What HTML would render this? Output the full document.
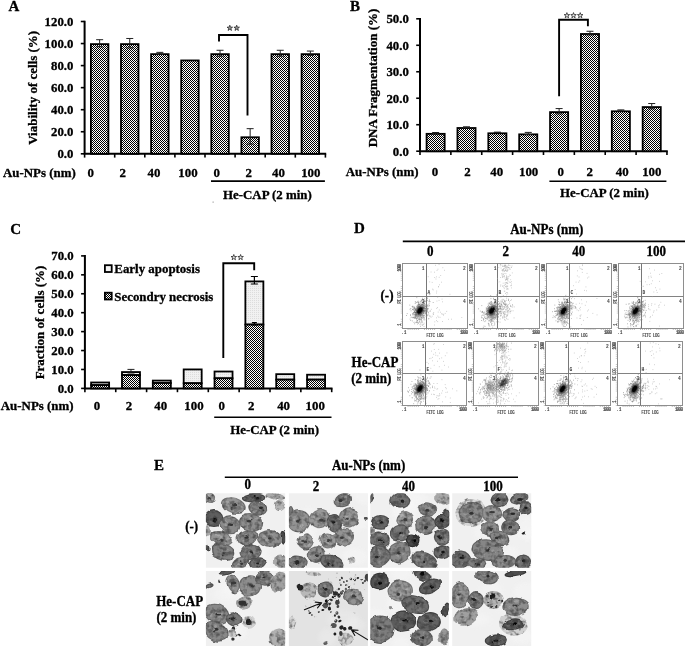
<!DOCTYPE html>
<html><head><meta charset="utf-8"><title>Figure</title>
<style>html,body{margin:0;padding:0;background:#fff}svg{display:block;opacity:.999}</style></head>
<body>
<svg width="685" height="646" viewBox="0 0 685 646" font-family="Liberation Serif, serif" font-weight="bold" fill="#000">
<defs>
<pattern id="chk" width="2" height="2" patternUnits="userSpaceOnUse"><rect width="2" height="2" fill="#fff"/><rect x="0" y="0" width="1" height="1" fill="#000"/><rect x="1" y="1" width="1" height="1" fill="#000"/></pattern>
<pattern id="lt" width="2" height="2" patternUnits="userSpaceOnUse"><rect width="2" height="2" fill="#f1f1f1"/><rect x="0" y="0" width="1" height="1" fill="#dcdcdc"/></pattern>
<filter id="b1" x="-20%" y="-20%" width="140%" height="140%"><feGaussianBlur stdDeviation="0.9"/></filter>
<filter id="b3" x="-50%" y="-50%" width="200%" height="200%"><feGaussianBlur stdDeviation="2"/></filter>
<filter id="cellf" x="-5%" y="-5%" width="110%" height="110%" color-interpolation-filters="sRGB"><feTurbulence type="fractalNoise" baseFrequency="0.09" numOctaves="2" seed="8" result="w"/><feDisplacementMap in="SourceGraphic" in2="w" scale="4.5" xChannelSelector="R" yChannelSelector="G" result="dp"/><feGaussianBlur in="dp" stdDeviation="0.6" result="bl"/><feTurbulence type="fractalNoise" baseFrequency="0.24" numOctaves="2" seed="3" result="n"/><feColorMatrix in="n" type="matrix" values="0 0 0 0 0  0 0 0 0 0  0 0 0 0 0  1.9 0 0 0 -0.85" result="na"/><feComposite in="na" in2="bl" operator="in" result="nm"/><feFlood flood-color="#3a3a3a" result="fl"/><feComposite in="fl" in2="nm" operator="in" result="dk"/><feMerge><feMergeNode in="bl"/><feMergeNode in="dk"/></feMerge></filter>
<filter id="debf" x="-5%" y="-5%" width="110%" height="110%"><feTurbulence type="fractalNoise" baseFrequency="0.25" numOctaves="2" seed="5" result="w"/><feDisplacementMap in="SourceGraphic" in2="w" scale="2.2" xChannelSelector="R" yChannelSelector="G" result="dp"/><feGaussianBlur in="dp" stdDeviation="0.45"/></filter>
<filter id="b2" x="-20%" y="-20%" width="140%" height="140%"><feGaussianBlur stdDeviation="0.5"/></filter>
</defs>
<rect width="685" height="646" fill="#fff"/>
<text x="8.5" y="11" font-size="15" text-anchor="start" stroke="#000" stroke-width="0.3" >A</text>
<path d="M84.6 20.7V153.8H326.2" fill="none" stroke="#000" stroke-width="2"/>
<path d="M80.8 153.80H84.6" stroke="#000" stroke-width="1.6"/>
<text transform="translate(73.39999999999999 158.1) scale(1 1.04)" font-size="12.8" text-anchor="end" stroke="#000" stroke-width="0.3" >0.0</text>
<path d="M80.8 131.75H84.6" stroke="#000" stroke-width="1.6"/>
<text transform="translate(73.39999999999999 136.05) scale(1 1.04)" font-size="12.8" text-anchor="end" stroke="#000" stroke-width="0.3" >20.0</text>
<path d="M80.8 109.70H84.6" stroke="#000" stroke-width="1.6"/>
<text transform="translate(73.39999999999999 114.0) scale(1 1.04)" font-size="12.8" text-anchor="end" stroke="#000" stroke-width="0.3" >40.0</text>
<path d="M80.8 87.65H84.6" stroke="#000" stroke-width="1.6"/>
<text transform="translate(73.39999999999999 91.95) scale(1 1.04)" font-size="12.8" text-anchor="end" stroke="#000" stroke-width="0.3" >60.0</text>
<path d="M80.8 65.60H84.6" stroke="#000" stroke-width="1.6"/>
<text transform="translate(73.39999999999999 69.9) scale(1 1.04)" font-size="12.8" text-anchor="end" stroke="#000" stroke-width="0.3" >80.0</text>
<path d="M80.8 43.55H84.6" stroke="#000" stroke-width="1.6"/>
<text transform="translate(73.39999999999999 47.85) scale(1 1.04)" font-size="12.8" text-anchor="end" stroke="#000" stroke-width="0.3" >100.0</text>
<path d="M80.8 21.50H84.6" stroke="#000" stroke-width="1.6"/>
<text transform="translate(73.39999999999999 25.8) scale(1 1.04)" font-size="12.8" text-anchor="end" stroke="#000" stroke-width="0.3" >120.0</text>
<path d="M84.60 153.8V157.60000000000002" stroke="#000" stroke-width="1.6"/>
<path d="M114.70 153.8V157.60000000000002" stroke="#000" stroke-width="1.6"/>
<path d="M144.80 153.8V157.60000000000002" stroke="#000" stroke-width="1.6"/>
<path d="M174.90 153.8V157.60000000000002" stroke="#000" stroke-width="1.6"/>
<path d="M205.00 153.8V157.60000000000002" stroke="#000" stroke-width="1.6"/>
<path d="M235.10 153.8V157.60000000000002" stroke="#000" stroke-width="1.6"/>
<path d="M265.20 153.8V157.60000000000002" stroke="#000" stroke-width="1.6"/>
<path d="M295.30 153.8V157.60000000000002" stroke="#000" stroke-width="1.6"/>
<path d="M325.40 153.8V157.60000000000002" stroke="#000" stroke-width="1.6"/>
<rect x="90.90" y="44.12" width="17.50" height="109.68" fill="url(#chk)" stroke="#000" stroke-width="1.8"/>
<path d="M99.65 39.69V46.75M96.15 39.69h7M96.15 46.75h7" stroke="#222" stroke-width="1.0" fill="none"/>
<rect x="121.00" y="44.12" width="17.50" height="109.68" fill="url(#chk)" stroke="#000" stroke-width="1.8"/>
<path d="M129.75 38.48V47.96M126.25 38.48h7M126.25 47.96h7" stroke="#222" stroke-width="1.0" fill="none"/>
<rect x="151.10" y="54.15" width="17.50" height="99.65" fill="url(#chk)" stroke="#000" stroke-width="1.8"/>
<path d="M159.85 52.37V54.13M156.35 52.37h7M156.35 54.13h7" stroke="#222" stroke-width="1.0" fill="none"/>
<rect x="181.20" y="60.44" width="17.50" height="93.36" fill="url(#chk)" stroke="#000" stroke-width="1.8"/>
<rect x="211.30" y="54.15" width="17.50" height="99.65" fill="url(#chk)" stroke="#000" stroke-width="1.8"/>
<path d="M220.05 50.28V56.23M216.55 50.28h7M216.55 56.23h7" stroke="#222" stroke-width="1.0" fill="none"/>
<rect x="241.40" y="137.28" width="17.50" height="16.52" fill="url(#chk)" stroke="#000" stroke-width="1.8"/>
<path d="M250.15 128.66V144.10M246.65 128.66h7M246.65 144.10h7" stroke="#222" stroke-width="1.0" fill="none"/>
<rect x="271.50" y="54.15" width="17.50" height="99.65" fill="url(#chk)" stroke="#000" stroke-width="1.8"/>
<path d="M280.25 50.28V56.23M276.75 50.28h7M276.75 56.23h7" stroke="#222" stroke-width="1.0" fill="none"/>
<rect x="301.60" y="54.15" width="17.50" height="99.65" fill="url(#chk)" stroke="#000" stroke-width="1.8"/>
<path d="M310.35 51.05V55.46M306.85 51.05h7M306.85 55.46h7" stroke="#222" stroke-width="1.0" fill="none"/>
<text transform="translate(37.4,87.8) rotate(-90)" font-size="13" text-anchor="middle" stroke="#000" stroke-width="0.3">Viability of cells (%)</text>
<text transform="translate(3 176.8) scale(1 1.04)" font-size="12.9" text-anchor="start" stroke="#000" stroke-width="0.3" >Au-NPs (nm)</text>
<text transform="translate(90.7 176.8) scale(1 1.04)" font-size="12.9" text-anchor="middle" stroke="#000" stroke-width="0.3" >0</text>
<text transform="translate(122.7 176.8) scale(1 1.04)" font-size="12.9" text-anchor="middle" stroke="#000" stroke-width="0.3" >2</text>
<text transform="translate(154 176.8) scale(1 1.04)" font-size="12.9" text-anchor="middle" stroke="#000" stroke-width="0.3" >40</text>
<text transform="translate(188 176.8) scale(1 1.04)" font-size="12.9" text-anchor="middle" stroke="#000" stroke-width="0.3" >100</text>
<text transform="translate(216.6 176.8) scale(1 1.04)" font-size="12.9" text-anchor="middle" stroke="#000" stroke-width="0.3" >0</text>
<text transform="translate(248.6 176.8) scale(1 1.04)" font-size="12.9" text-anchor="middle" stroke="#000" stroke-width="0.3" >2</text>
<text transform="translate(278.5 176.8) scale(1 1.04)" font-size="12.9" text-anchor="middle" stroke="#000" stroke-width="0.3" >40</text>
<text transform="translate(310.8 176.8) scale(1 1.04)" font-size="12.9" text-anchor="middle" stroke="#000" stroke-width="0.3" >100</text>
<path d="M211 181.1H324.9" stroke="#000" stroke-width="1.6"/>
<text transform="translate(267.4 198.7) scale(1 1.04)" font-size="12.9" text-anchor="middle" stroke="#000" stroke-width="0.3" >He-CAP (2 min)</text>
<rect x="212.6" y="201.6" width="1" height="1" fill="#777"/>
<path d="M219 41.6V35H247.5V115.6" fill="none" stroke="#000" stroke-width="1.9"/>
<polygon points="229.80,25.20 230.48,27.17 232.56,27.20 230.89,28.46 231.50,30.45 229.80,29.25 228.10,30.45 228.71,28.46 227.04,27.20 229.12,27.17" fill="#999" stroke="#222" stroke-width="0.75" stroke-linejoin="miter"/>
<polygon points="236.70,25.20 237.38,27.17 239.46,27.20 237.79,28.46 238.40,30.45 236.70,29.25 235.00,30.45 235.61,28.46 233.94,27.20 236.02,27.17" fill="#999" stroke="#222" stroke-width="0.75" stroke-linejoin="miter"/>
<text x="350" y="10.8" font-size="15" text-anchor="start" stroke="#000" stroke-width="0.3" >B</text>
<path d="M420.0 18.0V151.2H667.76" fill="none" stroke="#000" stroke-width="2"/>
<path d="M416.2 151.20H420.0" stroke="#000" stroke-width="1.6"/>
<text transform="translate(408.8 155.5) scale(1 1.04)" font-size="12.8" text-anchor="end" stroke="#000" stroke-width="0.3" >0.0</text>
<path d="M416.2 124.72H420.0" stroke="#000" stroke-width="1.6"/>
<text transform="translate(408.8 129.02) scale(1 1.04)" font-size="12.8" text-anchor="end" stroke="#000" stroke-width="0.3" >10.0</text>
<path d="M416.2 98.24H420.0" stroke="#000" stroke-width="1.6"/>
<text transform="translate(408.8 102.54) scale(1 1.04)" font-size="12.8" text-anchor="end" stroke="#000" stroke-width="0.3" >20.0</text>
<path d="M416.2 71.76H420.0" stroke="#000" stroke-width="1.6"/>
<text transform="translate(408.8 76.06) scale(1 1.04)" font-size="12.8" text-anchor="end" stroke="#000" stroke-width="0.3" >30.0</text>
<path d="M416.2 45.28H420.0" stroke="#000" stroke-width="1.6"/>
<text transform="translate(408.8 49.58) scale(1 1.04)" font-size="12.8" text-anchor="end" stroke="#000" stroke-width="0.3" >40.0</text>
<path d="M416.2 18.80H420.0" stroke="#000" stroke-width="1.6"/>
<text transform="translate(408.8 23.1) scale(1 1.04)" font-size="12.8" text-anchor="end" stroke="#000" stroke-width="0.3" >50.0</text>
<path d="M420.00 151.2V155.0" stroke="#000" stroke-width="1.6"/>
<path d="M450.87 151.2V155.0" stroke="#000" stroke-width="1.6"/>
<path d="M481.74 151.2V155.0" stroke="#000" stroke-width="1.6"/>
<path d="M512.61 151.2V155.0" stroke="#000" stroke-width="1.6"/>
<path d="M543.48 151.2V155.0" stroke="#000" stroke-width="1.6"/>
<path d="M574.35 151.2V155.0" stroke="#000" stroke-width="1.6"/>
<path d="M605.22 151.2V155.0" stroke="#000" stroke-width="1.6"/>
<path d="M636.09 151.2V155.0" stroke="#000" stroke-width="1.6"/>
<path d="M666.96 151.2V155.0" stroke="#000" stroke-width="1.6"/>
<rect x="426.58" y="133.83" width="18.10" height="17.37" fill="url(#chk)" stroke="#000" stroke-width="1.8"/>
<path d="M435.63 132.53V133.33M432.13 132.53h7M432.13 133.33h7" stroke="#222" stroke-width="1.0" fill="none"/>
<rect x="457.45" y="128.00" width="18.10" height="23.20" fill="url(#chk)" stroke="#000" stroke-width="1.8"/>
<path d="M466.50 126.84V127.37M463.00 126.84h7M463.00 127.37h7" stroke="#222" stroke-width="1.0" fill="none"/>
<rect x="488.32" y="133.30" width="18.10" height="17.90" fill="url(#chk)" stroke="#000" stroke-width="1.8"/>
<path d="M497.38 132.13V132.66M493.88 132.13h7M493.88 132.66h7" stroke="#222" stroke-width="1.0" fill="none"/>
<rect x="519.19" y="134.36" width="18.10" height="16.84" fill="url(#chk)" stroke="#000" stroke-width="1.8"/>
<path d="M528.25 132.40V134.52M524.75 132.40h7M524.75 134.52h7" stroke="#222" stroke-width="1.0" fill="none"/>
<rect x="550.06" y="112.12" width="18.10" height="39.08" fill="url(#chk)" stroke="#000" stroke-width="1.8"/>
<path d="M559.12 108.57V113.86M555.62 108.57h7M555.62 113.86h7" stroke="#222" stroke-width="1.0" fill="none"/>
<rect x="580.93" y="34.00" width="18.10" height="117.20" fill="url(#chk)" stroke="#000" stroke-width="1.8"/>
<path d="M589.99 31.25V34.95M586.49 31.25h7M586.49 34.95h7" stroke="#222" stroke-width="1.0" fill="none"/>
<rect x="611.80" y="111.32" width="18.10" height="39.88" fill="url(#chk)" stroke="#000" stroke-width="1.8"/>
<path d="M620.86 109.89V110.95M617.36 109.89h7M617.36 110.95h7" stroke="#222" stroke-width="1.0" fill="none"/>
<rect x="642.67" y="107.08" width="18.10" height="44.12" fill="url(#chk)" stroke="#000" stroke-width="1.8"/>
<path d="M651.73 103.54V108.83M648.23 103.54h7M648.23 108.83h7" stroke="#222" stroke-width="1.0" fill="none"/>
<text transform="translate(376.7,78) rotate(-90)" font-size="13" text-anchor="middle" stroke="#000" stroke-width="0.3">DNA Fragmentation (%)</text>
<text transform="translate(345.8 175.8) scale(1 1.04)" font-size="12.9" text-anchor="start" stroke="#000" stroke-width="0.3" >Au-NPs (nm)</text>
<text transform="translate(435 175.8) scale(1 1.04)" font-size="12.9" text-anchor="middle" stroke="#000" stroke-width="0.3" >0</text>
<text transform="translate(467.4 175.8) scale(1 1.04)" font-size="12.9" text-anchor="middle" stroke="#000" stroke-width="0.3" >2</text>
<text transform="translate(496.8 175.8) scale(1 1.04)" font-size="12.9" text-anchor="middle" stroke="#000" stroke-width="0.3" >40</text>
<text transform="translate(528.6 175.8) scale(1 1.04)" font-size="12.9" text-anchor="middle" stroke="#000" stroke-width="0.3" >100</text>
<text transform="translate(560.6 175.8) scale(1 1.04)" font-size="12.9" text-anchor="middle" stroke="#000" stroke-width="0.3" >0</text>
<text transform="translate(589.8 175.8) scale(1 1.04)" font-size="12.9" text-anchor="middle" stroke="#000" stroke-width="0.3" >2</text>
<text transform="translate(622.2 175.8) scale(1 1.04)" font-size="12.9" text-anchor="middle" stroke="#000" stroke-width="0.3" >40</text>
<text transform="translate(651.8 175.8) scale(1 1.04)" font-size="12.9" text-anchor="middle" stroke="#000" stroke-width="0.3" >100</text>
<path d="M549.4 181.3H666.4" stroke="#000" stroke-width="1.6"/>
<text transform="translate(604.5 197.2) scale(1 1.04)" font-size="12.9" text-anchor="middle" stroke="#000" stroke-width="0.3" >He-CAP (2 min)</text>
<path d="M559.1 96.2V19.8H587.9V26.2" fill="none" stroke="#000" stroke-width="1.9"/>
<polygon points="566.90,12.60 567.58,14.57 569.66,14.60 567.99,15.86 568.60,17.85 566.90,16.65 565.20,17.85 565.81,15.86 564.14,14.60 566.22,14.57" fill="#e8e8e8" stroke="#222" stroke-width="0.75" stroke-linejoin="miter"/>
<polygon points="573.50,12.60 574.18,14.57 576.26,14.60 574.59,15.86 575.20,17.85 573.50,16.65 571.80,17.85 572.41,15.86 570.74,14.60 572.82,14.57" fill="#e8e8e8" stroke="#222" stroke-width="0.75" stroke-linejoin="miter"/>
<polygon points="580.20,12.60 580.88,14.57 582.96,14.60 581.29,15.86 581.90,17.85 580.20,16.65 578.50,17.85 579.11,15.86 577.44,14.60 579.52,14.57" fill="#e8e8e8" stroke="#222" stroke-width="0.75" stroke-linejoin="miter"/>
<text x="10.3" y="233.8" font-size="15" text-anchor="start" stroke="#000" stroke-width="0.3" >C</text>
<path d="M84.9 255.1V388.4H332.50000000000006" fill="none" stroke="#000" stroke-width="2"/>
<path d="M81.10000000000001 388.40H84.9" stroke="#000" stroke-width="1.6"/>
<text transform="translate(73.7 392.7) scale(1 1.04)" font-size="12.8" text-anchor="end" stroke="#000" stroke-width="0.3" >0.0</text>
<path d="M81.10000000000001 369.47H84.9" stroke="#000" stroke-width="1.6"/>
<text transform="translate(73.7 373.77) scale(1 1.04)" font-size="12.8" text-anchor="end" stroke="#000" stroke-width="0.3" >10.0</text>
<path d="M81.10000000000001 350.54H84.9" stroke="#000" stroke-width="1.6"/>
<text transform="translate(73.7 354.84) scale(1 1.04)" font-size="12.8" text-anchor="end" stroke="#000" stroke-width="0.3" >20.0</text>
<path d="M81.10000000000001 331.61H84.9" stroke="#000" stroke-width="1.6"/>
<text transform="translate(73.7 335.91) scale(1 1.04)" font-size="12.8" text-anchor="end" stroke="#000" stroke-width="0.3" >30.0</text>
<path d="M81.10000000000001 312.69H84.9" stroke="#000" stroke-width="1.6"/>
<text transform="translate(73.7 316.99) scale(1 1.04)" font-size="12.8" text-anchor="end" stroke="#000" stroke-width="0.3" >40.0</text>
<path d="M81.10000000000001 293.76H84.9" stroke="#000" stroke-width="1.6"/>
<text transform="translate(73.7 298.06) scale(1 1.04)" font-size="12.8" text-anchor="end" stroke="#000" stroke-width="0.3" >50.0</text>
<path d="M81.10000000000001 274.83H84.9" stroke="#000" stroke-width="1.6"/>
<text transform="translate(73.7 279.13) scale(1 1.04)" font-size="12.8" text-anchor="end" stroke="#000" stroke-width="0.3" >60.0</text>
<path d="M81.10000000000001 255.90H84.9" stroke="#000" stroke-width="1.6"/>
<text transform="translate(73.7 260.2) scale(1 1.04)" font-size="12.8" text-anchor="end" stroke="#000" stroke-width="0.3" >70.0</text>
<path d="M84.90 388.4V392.2" stroke="#000" stroke-width="1.6"/>
<path d="M115.75 388.4V392.2" stroke="#000" stroke-width="1.6"/>
<path d="M146.60 388.4V392.2" stroke="#000" stroke-width="1.6"/>
<path d="M177.45 388.4V392.2" stroke="#000" stroke-width="1.6"/>
<path d="M208.30 388.4V392.2" stroke="#000" stroke-width="1.6"/>
<path d="M239.15 388.4V392.2" stroke="#000" stroke-width="1.6"/>
<path d="M270.00 388.4V392.2" stroke="#000" stroke-width="1.6"/>
<path d="M300.85 388.4V392.2" stroke="#000" stroke-width="1.6"/>
<path d="M331.70 388.4V392.2" stroke="#000" stroke-width="1.6"/>
<rect x="91.12" y="382.49" width="18.00" height="2.65" fill="url(#lt)" stroke="#000" stroke-width="1.8"/>
<rect x="91.12" y="385.14" width="18.00" height="3.26" fill="url(#chk)" stroke="#000" stroke-width="1.8"/>
<rect x="121.98" y="372.07" width="18.00" height="3.03" fill="url(#lt)" stroke="#000" stroke-width="1.8"/>
<rect x="121.98" y="375.10" width="18.00" height="13.30" fill="url(#chk)" stroke="#000" stroke-width="1.8"/>
<rect x="152.83" y="380.59" width="18.00" height="2.46" fill="url(#lt)" stroke="#000" stroke-width="1.8"/>
<rect x="152.83" y="383.05" width="18.00" height="5.35" fill="url(#chk)" stroke="#000" stroke-width="1.8"/>
<rect x="183.68" y="369.42" width="18.00" height="13.82" fill="url(#lt)" stroke="#000" stroke-width="1.8"/>
<rect x="183.68" y="383.24" width="18.00" height="5.16" fill="url(#chk)" stroke="#000" stroke-width="1.8"/>
<rect x="214.53" y="371.51" width="18.00" height="6.81" fill="url(#lt)" stroke="#000" stroke-width="1.8"/>
<rect x="214.53" y="378.32" width="18.00" height="10.08" fill="url(#chk)" stroke="#000" stroke-width="1.8"/>
<rect x="245.38" y="281.41" width="18.00" height="43.16" fill="url(#lt)" stroke="#000" stroke-width="1.8"/>
<rect x="245.38" y="324.56" width="18.00" height="63.84" fill="url(#chk)" stroke="#000" stroke-width="1.8"/>
<rect x="276.23" y="374.16" width="18.00" height="5.49" fill="url(#lt)" stroke="#000" stroke-width="1.8"/>
<rect x="276.23" y="379.65" width="18.00" height="8.75" fill="url(#chk)" stroke="#000" stroke-width="1.8"/>
<rect x="307.07" y="374.72" width="18.00" height="4.92" fill="url(#lt)" stroke="#000" stroke-width="1.8"/>
<rect x="307.07" y="379.65" width="18.00" height="8.75" fill="url(#chk)" stroke="#000" stroke-width="1.8"/>
<path d="M130.98 369.40V373.00M127.48 369.40h7M127.48 373.00h7" stroke="#222" stroke-width="1.0" fill="none"/>
<path d="M254.38 276.50V284.00M250.88 276.50h7M250.88 284.00h7" stroke="#000" stroke-width="1.2" fill="none"/>
<path d="M254.38 322.60V324.80M251.88 322.60h5M251.88 324.80h5" stroke="#000" stroke-width="1.2" fill="none"/>
<text transform="translate(44.3,322.5) rotate(-90)" font-size="13" text-anchor="middle" stroke="#000" stroke-width="0.3">Fraction of cells (%)</text>
<text transform="translate(0.8 410.2) scale(1 1.04)" font-size="12.9" text-anchor="start" stroke="#000" stroke-width="0.3" >Au-NPs (nm)</text>
<text transform="translate(97 410.2) scale(1 1.04)" font-size="12.9" text-anchor="middle" stroke="#000" stroke-width="0.3" >0</text>
<text transform="translate(129 410.2) scale(1 1.04)" font-size="12.9" text-anchor="middle" stroke="#000" stroke-width="0.3" >2</text>
<text transform="translate(160.8 410.2) scale(1 1.04)" font-size="12.9" text-anchor="middle" stroke="#000" stroke-width="0.3" >40</text>
<text transform="translate(194 410.2) scale(1 1.04)" font-size="12.9" text-anchor="middle" stroke="#000" stroke-width="0.3" >100</text>
<text transform="translate(221.7 410.2) scale(1 1.04)" font-size="12.9" text-anchor="middle" stroke="#000" stroke-width="0.3" >0</text>
<text transform="translate(251.1 410.2) scale(1 1.04)" font-size="12.9" text-anchor="middle" stroke="#000" stroke-width="0.3" >2</text>
<text transform="translate(283.6 410.2) scale(1 1.04)" font-size="12.9" text-anchor="middle" stroke="#000" stroke-width="0.3" >40</text>
<text transform="translate(315.2 410.2) scale(1 1.04)" font-size="12.9" text-anchor="middle" stroke="#000" stroke-width="0.3" >100</text>
<path d="M214.2 417.3H331.5" stroke="#000" stroke-width="1.6"/>
<text transform="translate(274.6 434.4) scale(1 1.04)" font-size="12.9" text-anchor="middle" stroke="#000" stroke-width="0.3" >He-CAP (2 min)</text>
<path d="M223.3 358V263.3H254.2V270.3" fill="none" stroke="#000" stroke-width="1.9"/>
<polygon points="233.80,254.50 234.48,256.47 236.56,256.50 234.89,257.76 235.50,259.75 233.80,258.55 232.10,259.75 232.71,257.76 231.04,256.50 233.12,256.47" fill="#e8e8e8" stroke="#222" stroke-width="0.75" stroke-linejoin="miter"/>
<polygon points="240.60,254.50 241.28,256.47 243.36,256.50 241.69,257.76 242.30,259.75 240.60,258.55 238.90,259.75 239.51,257.76 237.84,256.50 239.92,256.47" fill="#e8e8e8" stroke="#222" stroke-width="0.75" stroke-linejoin="miter"/>
<rect x="104.9" y="265.2" width="6.8" height="6.8" fill="#f4f4f4" stroke="#000" stroke-width="1.8"/>
<text transform="translate(114.3 273) scale(1 1.04)" font-size="12.9" text-anchor="start" stroke="#000" stroke-width="0.3" >Early apoptosis</text>
<rect x="104.9" y="292.7" width="6.8" height="6.8" fill="url(#chk)" stroke="#000" stroke-width="1.8"/>
<text transform="translate(114.3 300.6) scale(1 1.04)" font-size="12.9" text-anchor="start" stroke="#000" stroke-width="0.3" >Secondry necrosis</text>
<text transform="translate(354 233) scale(1 1.04)" font-size="15" text-anchor="start" stroke="#000" stroke-width="0.3" >D</text>
<text transform="translate(546.8 234.3) scale(1 1.04)" font-size="13" text-anchor="middle" stroke="#000" stroke-width="0.3" >Au-NPs (nm)</text>
<path d="M402.8 241.4H685" stroke="#000" stroke-width="1.6"/>
<text transform="translate(430.3 255.9) scale(1 1.04)" font-size="13" text-anchor="middle" stroke="#000" stroke-width="0.3" >0</text>
<text transform="translate(505.8 255.9) scale(1 1.04)" font-size="13" text-anchor="middle" stroke="#000" stroke-width="0.3" >2</text>
<text transform="translate(578.8 255.9) scale(1 1.04)" font-size="13" text-anchor="middle" stroke="#000" stroke-width="0.3" >40</text>
<text transform="translate(656.2 255.9) scale(1 1.04)" font-size="13" text-anchor="middle" stroke="#000" stroke-width="0.3" >100</text>
<text transform="translate(387 300.2) scale(1 1.04)" font-size="13" text-anchor="middle" stroke="#000" stroke-width="0.3" >(-)</text>
<text transform="translate(375 366.6) scale(1 1.04)" font-size="13" text-anchor="middle" stroke="#000" stroke-width="0.3" >He-CAP</text>
<text transform="translate(371.2 382.6) scale(1 1.04)" font-size="13" text-anchor="middle" stroke="#000" stroke-width="0.3" >(2 min)</text>
<g>
<rect x="402.5" y="263.5" width="65.0" height="65.0" fill="#fff" stroke="#8e8e8e" stroke-width="1"/>
<path d="M402.5 296.5H467.5" stroke="#828282" stroke-width="1"/>
<path d="M426.5 263.5V328.5" stroke="#787878" stroke-width="1.0"/>
<ellipse cx="419.9" cy="311.0" rx="5.4" ry="3.6" transform="rotate(-62 419.9 310.5)" fill="#777" opacity="0.55" filter="url(#b3)"/>
<path d="M417.5 317.1h.7M421.2 304.7h.7M415.7 316.7h.7M424.9 310.4h.7M412.1 313.7h.7M423.5 308.1h.7M427.6 305.2h.7M418.7 310.4h.7M426.6 297.7h.7M413.9 311.9h.7M420.7 310.3h.7M418.7 312.0h.7M422.9 310.6h.7M423.8 305.7h.7M416.9 320.4h.7M415.1 316.9h.7M415.5 317.5h.7M418.3 314.6h.7M429.5 294.7h.7M418.1 303.8h.7M421.2 313.2h.7M420.8 311.7h.7M417.0 308.0h.7M419.0 306.2h.7M423.8 300.6h.7M421.9 307.2h.7M420.8 304.8h.7M422.5 305.5h.7M425.7 305.8h.7M417.8 308.3h.7M423.7 307.8h.7M423.6 301.9h.7M423.2 308.9h.7M421.4 309.6h.7M418.5 308.4h.7M415.6 314.5h.7M426.5 310.7h.7M426.2 308.0h.7M424.5 308.2h.7M422.9 311.2h.7M424.1 301.4h.7M424.2 317.7h.7M423.8 311.3h.7M418.8 304.1h.7M432.8 302.5h.7M422.9 311.2h.7M417.4 308.1h.7M420.8 311.8h.7M425.5 306.6h.7M424.4 312.9h.7M420.2 315.7h.7M422.3 304.6h.7M411.7 317.2h.7M422.3 310.4h.7M421.3 301.1h.7M422.0 311.8h.7M411.8 306.5h.7M429.7 311.3h.7M419.9 303.9h.7M419.4 312.9h.7M429.3 299.9h.7M425.3 313.1h.7M425.7 314.6h.7M416.3 312.8h.7M426.6 309.9h.7M422.8 308.0h.7M412.2 317.7h.7M416.4 312.3h.7M420.6 307.0h.7M422.5 306.9h.7M419.3 312.3h.7M423.9 310.2h.7M417.7 312.3h.7M421.0 320.2h.7M423.6 303.2h.7M414.5 310.3h.7M421.1 310.1h.7M427.2 300.6h.7M409.7 309.3h.7M424.7 304.2h.7M415.7 318.5h.7M426.3 325.1h.7M425.1 306.3h.7M412.5 307.0h.7M414.5 308.0h.7M414.8 303.4h.7M421.1 317.3h.7M421.0 300.3h.7M418.2 319.6h.7M419.3 304.5h.7M415.6 312.4h.7M414.2 314.8h.7M425.8 305.9h.7M425.7 300.6h.7M416.3 309.2h.7M415.3 308.4h.7M416.9 320.3h.7M426.9 305.3h.7M424.7 304.7h.7M418.0 314.1h.7M415.2 310.0h.7M410.1 315.6h.7M420.4 310.8h.7M423.1 315.6h.7M422.3 310.8h.7M420.9 303.1h.7M416.5 321.4h.7M422.1 316.4h.7M424.1 310.9h.7M415.5 302.7h.7M419.9 305.7h.7M416.3 313.2h.7M425.0 308.6h.7M417.6 302.4h.7M410.5 308.5h.7M421.5 312.2h.7M418.4 314.6h.7M423.8 311.4h.7M414.8 312.7h.7M423.3 317.7h.7M422.7 305.1h.7M420.9 309.7h.7M419.8 309.1h.7M414.9 309.6h.7M423.3 316.9h.7M421.7 308.1h.7M419.5 311.6h.7M418.9 307.5h.7M421.3 310.1h.7M415.1 312.5h.7M413.5 313.1h.7M414.9 301.5h.7M417.1 310.5h.7M418.4 313.6h.7M423.5 305.3h.7M417.5 309.9h.7M422.5 312.9h.7M415.0 310.1h.7M412.6 314.3h.7M419.3 319.3h.7M420.2 308.3h.7M422.1 302.2h.7M424.7 308.5h.7M410.3 314.7h.7M420.1 316.7h.7M419.8 301.9h.7M421.8 304.7h.7M417.0 311.3h.7M413.1 308.4h.7M412.9 312.8h.7M428.1 312.4h.7M426.9 296.8h.7M413.5 317.9h.7M423.5 319.0h.7M419.2 306.3h.7M424.4 307.1h.7M413.4 317.1h.7M419.3 311.7h.7M419.2 309.2h.7M418.6 308.4h.7M422.1 317.8h.7M422.4 309.7h.7M414.6 317.7h.7M418.2 304.0h.7M421.9 304.5h.7M420.7 308.3h.7M424.4 311.9h.7M423.7 315.6h.7M414.6 312.3h.7M418.6 305.0h.7M421.7 314.1h.7M417.8 301.2h.7M427.5 311.9h.7M422.7 304.3h.7M417.2 312.8h.7M415.6 315.4h.7M418.9 311.1h.7M422.7 304.4h.7M419.0 319.5h.7M415.3 314.7h.7M418.4 310.4h.7M416.1 314.8h.7M424.4 298.9h.7M423.1 313.4h.7M424.6 308.5h.7M416.1 302.4h.7M417.7 314.9h.7M425.6 310.7h.7M420.5 307.8h.7M419.3 309.9h.7M422.8 310.7h.7M416.3 310.5h.7M420.9 316.8h.7M426.9 306.4h.7M425.1 308.1h.7M422.0 311.8h.7M416.1 315.1h.7M420.1 315.4h.7M417.8 313.0h.7M425.5 311.3h.7M414.5 312.4h.7M418.8 304.4h.7M419.4 307.2h.7M413.7 307.3h.7M420.4 306.1h.7M423.9 319.0h.7M433.3 314.2h.7M420.0 307.9h.7M425.4 313.2h.7M421.3 311.5h.7M418.5 306.2h.7M418.7 308.9h.7M419.0 318.2h.7M422.1 307.5h.7M410.7 310.8h.7M421.0 308.0h.7M414.7 318.4h.7M415.3 317.7h.7M421.5 310.5h.7M421.1 309.8h.7M415.3 315.1h.7M417.6 312.5h.7M422.7 310.5h.7M416.5 297.6h.7M420.5 308.2h.7M429.7 301.6h.7M416.3 319.2h.7M421.6 315.0h.7M416.4 315.3h.7M419.2 310.9h.7M412.2 309.6h.7M424.5 310.3h.7M416.4 308.8h.7M422.3 310.7h.7M419.3 311.3h.7M420.5 301.6h.7M412.1 309.3h.7M415.4 312.3h.7M414.8 313.7h.7M424.6 301.6h.7M426.6 315.5h.7M414.1 307.3h.7M418.1 306.7h.7M420.7 300.2h.7M413.0 310.0h.7M416.9 308.0h.7M418.5 310.1h.7M421.1 315.3h.7M422.9 306.2h.7M413.8 312.6h.7M428.4 314.0h.7M416.0 311.1h.7M414.3 311.6h.7M416.4 314.7h.7M424.2 303.7h.7M413.2 309.7h.7M420.4 309.4h.7M412.8 314.1h.7M423.0 312.7h.7M422.4 307.9h.7M420.0 312.7h.7M426.9 314.9h.7M415.4 315.1h.7M422.8 303.9h.7M424.0 303.6h.7M419.1 309.1h.7M412.7 315.1h.7M428.6 301.3h.7M424.8 309.5h.7M424.9 309.9h.7M418.4 311.3h.7M421.7 305.1h.7M415.2 316.4h.7M420.3 314.3h.7M414.3 311.8h.7M423.9 315.2h.7M420.3 311.1h.7M420.9 311.1h.7M427.2 308.9h.7M419.4 321.1h.7M418.9 309.9h.7M426.5 298.8h.7M428.8 303.2h.7M418.4 316.4h.7M421.7 306.7h.7M411.9 320.9h.7M415.8 309.2h.7M424.5 301.3h.7M417.8 311.8h.7M415.1 312.7h.7M421.2 310.7h.7M418.1 312.7h.7M417.5 318.2h.7M418.4 314.5h.7M415.5 313.8h.7M416.6 307.0h.7M427.1 298.7h.7M417.3 309.4h.7M429.1 305.7h.7M416.4 306.3h.7M420.4 314.1h.7M414.6 310.5h.7M413.9 314.6h.7M417.9 309.1h.7M429.0 316.0h.7M421.8 300.0h.7M421.2 309.0h.7M422.9 313.3h.7M417.9 311.4h.7M418.5 312.1h.7M426.2 306.0h.7M414.5 316.0h.7M420.2 315.9h.7M423.4 311.2h.7M413.6 307.0h.7M422.0 308.8h.7M417.2 305.5h.7M417.9 308.7h.7M419.0 314.5h.7M418.1 307.0h.7M406.8 313.6h.7M421.8 315.5h.7M412.5 306.2h.7M418.7 315.4h.7M428.6 304.9h.7M421.6 309.2h.7M415.3 314.6h.7M416.4 310.5h.7M418.8 309.4h.7M425.5 311.8h.7M423.4 307.8h.7M414.3 308.6h.7M421.3 312.1h.7M420.9 317.8h.7M420.1 312.8h.7M414.9 309.5h.7M422.3 298.3h.7M420.8 305.0h.7M418.1 307.6h.7M421.6 314.3h.7M422.9 299.6h.7M423.0 312.4h.7M420.3 314.9h.7M419.5 315.4h.7M425.1 310.9h.7M417.1 306.4h.7M418.3 305.1h.7M427.0 310.0h.7M419.9 306.6h.7M424.0 305.2h.7M415.1 315.7h.7M423.1 303.1h.7M419.2 309.2h.7M413.3 317.5h.7M421.6 309.2h.7M412.5 307.0h.7M425.8 306.1h.7M427.1 308.3h.7M416.6 311.4h.7M426.2 312.4h.7M414.2 318.0h.7M419.6 315.0h.7M423.3 302.9h.7M416.4 316.5h.7M414.1 308.7h.7M420.8 305.2h.7M417.7 304.6h.7M418.5 302.4h.7M417.2 301.9h.7M422.8 303.2h.7M414.5 317.4h.7M417.7 306.9h.7M419.3 313.4h.7M409.5 305.1h.7M420.0 313.4h.7M424.0 311.1h.7M426.1 318.9h.7M423.3 307.3h.7M426.2 307.3h.7M418.2 308.8h.7M424.3 306.5h.7M410.7 317.3h.7M421.6 308.5h.7M422.8 310.5h.7M425.4 313.0h.7M416.9 312.5h.7M423.3 310.5h.7M427.0 309.8h.7M422.2 315.1h.7M417.9 306.2h.7M426.2 315.4h.7M420.7 305.8h.7M410.4 320.4h.7M418.1 314.0h.7M429.2 301.0h.7M417.8 307.1h.7M415.7 315.7h.7M428.2 318.8h.7M416.7 311.2h.7M423.5 305.3h.7M420.4 319.0h.7M414.7 309.3h.7M422.4 310.0h.7M421.1 313.5h.7M419.5 304.8h.7M406.1 315.5h.7M423.5 313.6h.7M427.4 308.5h.7M425.5 301.7h.7M418.1 302.4h.7M423.2 308.0h.7M418.2 310.1h.7M417.0 316.1h.7M422.5 303.7h.7M419.3 306.6h.7M417.4 307.3h.7M420.3 308.3h.7M418.9 307.8h.7M415.3 315.4h.7M428.1 308.8h.7M421.5 313.7h.7M423.4 307.7h.7M416.3 318.5h.7M420.8 317.5h.7M424.2 308.0h.7M414.4 323.8h.7M417.9 304.6h.7M423.0 306.0h.7M417.1 309.9h.7M415.5 314.5h.7" stroke="#777" stroke-width=".7" fill="none" opacity="1"/>
<path d="M428.7 318.6h.7M420.0 313.9h.7M417.5 314.5h.7M416.7 322.3h.7M418.6 322.3h.7M415.9 322.6h.7M419.3 321.2h.7M419.1 312.6h.7M423.0 315.1h.7M419.0 312.6h.7M420.0 315.4h.7M420.2 319.4h.7M417.3 309.7h.7M420.7 322.5h.7M421.5 311.2h.7M421.2 319.6h.7M420.3 319.9h.7M418.4 318.7h.7M422.2 314.7h.7M415.1 316.9h.7M420.0 307.4h.7M417.4 320.7h.7M418.9 318.0h.7M415.6 322.5h.7M424.7 316.4h.7M417.2 311.1h.7M422.1 318.1h.7M417.0 324.2h.7M421.7 320.8h.7M414.1 316.9h.7M421.3 310.8h.7M422.2 325.4h.7M422.5 313.5h.7M417.3 322.7h.7M422.4 324.3h.7M423.0 317.0h.7M418.2 307.3h.7M418.0 314.9h.7M421.3 319.6h.7M415.3 313.6h.7M417.2 322.2h.7M423.7 326.5h.7M415.7 315.6h.7M417.2 315.9h.7M427.3 308.3h.7M421.1 310.7h.7M423.4 324.6h.7M419.6 324.7h.7M420.3 314.4h.7M418.3 316.9h.7M421.3 318.2h.7M426.5 316.4h.7M418.0 313.5h.7M417.1 309.6h.7M416.4 322.5h.7M419.6 316.6h.7M420.5 323.4h.7M421.2 321.8h.7M417.7 316.1h.7M417.1 317.0h.7M416.9 315.5h.7M418.9 316.3h.7M418.6 314.8h.7M423.3 315.6h.7M416.4 318.6h.7M416.1 311.6h.7M419.7 308.3h.7M409.7 319.1h.7M422.5 308.3h.7M416.7 320.7h.7M413.4 312.7h.7M415.8 316.4h.7M413.5 322.4h.7M419.0 319.2h.7M418.4 305.8h.7M418.9 310.1h.7M419.4 312.8h.7M418.4 316.3h.7M421.7 321.7h.7M416.4 317.4h.7M423.8 320.2h.7M417.2 316.8h.7M418.4 322.7h.7M419.5 319.6h.7M426.0 309.9h.7M416.4 308.0h.7M414.6 322.2h.7M420.3 326.5h.7M413.5 312.7h.7M423.7 323.2h.7M422.1 322.3h.7M419.5 317.4h.7M419.5 322.1h.7M418.9 319.3h.7M423.8 311.3h.7M417.1 320.6h.7M418.6 316.6h.7M425.7 319.8h.7M418.1 323.5h.7M427.0 311.4h.7M417.4 318.1h.7M421.0 315.3h.7M420.9 313.1h.7M417.6 318.1h.7M426.6 305.1h.7M420.7 324.9h.7M420.8 318.3h.7M419.0 312.8h.7M424.3 311.0h.7M419.0 314.6h.7" stroke="#999" stroke-width=".7" fill="none" opacity="1"/>
<ellipse cx="419.9" cy="310.5" rx="4.4" ry="2.7" transform="rotate(-58 419.9 310.5)" fill="#000" filter="url(#b1)"/>
<ellipse cx="419.9" cy="310.5" rx="3.3" ry="1.9" transform="rotate(-58 419.9 310.5)" fill="#000" opacity="0.9"/>
<path d="M435.6 279.0h.7M438.2 286.8h.7M436.7 270.4h.7M439.0 284.8h.7M432.4 289.1h.7M442.5 267.7h.7M438.1 286.7h.7M444.1 270.3h.7M436.3 293.0h.7M449.6 294.3h.7M431.8 282.4h.7M436.0 276.9h.7M434.2 272.2h.7M437.4 297.3h.7M441.0 282.2h.7M437.6 269.2h.7M436.4 291.1h.7M441.7 299.1h.7M438.8 277.3h.7M429.4 281.9h.7M428.9 294.3h.7M434.4 277.5h.7M430.7 272.0h.7M432.8 289.9h.7M438.7 264.5h.7M427.8 276.7h.7M435.1 265.3h.7M440.4 275.5h.7" stroke="#a8a8a8" stroke-width=".7" fill="none" opacity="1"/>
<path d="M436.4 308.4h.7M430.9 309.3h.7M422.7 316.9h.7M438.7 300.4h.7M436.3 320.6h.7M437.4 321.6h.7M433.4 312.5h.7M425.1 306.2h.7M420.9 306.2h.7M437.5 316.1h.7M444.8 313.4h.7M427.6 315.5h.7M434.3 325.0h.7M451.2 319.2h.7M426.4 308.8h.7M437.0 307.5h.7M439.7 317.3h.7M442.2 314.1h.7M428.4 306.6h.7M434.5 321.8h.7M448.1 319.3h.7M438.4 317.2h.7M442.1 321.5h.7M442.3 301.8h.7M443.1 315.2h.7M431.8 316.2h.7M437.8 312.1h.7M422.0 313.3h.7M440.0 312.2h.7M422.8 315.7h.7M441.3 313.8h.7M438.9 310.0h.7M430.2 316.2h.7M432.7 313.8h.7M461.5 317.5h.7M436.6 301.1h.7M436.3 317.8h.7M429.9 310.8h.7M417.5 316.4h.7M430.7 317.3h.7M446.4 311.4h.7M443.4 314.3h.7" stroke="#a8a8a8" stroke-width=".7" fill="none" opacity="1"/>
<path d="M407.6 329.4h0.9M409.6 329.4h0.9M411.7 329.4h0.9M413.8 329.4h0.9M415.8 329.4h0.9M417.9 329.4h0.9M424.0 329.4h0.9M426.1 329.4h0.9M428.1 329.4h0.9M430.1 329.4h0.9M432.2 329.4h0.9M434.2 329.4h0.9M440.4 329.4h0.9M442.4 329.4h0.9M444.5 329.4h0.9M446.6 329.4h0.9M448.6 329.4h0.9M450.6 329.4h0.9M456.8 329.4h0.9M458.9 329.4h0.9M460.9 329.4h0.9M462.9 329.4h0.9M465.0 329.4h0.9" stroke="#999" stroke-width="0.8"/>
<path d="M401.3 269.6v0.9M401.3 271.6v0.9M401.3 273.7v0.9M401.3 275.8v0.9M401.3 277.8v0.9M401.3 279.9v0.9M401.3 286.0v0.9M401.3 288.1v0.9M401.3 290.1v0.9M401.3 292.1v0.9M401.3 294.2v0.9M401.3 296.2v0.9M401.3 302.4v0.9M401.3 304.4v0.9M401.3 306.5v0.9M401.3 308.6v0.9M401.3 310.6v0.9M401.3 312.6v0.9M401.3 318.8v0.9M401.3 320.9v0.9M401.3 322.9v0.9M401.3 324.9v0.9M401.3 327.0v0.9" stroke="#aaa" stroke-width="0.8"/>
<g font-family="Liberation Mono, monospace" font-weight="bold" fill="#3c3c3c" font-size="4.6">
<text x="423.1" y="269.8" text-anchor="middle">1</text>
<text x="464.5" y="269.8" text-anchor="middle">2</text>
<text x="423.1" y="302.8" text-anchor="middle">3</text>
<text x="464.5" y="302.8" text-anchor="middle">4</text>
<text x="428.9" y="294.3" text-anchor="middle">A</text>
<text x="403.7" y="333.7" text-anchor="middle">.1</text>
<text x="463.9" y="333.7" text-anchor="middle" textLength="8.5">1000</text>
<text x="434.9" y="337.0" text-anchor="middle" fill="#555" textLength="17.5">FITC LOG</text>
<text transform="translate(401.3,267.7) rotate(-90)" text-anchor="middle" textLength="8">1000</text>
<text transform="translate(401.3,297.5) rotate(-90)" text-anchor="middle" fill="#555" textLength="12.5">PI LOG</text>
<text transform="translate(401.3,324.5) rotate(-90)" text-anchor="middle">1</text>
</g>
</g>
<g>
<rect x="474.5" y="263.5" width="65.0" height="65.0" fill="#fff" stroke="#8e8e8e" stroke-width="1"/>
<path d="M474.5 296.5H539.5" stroke="#828282" stroke-width="1"/>
<path d="M497.5 263.5V328.5" stroke="#787878" stroke-width="1.0"/>
<ellipse cx="491.9" cy="311.0" rx="5.4" ry="3.6" transform="rotate(-62 491.9 310.5)" fill="#777" opacity="0.55" filter="url(#b3)"/>
<path d="M490.4 310.9h.7M493.5 317.1h.7M491.3 304.3h.7M492.0 305.0h.7M491.3 320.1h.7M491.9 319.0h.7M495.4 311.4h.7M497.1 310.4h.7M494.8 310.0h.7M496.2 311.5h.7M494.0 314.4h.7M496.2 303.2h.7M491.6 307.4h.7M491.9 312.4h.7M488.0 310.3h.7M492.4 311.0h.7M495.1 310.4h.7M491.2 321.8h.7M488.9 309.8h.7M492.2 313.2h.7M493.3 305.6h.7M487.2 306.5h.7M492.0 309.5h.7M493.5 314.3h.7M500.5 304.1h.7M494.5 317.3h.7M490.8 312.0h.7M491.6 314.2h.7M494.0 308.2h.7M490.8 311.2h.7M493.8 314.4h.7M489.9 312.7h.7M488.9 310.0h.7M486.5 308.6h.7M494.9 309.7h.7M496.0 315.0h.7M491.3 315.5h.7M491.6 307.2h.7M494.0 313.4h.7M493.0 310.8h.7M496.7 304.3h.7M484.6 316.9h.7M494.0 306.3h.7M482.4 311.6h.7M497.7 312.0h.7M481.2 312.1h.7M491.6 307.1h.7M490.0 311.2h.7M490.6 315.6h.7M495.8 306.9h.7M493.6 315.2h.7M493.4 312.2h.7M491.2 316.2h.7M498.2 309.6h.7M493.4 311.3h.7M493.0 315.0h.7M497.6 309.0h.7M486.9 309.9h.7M491.0 310.4h.7M491.6 315.2h.7M496.0 306.8h.7M496.4 306.1h.7M487.2 313.9h.7M493.1 313.5h.7M495.0 306.4h.7M492.3 304.1h.7M496.3 314.0h.7M496.5 310.5h.7M481.1 316.0h.7M492.6 316.6h.7M494.7 301.6h.7M485.8 313.1h.7M491.1 315.8h.7M497.0 315.7h.7M491.9 305.8h.7M492.1 309.1h.7M497.1 308.6h.7M493.7 313.9h.7M493.3 307.7h.7M494.8 310.6h.7M488.8 310.6h.7M495.6 304.6h.7M491.6 314.2h.7M487.8 317.5h.7M486.6 316.0h.7M484.4 317.4h.7M494.0 306.0h.7M493.9 319.6h.7M494.8 316.4h.7M485.8 310.0h.7M495.9 301.0h.7M497.9 309.3h.7M488.3 316.8h.7M492.2 314.4h.7M487.9 308.0h.7M494.5 311.7h.7M492.9 313.0h.7M490.2 312.9h.7M493.4 309.1h.7M498.6 306.4h.7M496.7 308.0h.7M488.7 307.5h.7M500.5 309.0h.7M491.8 308.9h.7M495.6 313.0h.7M489.7 307.2h.7M489.0 309.8h.7M488.5 309.7h.7M494.1 317.5h.7M489.9 302.4h.7M487.7 314.2h.7M486.5 309.6h.7M489.4 303.2h.7M496.2 308.6h.7M488.8 310.9h.7M492.6 310.5h.7M481.9 317.8h.7M493.1 307.8h.7M487.6 310.5h.7M487.5 312.2h.7M496.1 295.0h.7M497.9 304.3h.7M493.2 309.9h.7M495.9 315.4h.7M493.3 308.1h.7M492.2 311.4h.7M487.6 315.2h.7M492.1 314.6h.7M487.8 304.0h.7M494.4 313.5h.7M484.5 314.2h.7M494.4 305.6h.7M486.8 310.2h.7M490.7 308.6h.7M493.9 310.3h.7M493.0 306.6h.7M490.5 313.0h.7M492.2 311.3h.7M489.7 312.5h.7M488.4 312.0h.7M496.0 312.0h.7M492.2 314.1h.7M493.3 309.1h.7M492.2 306.2h.7M494.5 308.4h.7M482.9 327.4h.7M499.9 311.5h.7M489.2 315.6h.7M489.9 306.9h.7M496.9 305.8h.7M485.9 311.8h.7M498.2 317.1h.7M490.4 295.6h.7M488.8 320.3h.7M489.6 309.7h.7M494.0 307.9h.7M493.6 309.7h.7M492.9 318.1h.7M494.2 314.9h.7M494.1 307.3h.7M492.2 309.7h.7M485.6 318.4h.7M488.1 305.3h.7M491.0 319.6h.7M489.4 303.7h.7M493.1 308.2h.7M493.8 305.3h.7M488.9 310.0h.7M492.1 309.4h.7M488.9 312.8h.7M491.7 315.2h.7M484.0 312.2h.7M492.6 317.1h.7M492.5 314.1h.7M492.5 306.0h.7M495.7 308.0h.7M489.6 309.3h.7M487.7 308.2h.7M489.3 310.6h.7M494.3 309.1h.7M492.8 315.2h.7M495.6 305.0h.7M491.4 314.9h.7M482.9 320.7h.7M500.0 311.7h.7M494.6 317.0h.7M504.7 303.3h.7M488.5 323.7h.7M495.7 311.6h.7M489.5 310.1h.7M496.0 314.5h.7M493.5 306.0h.7M495.8 310.4h.7M493.5 307.7h.7M487.6 312.1h.7M488.9 311.4h.7M482.8 315.1h.7M490.9 304.1h.7M487.9 316.6h.7M500.2 306.2h.7M487.4 310.4h.7M487.4 311.2h.7M491.8 314.0h.7M486.3 313.9h.7M491.1 311.7h.7M487.1 312.5h.7M486.2 314.3h.7M492.7 307.5h.7M484.7 326.4h.7M488.9 309.1h.7M481.5 305.6h.7M490.8 320.6h.7M505.2 304.8h.7M489.9 314.0h.7M490.3 304.3h.7M494.7 300.8h.7M489.3 306.5h.7M492.9 308.7h.7M491.4 303.1h.7M497.7 314.2h.7M489.5 316.9h.7M491.6 307.4h.7M495.7 314.6h.7M497.1 306.2h.7M489.1 306.9h.7M497.9 313.7h.7M490.7 302.8h.7M483.6 319.0h.7M490.6 308.6h.7M492.1 312.6h.7M495.2 306.7h.7M491.0 301.7h.7M494.7 309.1h.7M491.5 320.1h.7M482.5 315.2h.7M504.0 300.4h.7M497.4 311.4h.7M491.7 302.8h.7M497.9 311.0h.7M491.7 311.4h.7M492.9 314.2h.7M488.4 311.9h.7M485.3 314.5h.7M494.1 310.4h.7M487.4 310.2h.7M494.1 309.6h.7M494.1 303.4h.7M492.3 313.5h.7M496.3 303.1h.7M488.6 309.0h.7M493.8 314.2h.7M498.1 308.7h.7M489.7 320.0h.7M491.1 316.1h.7M484.5 321.6h.7M493.4 317.3h.7M496.5 312.6h.7M497.0 316.6h.7M496.7 316.5h.7M487.3 310.8h.7M493.3 305.4h.7M487.4 308.0h.7M491.2 312.4h.7M491.1 314.7h.7M487.9 323.3h.7M495.5 315.4h.7M488.7 310.8h.7M491.5 313.2h.7M492.2 306.7h.7M490.9 315.2h.7M488.7 303.0h.7M486.6 314.2h.7M501.0 304.8h.7M495.9 307.7h.7M492.2 318.2h.7M488.0 311.0h.7M493.0 298.3h.7M496.7 304.3h.7M489.7 315.3h.7M490.0 314.9h.7M486.1 311.2h.7M498.3 296.7h.7M494.7 305.6h.7M489.8 304.7h.7M478.1 308.8h.7M496.4 306.6h.7M491.1 317.9h.7M503.2 313.6h.7M495.6 311.2h.7M496.3 309.1h.7M490.5 309.8h.7M498.1 309.6h.7M484.7 313.8h.7M497.7 314.4h.7M485.8 308.0h.7M496.8 308.1h.7M498.4 301.5h.7M495.5 299.5h.7M495.1 306.4h.7M487.4 315.7h.7M499.6 306.4h.7M494.4 314.6h.7M497.6 308.0h.7M493.8 309.7h.7M489.2 314.3h.7M489.9 308.4h.7M491.6 312.2h.7M496.0 311.6h.7M487.5 314.6h.7M491.5 308.4h.7M491.4 307.9h.7M494.7 304.4h.7M491.0 317.5h.7M490.6 298.6h.7M491.8 311.2h.7M499.9 308.6h.7M486.4 308.1h.7M497.2 309.3h.7M493.6 308.4h.7M497.4 319.4h.7M483.4 313.2h.7M495.8 306.4h.7M495.1 308.0h.7M501.6 305.3h.7M493.6 315.2h.7M482.8 312.7h.7M494.2 303.8h.7M485.4 320.8h.7M491.6 314.7h.7M489.3 309.2h.7M492.3 315.5h.7M489.6 315.2h.7M490.4 316.1h.7M499.1 303.1h.7M496.8 306.0h.7M488.1 314.5h.7M493.6 311.0h.7M492.1 314.6h.7M490.0 314.1h.7M488.2 308.2h.7M495.1 305.8h.7M492.2 309.9h.7M481.1 317.7h.7M492.5 316.8h.7M492.2 314.5h.7M486.1 313.7h.7M494.0 314.9h.7M486.4 318.1h.7M493.6 308.8h.7M494.4 312.1h.7M489.5 307.1h.7M491.3 305.9h.7M495.6 315.1h.7M504.0 301.7h.7M490.7 306.9h.7M495.1 317.5h.7M488.4 306.1h.7M498.5 304.1h.7M497.2 305.0h.7M483.1 319.3h.7M491.0 310.8h.7M494.3 301.9h.7M491.5 310.8h.7M488.3 308.8h.7M479.9 311.1h.7M492.3 308.5h.7M489.1 307.4h.7M488.8 308.5h.7M490.0 316.0h.7M495.7 308.6h.7M490.6 309.9h.7M500.2 306.3h.7M486.5 311.3h.7M494.1 309.4h.7M496.6 319.5h.7M483.0 318.8h.7M495.9 311.3h.7M485.0 318.5h.7M500.8 306.5h.7M491.3 311.8h.7M490.6 315.5h.7M482.2 311.4h.7M487.6 317.9h.7M491.6 319.1h.7M499.0 306.4h.7M497.6 309.7h.7M495.5 311.0h.7M495.9 309.8h.7M486.8 314.0h.7M491.6 316.9h.7M490.9 306.5h.7M487.1 314.0h.7M494.2 306.1h.7M489.0 310.2h.7M496.8 314.3h.7M488.7 313.1h.7M499.4 303.8h.7M492.1 318.1h.7M490.0 317.7h.7M481.2 320.5h.7M492.7 304.9h.7M489.9 314.1h.7M490.4 309.5h.7M495.8 317.4h.7M497.5 304.0h.7M486.8 314.9h.7M492.7 312.9h.7M495.0 301.8h.7M491.0 308.9h.7M490.1 308.4h.7M496.8 311.0h.7M489.7 311.7h.7M488.0 307.3h.7M493.0 299.1h.7M488.0 310.4h.7M494.8 302.3h.7M496.6 316.7h.7M489.1 309.5h.7M492.6 310.9h.7M489.1 313.7h.7M493.7 313.0h.7M496.9 308.5h.7M494.2 312.7h.7M495.1 313.8h.7M491.8 307.7h.7M490.7 301.5h.7M486.5 313.5h.7M487.6 308.6h.7M482.2 312.4h.7M489.8 308.4h.7" stroke="#777" stroke-width=".7" fill="none" opacity="1"/>
<path d="M498.0 321.8h.7M488.0 324.9h.7M491.7 323.5h.7M488.1 324.0h.7M494.7 315.2h.7M488.9 315.4h.7M496.9 325.8h.7M490.8 315.7h.7M492.5 316.0h.7M490.0 316.4h.7M494.0 317.2h.7M492.1 316.1h.7M490.8 315.7h.7M495.2 318.8h.7M495.9 316.6h.7M494.6 309.9h.7M490.2 317.2h.7M489.5 316.9h.7M488.6 316.6h.7M489.4 317.5h.7M490.5 312.0h.7M490.2 317.7h.7M487.6 318.1h.7M495.2 316.3h.7M493.1 321.0h.7M489.0 324.9h.7M499.0 311.9h.7M497.9 313.6h.7M495.8 307.5h.7M494.9 318.3h.7M487.6 313.0h.7M488.3 312.6h.7M492.6 316.5h.7M483.9 315.8h.7M492.8 318.0h.7M496.5 307.4h.7M492.2 317.7h.7M493.6 310.1h.7M487.5 316.6h.7M491.7 307.5h.7M492.5 317.5h.7M493.6 303.1h.7M492.9 312.6h.7M490.0 321.9h.7M496.5 318.4h.7M491.1 324.8h.7M488.7 316.7h.7M489.9 312.1h.7M492.2 320.3h.7M491.3 323.8h.7M492.0 312.7h.7M491.7 325.5h.7M491.2 324.2h.7M492.3 321.2h.7M490.5 322.2h.7M490.7 309.4h.7M492.3 310.9h.7M495.9 321.9h.7M491.5 321.4h.7M483.6 326.0h.7M489.5 321.2h.7M499.2 308.6h.7M490.2 319.4h.7M492.7 308.2h.7M488.6 325.8h.7M489.6 320.6h.7M487.3 312.5h.7M485.9 319.0h.7M494.9 318.1h.7M490.6 318.9h.7M492.8 315.9h.7M498.1 314.4h.7M494.4 324.3h.7M493.2 316.3h.7M494.4 323.7h.7M495.0 311.5h.7M494.5 315.6h.7M490.3 319.5h.7M493.1 319.0h.7M490.9 318.9h.7M490.7 320.8h.7M494.0 322.2h.7M487.6 315.7h.7M491.7 310.8h.7M492.6 316.8h.7M491.6 319.7h.7M489.5 326.2h.7M494.6 314.5h.7M492.8 321.7h.7M489.1 315.6h.7M493.5 303.3h.7M487.5 319.4h.7M493.3 312.4h.7M492.1 317.3h.7M491.6 312.0h.7M493.1 318.6h.7M493.7 325.5h.7M491.5 318.6h.7M492.4 327.2h.7M487.0 317.5h.7M489.5 318.3h.7M493.9 317.9h.7M493.7 318.6h.7M489.3 313.9h.7M487.3 318.8h.7M490.2 322.2h.7M494.3 312.7h.7M488.2 320.9h.7M488.8 318.7h.7M493.3 315.4h.7" stroke="#999" stroke-width=".7" fill="none" opacity="1"/>
<ellipse cx="491.9" cy="310.5" rx="4.4" ry="2.7" transform="rotate(-58 491.9 310.5)" fill="#000" filter="url(#b1)"/>
<ellipse cx="491.9" cy="310.5" rx="3.3" ry="1.9" transform="rotate(-58 491.9 310.5)" fill="#000" opacity="0.9"/>
<path d="M512.1 304.5h.7M506.3 306.4h.7M492.4 307.7h.7M503.9 311.6h.7M504.0 304.7h.7M502.4 307.0h.7M507.7 307.1h.7M509.8 313.0h.7M501.4 314.0h.7M495.0 308.7h.7M500.4 308.0h.7M509.4 308.6h.7M503.8 315.2h.7M501.3 304.2h.7M508.7 311.8h.7M498.5 309.4h.7M507.8 307.7h.7M502.8 309.3h.7M505.4 304.9h.7M508.1 300.3h.7M504.2 319.7h.7M500.1 308.4h.7M495.0 304.2h.7M499.7 308.9h.7M502.5 318.2h.7M500.7 308.4h.7M505.5 311.9h.7M508.3 300.4h.7M513.8 306.9h.7M501.5 300.0h.7M502.7 299.3h.7M505.3 305.4h.7M505.9 304.4h.7M504.9 320.2h.7M509.5 309.4h.7M500.4 316.2h.7M497.4 301.2h.7M510.0 305.4h.7M510.2 311.5h.7M513.7 317.9h.7M507.0 305.3h.7M507.0 315.9h.7M505.1 293.4h.7M502.9 306.6h.7M504.3 306.7h.7M509.3 301.9h.7M506.4 298.2h.7M495.4 303.3h.7M501.4 303.9h.7M501.6 311.7h.7M507.0 308.9h.7M505.4 304.9h.7M500.4 301.1h.7M502.8 302.6h.7M503.1 312.3h.7M506.8 315.4h.7M500.6 297.1h.7M499.8 318.9h.7M507.5 306.2h.7M510.1 306.4h.7M511.5 306.4h.7M502.8 312.1h.7M499.7 307.7h.7M512.7 310.8h.7M499.9 307.2h.7M504.4 304.6h.7M506.2 315.0h.7M504.7 313.1h.7M505.7 309.2h.7M501.3 313.5h.7M510.2 306.2h.7M500.8 311.2h.7M504.9 314.4h.7M506.6 307.8h.7M498.7 311.7h.7M504.9 301.9h.7M498.2 299.0h.7M507.1 306.2h.7M490.5 303.9h.7M501.8 307.9h.7M504.6 306.7h.7M507.6 313.8h.7M503.6 316.7h.7M504.0 304.0h.7M505.1 301.0h.7M503.2 303.0h.7M502.7 309.5h.7M494.2 310.5h.7M505.6 307.4h.7M507.5 310.3h.7M503.0 303.3h.7M507.6 312.4h.7M498.3 304.7h.7M499.5 312.8h.7M502.1 302.0h.7M510.8 310.9h.7M505.5 309.8h.7M503.7 308.7h.7M508.3 310.8h.7M502.6 309.0h.7M512.4 305.6h.7M498.9 309.1h.7M499.7 322.2h.7M507.1 311.5h.7M506.0 318.7h.7M500.2 308.2h.7M497.4 314.9h.7M504.2 317.7h.7M503.3 303.0h.7M501.5 312.7h.7M501.0 309.8h.7M501.4 304.7h.7M502.1 316.9h.7M499.9 310.1h.7M507.9 304.6h.7M498.1 316.3h.7M511.8 307.2h.7M499.4 313.0h.7M504.3 304.1h.7M502.8 296.0h.7M501.0 302.1h.7M498.9 311.5h.7M505.6 317.3h.7M493.1 305.0h.7M500.9 315.4h.7M508.8 309.1h.7M504.8 304.5h.7M502.3 306.1h.7M493.8 318.4h.7M507.6 319.3h.7M509.7 311.0h.7M508.0 299.6h.7M500.1 312.9h.7M502.8 299.9h.7M504.4 301.7h.7M504.4 316.6h.7M499.6 306.1h.7M506.8 308.3h.7M505.2 304.0h.7M503.0 295.9h.7M503.7 315.2h.7M499.7 307.4h.7M507.4 314.8h.7M509.4 303.7h.7M502.6 317.6h.7M502.4 309.9h.7M500.8 304.9h.7M491.8 305.5h.7M495.1 303.1h.7M500.2 315.5h.7M507.7 310.5h.7M502.2 301.1h.7M506.4 304.0h.7M503.9 313.3h.7M503.6 308.2h.7M500.2 313.9h.7M506.7 312.1h.7M511.3 299.8h.7M504.5 311.8h.7M505.8 310.0h.7M506.4 300.3h.7M504.1 314.5h.7M504.2 307.3h.7M508.0 299.1h.7M506.1 316.4h.7M503.3 304.0h.7M506.6 306.0h.7M500.9 309.2h.7M497.3 311.9h.7M499.3 305.5h.7" stroke="#9a9a9a" stroke-width=".7" fill="none" opacity="1"/>
<path d="M507.8 276.9h.7M506.3 292.6h.7M510.3 300.5h.7M503.6 287.5h.7M500.1 286.1h.7M509.6 269.1h.7M506.9 286.6h.7M504.9 270.1h.7M505.9 287.9h.7M506.2 294.9h.7M510.2 282.4h.7M511.2 285.6h.7M501.4 273.6h.7M506.3 279.4h.7M499.9 302.9h.7M500.3 264.6h.7M506.9 279.5h.7M510.4 279.7h.7M506.6 285.4h.7M503.9 288.6h.7M504.5 291.2h.7M503.6 285.7h.7M505.5 286.6h.7M505.5 279.5h.7M503.9 291.2h.7M505.3 282.8h.7M507.5 267.3h.7M502.7 276.8h.7M509.6 265.5h.7M502.1 266.3h.7M504.2 265.4h.7M502.8 283.2h.7M501.9 277.2h.7M501.6 275.0h.7M505.6 279.8h.7M505.2 280.2h.7M505.0 284.5h.7M505.4 265.4h.7M502.3 285.9h.7M510.8 267.1h.7M507.7 281.2h.7M509.4 275.0h.7M502.8 276.6h.7M508.0 267.4h.7M506.8 277.2h.7M506.0 277.4h.7M507.4 286.3h.7M504.5 273.4h.7M498.5 267.5h.7M500.5 284.9h.7M502.0 269.6h.7M507.2 288.4h.7M509.4 267.8h.7M506.2 289.2h.7M502.7 274.8h.7M501.5 270.2h.7M507.7 278.4h.7M504.3 271.1h.7M510.4 285.7h.7M501.5 301.4h.7M504.1 275.7h.7M503.9 271.0h.7M505.6 273.7h.7M511.1 281.7h.7M506.9 283.2h.7M507.4 278.7h.7M497.6 282.1h.7M504.4 285.2h.7M506.5 271.3h.7M502.6 266.1h.7M506.4 276.2h.7M502.6 273.3h.7M506.6 270.0h.7M505.1 270.6h.7M497.1 278.4h.7M505.7 286.4h.7M509.7 269.3h.7M507.4 280.3h.7M505.7 286.6h.7M510.2 275.4h.7M503.3 269.7h.7M504.7 264.9h.7M509.0 282.1h.7M502.6 286.5h.7M506.2 278.3h.7M508.6 276.4h.7M504.6 283.0h.7M507.1 289.2h.7M500.0 277.5h.7M503.3 274.3h.7M507.4 293.9h.7M511.1 287.9h.7M507.5 279.0h.7M499.5 281.8h.7M501.6 265.1h.7M511.2 284.0h.7M506.6 282.7h.7M506.2 278.1h.7M507.7 270.0h.7M506.3 279.3h.7M508.0 265.2h.7M506.3 276.0h.7M507.5 283.4h.7M506.1 282.5h.7M506.9 292.5h.7M506.5 283.3h.7M502.5 275.1h.7M507.9 289.0h.7M502.3 277.0h.7M504.6 278.0h.7" stroke="#aaa" stroke-width=".7" fill="none" opacity="1"/>
<path d="M504.0 266.2h.7M505.3 267.9h.7M508.5 264.9h.7M502.6 269.8h.7M507.0 266.9h.7M502.0 270.6h.7M502.2 270.9h.7M506.2 267.0h.7M505.0 269.9h.7M506.7 270.3h.7M511.9 272.9h.7M502.9 270.6h.7M511.7 265.9h.7M499.9 264.6h.7M511.2 267.5h.7M507.4 269.9h.7M504.0 266.9h.7M505.7 266.4h.7M503.8 265.7h.7M503.7 271.2h.7M506.7 270.5h.7M505.3 270.4h.7M504.8 265.7h.7M506.7 265.9h.7M502.9 266.5h.7M505.6 267.5h.7M508.2 267.5h.7M504.0 276.6h.7M504.8 266.7h.7M505.0 265.4h.7M500.7 268.1h.7M503.2 268.8h.7M503.4 269.1h.7M504.8 265.9h.7M506.7 271.5h.7M505.9 268.2h.7M503.9 268.5h.7M506.8 268.0h.7M508.7 268.2h.7M499.9 265.8h.7" stroke="#aaa" stroke-width=".7" fill="none" opacity="1"/>
<path d="M479.6 329.4h0.9M481.6 329.4h0.9M483.7 329.4h0.9M485.8 329.4h0.9M487.8 329.4h0.9M489.9 329.4h0.9M496.0 329.4h0.9M498.1 329.4h0.9M500.1 329.4h0.9M502.1 329.4h0.9M504.2 329.4h0.9M506.2 329.4h0.9M512.4 329.4h0.9M514.5 329.4h0.9M516.5 329.4h0.9M518.5 329.4h0.9M520.6 329.4h0.9M522.6 329.4h0.9M528.8 329.4h0.9M530.9 329.4h0.9M532.9 329.4h0.9M535.0 329.4h0.9M537.0 329.4h0.9" stroke="#999" stroke-width="0.8"/>
<path d="M473.3 269.6v0.9M473.3 271.6v0.9M473.3 273.7v0.9M473.3 275.8v0.9M473.3 277.8v0.9M473.3 279.9v0.9M473.3 286.0v0.9M473.3 288.1v0.9M473.3 290.1v0.9M473.3 292.1v0.9M473.3 294.2v0.9M473.3 296.2v0.9M473.3 302.4v0.9M473.3 304.4v0.9M473.3 306.5v0.9M473.3 308.6v0.9M473.3 310.6v0.9M473.3 312.6v0.9M473.3 318.8v0.9M473.3 320.9v0.9M473.3 322.9v0.9M473.3 324.9v0.9M473.3 327.0v0.9" stroke="#aaa" stroke-width="0.8"/>
<g font-family="Liberation Mono, monospace" font-weight="bold" fill="#3c3c3c" font-size="4.6">
<text x="495.1" y="269.8" text-anchor="middle">1</text>
<text x="536.5" y="269.8" text-anchor="middle">2</text>
<text x="495.1" y="302.8" text-anchor="middle">3</text>
<text x="536.5" y="302.8" text-anchor="middle">4</text>
<text x="499.9" y="294.3" text-anchor="middle">B</text>
<text x="475.7" y="333.7" text-anchor="middle">.1</text>
<text x="535.9" y="333.7" text-anchor="middle" textLength="8.5">1000</text>
<text x="506.9" y="337.0" text-anchor="middle" fill="#555" textLength="17.5">FITC LOG</text>
<text transform="translate(473.3,267.7) rotate(-90)" text-anchor="middle" textLength="8">1000</text>
<text transform="translate(473.3,297.5) rotate(-90)" text-anchor="middle" fill="#555" textLength="12.5">PI LOG</text>
<text transform="translate(473.3,324.5) rotate(-90)" text-anchor="middle">1</text>
</g>
</g>
<g>
<rect x="546.5" y="263.5" width="65.0" height="65.0" fill="#fff" stroke="#8e8e8e" stroke-width="1"/>
<path d="M546.5 296.5H611.5" stroke="#828282" stroke-width="1"/>
<path d="M569.5 263.5V328.5" stroke="#787878" stroke-width="1.0"/>
<ellipse cx="563.5" cy="311.4" rx="5.4" ry="3.6" transform="rotate(-62 563.5 310.9)" fill="#777" opacity="0.55" filter="url(#b3)"/>
<path d="M563.6 313.2h.7M562.5 311.2h.7M564.4 311.2h.7M565.1 310.6h.7M561.6 313.1h.7M555.5 315.7h.7M564.0 313.1h.7M556.6 311.7h.7M563.6 304.7h.7M555.2 317.2h.7M552.1 311.7h.7M567.7 316.2h.7M558.6 312.8h.7M567.1 305.7h.7M567.5 314.2h.7M559.7 316.4h.7M565.6 308.9h.7M556.9 314.6h.7M568.4 302.3h.7M566.1 314.4h.7M557.9 319.3h.7M562.7 322.1h.7M560.9 315.9h.7M561.1 315.6h.7M564.4 309.4h.7M563.3 312.9h.7M561.1 311.1h.7M568.1 309.7h.7M556.2 315.3h.7M562.1 315.2h.7M564.3 320.7h.7M564.1 311.0h.7M563.6 305.3h.7M565.9 310.0h.7M563.9 302.7h.7M569.5 305.5h.7M567.6 311.9h.7M562.1 311.7h.7M564.8 306.2h.7M571.1 308.5h.7M564.7 310.2h.7M558.6 312.1h.7M564.4 302.0h.7M564.7 311.1h.7M558.6 313.8h.7M568.2 318.5h.7M569.1 311.9h.7M572.8 303.3h.7M566.0 303.8h.7M566.1 317.1h.7M564.6 301.9h.7M567.9 306.1h.7M569.0 309.0h.7M567.2 300.6h.7M567.6 313.4h.7M564.5 313.2h.7M557.9 307.8h.7M564.8 315.3h.7M557.0 310.4h.7M562.4 313.4h.7M566.1 309.2h.7M561.8 306.2h.7M559.3 312.2h.7M563.7 313.8h.7M566.8 304.1h.7M570.3 308.1h.7M557.6 314.6h.7M559.6 307.4h.7M563.1 298.2h.7M562.5 318.2h.7M563.7 315.8h.7M564.1 317.6h.7M564.2 315.1h.7M561.8 303.1h.7M555.4 311.5h.7M563.3 317.9h.7M566.3 312.7h.7M571.2 306.2h.7M564.4 306.5h.7M563.5 313.3h.7M569.7 308.9h.7M563.6 308.8h.7M568.8 314.5h.7M570.9 313.5h.7M564.4 316.0h.7M566.8 311.3h.7M562.6 315.1h.7M562.6 310.6h.7M555.6 313.6h.7M564.5 313.5h.7M565.3 310.1h.7M560.3 306.6h.7M567.1 305.9h.7M559.7 313.3h.7M567.3 306.5h.7M565.6 322.9h.7M564.9 321.2h.7M563.0 304.8h.7M571.5 307.4h.7M568.9 307.2h.7M565.4 309.7h.7M563.0 313.9h.7M567.2 304.5h.7M564.6 298.4h.7M559.1 307.7h.7M559.4 319.6h.7M561.0 311.2h.7M559.9 315.3h.7M558.3 318.1h.7M558.2 310.8h.7M559.0 305.1h.7M565.9 309.3h.7M565.7 308.6h.7M565.3 306.5h.7M561.8 316.7h.7M560.3 313.8h.7M561.1 308.4h.7M561.7 303.1h.7M567.3 304.9h.7M572.3 305.0h.7M566.7 308.2h.7M559.7 307.5h.7M559.1 311.5h.7M561.2 313.9h.7M561.9 314.8h.7M561.5 311.1h.7M566.4 309.9h.7M558.8 316.5h.7M572.4 297.0h.7M562.3 306.8h.7M571.6 309.3h.7M565.0 307.8h.7M557.8 306.9h.7M564.5 307.4h.7M566.1 309.7h.7M571.1 314.0h.7M564.4 305.1h.7M567.6 309.2h.7M568.4 313.4h.7M557.1 309.0h.7M561.8 316.6h.7M561.3 315.8h.7M560.5 318.7h.7M560.1 310.2h.7M561.2 312.9h.7M567.2 306.9h.7M563.7 312.1h.7M567.9 307.5h.7M566.6 301.1h.7M566.6 307.2h.7M563.8 315.0h.7M569.3 308.8h.7M562.4 306.8h.7M565.5 310.7h.7M569.1 303.2h.7M569.2 313.2h.7M562.5 309.6h.7M567.1 311.0h.7M558.8 306.7h.7M565.8 314.7h.7M564.3 316.0h.7M561.7 308.4h.7M559.2 302.7h.7M552.6 317.6h.7M564.4 307.7h.7M565.4 307.7h.7M562.5 309.1h.7M565.8 314.6h.7M561.8 304.5h.7M571.9 312.1h.7M563.0 305.3h.7M566.6 307.7h.7M565.9 314.2h.7M565.7 304.0h.7M562.9 309.4h.7M568.9 313.9h.7M564.3 314.0h.7M564.8 309.7h.7M562.4 317.3h.7M562.9 317.4h.7M563.9 311.5h.7M559.7 311.2h.7M560.8 315.6h.7M564.4 311.7h.7M565.4 313.7h.7M564.6 310.4h.7M563.0 311.9h.7M563.4 306.3h.7M561.5 317.2h.7M565.1 308.9h.7M560.3 307.1h.7M560.9 315.3h.7M559.7 308.5h.7M559.1 304.8h.7M564.0 302.9h.7M558.8 311.3h.7M558.8 316.5h.7M557.1 319.0h.7M563.3 309.4h.7M559.1 308.0h.7M554.1 316.8h.7M567.8 306.5h.7M563.9 322.6h.7M569.0 310.0h.7M570.8 308.7h.7M559.0 318.9h.7M567.6 318.3h.7M565.7 307.6h.7M556.3 307.8h.7M561.4 308.7h.7M570.0 305.9h.7M562.2 310.4h.7M565.3 304.6h.7M567.6 306.1h.7M564.1 312.9h.7M563.7 299.5h.7M568.3 308.8h.7M567.6 314.9h.7M567.4 308.8h.7M562.6 316.7h.7M561.5 317.8h.7M567.2 299.0h.7M564.8 301.4h.7M566.2 311.9h.7M560.5 318.2h.7M559.5 313.2h.7M565.9 306.7h.7M565.0 309.0h.7M569.8 312.1h.7M563.2 309.7h.7M566.1 312.1h.7M558.2 304.4h.7M564.9 312.0h.7M569.5 297.4h.7M559.2 309.8h.7M557.9 307.6h.7M561.0 314.6h.7M558.4 317.3h.7M565.7 316.5h.7M575.1 307.5h.7M566.3 311.5h.7M568.6 298.4h.7M565.8 301.0h.7M561.8 302.7h.7M561.9 312.3h.7M556.8 308.1h.7M563.1 309.6h.7M569.9 305.0h.7M557.8 321.2h.7M566.5 305.6h.7M557.3 311.4h.7M559.6 310.7h.7M561.9 311.5h.7M564.3 302.8h.7M561.2 307.1h.7M567.8 311.6h.7M558.2 311.1h.7M563.9 310.7h.7M563.2 314.7h.7M566.1 311.8h.7M562.1 318.8h.7M564.8 303.2h.7M570.3 302.0h.7M556.5 314.8h.7M559.4 313.0h.7M563.9 312.5h.7M562.1 311.1h.7M554.3 311.3h.7M557.7 311.7h.7M558.6 301.8h.7M557.9 299.7h.7M563.1 311.8h.7M557.3 314.1h.7M562.8 304.5h.7M563.5 311.3h.7M561.6 305.2h.7M567.1 304.3h.7M562.1 303.2h.7M566.6 305.5h.7M563.9 305.9h.7M566.3 306.8h.7M566.1 324.8h.7M563.2 314.9h.7M561.7 310.8h.7M565.5 314.4h.7M569.4 308.3h.7M561.5 320.2h.7M566.7 322.6h.7M568.5 311.3h.7M564.1 311.1h.7M568.0 318.2h.7M566.2 314.6h.7M560.8 314.4h.7M562.2 312.4h.7M564.2 314.5h.7M560.5 304.5h.7M558.2 310.3h.7M562.8 303.2h.7M565.6 308.9h.7M557.3 307.2h.7M568.2 302.5h.7M569.1 309.7h.7M557.5 313.6h.7M575.0 306.6h.7M561.0 314.5h.7M566.0 306.0h.7M569.5 305.8h.7M565.6 312.5h.7M566.4 315.6h.7M565.9 316.6h.7M565.5 295.4h.7M564.0 299.8h.7M569.4 314.8h.7M569.1 307.0h.7M565.4 309.4h.7M564.4 308.2h.7M558.9 309.7h.7M568.8 302.5h.7M571.8 303.3h.7M561.5 306.4h.7M563.1 312.1h.7M562.4 310.8h.7M555.6 320.8h.7M561.4 311.0h.7M557.7 309.2h.7M565.9 317.8h.7M559.2 314.2h.7M560.7 314.4h.7M568.6 317.3h.7M565.0 318.5h.7M563.8 313.9h.7M571.2 298.7h.7M554.5 305.1h.7M562.0 312.0h.7M564.9 310.7h.7M557.4 314.1h.7M565.1 306.6h.7M566.0 312.0h.7M564.5 310.6h.7M560.5 315.9h.7M564.4 322.4h.7M566.9 317.8h.7M561.8 312.9h.7M568.3 305.0h.7M563.4 309.4h.7M560.6 310.5h.7M555.7 310.8h.7M560.8 309.9h.7M574.8 308.4h.7M565.6 299.3h.7M562.3 312.2h.7M564.3 321.2h.7M566.9 308.0h.7M571.1 302.5h.7M563.8 312.8h.7M564.0 314.0h.7M561.6 318.0h.7M561.6 311.3h.7M562.3 312.3h.7M560.6 320.3h.7M569.0 315.3h.7M566.8 312.7h.7M563.3 310.6h.7M558.7 315.6h.7M554.3 308.7h.7M560.6 310.7h.7M568.1 311.4h.7M566.8 314.6h.7M570.0 306.4h.7M563.2 312.5h.7M573.7 306.1h.7M561.7 301.8h.7M562.9 325.1h.7M570.3 310.1h.7M564.6 307.4h.7M565.1 308.5h.7M571.0 305.3h.7M558.6 313.7h.7M569.7 307.7h.7M565.8 310.1h.7M557.4 315.0h.7M559.5 304.5h.7M567.2 309.6h.7M568.6 309.3h.7M570.5 302.2h.7M555.9 311.2h.7M557.5 321.7h.7M561.1 303.1h.7M562.1 308.4h.7M563.8 312.4h.7M560.2 308.1h.7M565.7 306.8h.7M560.8 321.2h.7M567.3 302.4h.7M563.6 299.9h.7M567.4 314.6h.7M569.5 305.5h.7M565.7 304.8h.7M569.2 309.2h.7M568.0 307.0h.7M567.8 307.6h.7M560.7 304.7h.7M562.7 305.9h.7M563.0 312.6h.7M560.4 306.9h.7M563.1 313.7h.7M562.8 312.7h.7M565.3 310.1h.7M562.9 313.7h.7M561.5 305.4h.7M563.0 305.0h.7M567.0 310.2h.7M562.0 305.3h.7M557.3 312.7h.7M566.0 308.3h.7M560.9 320.8h.7M565.7 304.0h.7M564.4 311.6h.7M559.5 314.7h.7M564.4 307.4h.7M564.2 311.0h.7M569.8 303.1h.7M563.3 308.2h.7M567.8 305.0h.7M568.0 313.5h.7M564.9 302.4h.7M567.1 314.8h.7M567.5 316.2h.7M569.7 315.4h.7M554.7 311.4h.7" stroke="#777" stroke-width=".7" fill="none" opacity="1"/>
<path d="M561.0 315.8h.7M561.4 314.1h.7M563.6 318.9h.7M561.3 315.3h.7M567.2 323.5h.7M566.2 325.1h.7M562.6 323.1h.7M568.1 313.7h.7M567.3 304.6h.7M557.4 310.1h.7M560.2 312.8h.7M561.7 322.7h.7M561.0 316.1h.7M559.2 309.3h.7M562.6 314.0h.7M565.8 318.8h.7M557.7 322.2h.7M559.5 316.0h.7M560.0 313.6h.7M561.3 311.6h.7M560.9 316.6h.7M565.3 322.0h.7M568.5 309.2h.7M561.9 324.8h.7M559.7 317.2h.7M565.3 326.6h.7M564.9 319.9h.7M562.6 321.5h.7M563.4 320.0h.7M561.2 317.4h.7M560.5 312.1h.7M560.6 313.5h.7M561.1 314.9h.7M558.5 319.8h.7M564.1 326.6h.7M556.0 310.3h.7M560.2 313.3h.7M563.3 313.4h.7M560.8 322.1h.7M562.5 309.2h.7M566.5 317.2h.7M567.2 317.7h.7M562.0 319.5h.7M567.0 318.7h.7M562.2 310.4h.7M563.7 312.1h.7M562.8 310.4h.7M560.5 312.7h.7M561.1 311.8h.7M566.8 322.3h.7M562.1 312.3h.7M566.4 316.7h.7M564.8 323.6h.7M561.9 320.5h.7M564.4 315.7h.7M562.6 314.6h.7M552.9 315.9h.7M568.0 323.7h.7M571.3 318.5h.7M565.7 314.6h.7M560.8 313.3h.7M564.5 322.3h.7M557.4 321.9h.7M565.8 322.4h.7M559.3 319.1h.7M564.1 310.7h.7M561.1 315.4h.7M557.2 314.7h.7M567.2 320.2h.7M560.5 318.3h.7M564.2 321.3h.7M560.1 320.1h.7M561.1 315.3h.7M560.5 313.6h.7M564.5 308.4h.7M560.4 316.5h.7M562.9 326.6h.7M558.8 321.1h.7M560.2 320.0h.7M559.8 314.8h.7M559.3 315.8h.7M567.7 315.1h.7M570.5 326.9h.7M564.0 318.1h.7M564.0 313.9h.7M564.8 318.5h.7M557.2 318.2h.7M564.8 318.3h.7M564.0 318.0h.7M561.6 323.8h.7M567.3 316.3h.7M565.5 312.1h.7M566.8 313.5h.7M563.2 323.2h.7M561.6 318.2h.7M566.1 315.0h.7M564.1 324.0h.7M563.8 313.8h.7M561.9 316.6h.7M563.1 321.4h.7M558.4 317.6h.7M563.7 326.2h.7M558.7 313.2h.7M565.7 317.8h.7M566.3 317.8h.7M561.1 317.7h.7M566.7 321.9h.7M563.6 318.8h.7M566.2 321.4h.7M563.8 322.0h.7" stroke="#999" stroke-width=".7" fill="none" opacity="1"/>
<ellipse cx="563.5" cy="310.9" rx="4.4" ry="2.7" transform="rotate(-58 563.5 310.9)" fill="#000" filter="url(#b1)"/>
<ellipse cx="563.5" cy="310.9" rx="3.3" ry="1.9" transform="rotate(-58 563.5 310.9)" fill="#000" opacity="0.9"/>
<path d="M582.1 265.6h.7M586.0 290.8h.7M588.5 277.0h.7M575.7 282.1h.7M582.3 269.4h.7M581.9 272.4h.7M585.6 286.9h.7M584.1 290.4h.7M579.0 303.3h.7M573.1 285.7h.7M586.7 273.4h.7M582.2 264.8h.7M579.4 280.8h.7M579.8 268.6h.7M576.9 275.9h.7M574.8 289.5h.7M587.2 278.0h.7M578.7 277.0h.7M581.1 269.1h.7M578.4 282.2h.7M577.2 270.8h.7M579.4 266.9h.7" stroke="#a8a8a8" stroke-width=".7" fill="none" opacity="1"/>
<path d="M581.6 303.8h.7M586.9 317.5h.7M579.4 318.4h.7M588.2 309.9h.7M579.2 308.4h.7M576.7 309.9h.7M580.2 316.1h.7M596.7 314.9h.7M587.0 311.0h.7M592.5 313.4h.7M578.2 310.7h.7M579.8 309.9h.7M581.0 324.6h.7M580.1 307.4h.7M565.2 311.8h.7M571.7 307.3h.7M580.7 314.9h.7M583.2 320.4h.7M572.2 308.1h.7M572.7 305.7h.7M574.5 306.8h.7M584.9 305.3h.7M596.6 298.5h.7M586.0 301.9h.7M575.8 304.2h.7M579.6 315.8h.7M576.3 308.0h.7M571.8 306.8h.7M572.9 307.9h.7M580.0 318.4h.7M574.0 298.7h.7M576.6 318.0h.7M571.5 314.9h.7M570.4 303.8h.7M581.1 299.8h.7M576.2 294.0h.7" stroke="#a8a8a8" stroke-width=".7" fill="none" opacity="1"/>
<path d="M551.6 329.4h0.9M553.6 329.4h0.9M555.7 329.4h0.9M557.8 329.4h0.9M559.8 329.4h0.9M561.9 329.4h0.9M568.0 329.4h0.9M570.0 329.4h0.9M572.1 329.4h0.9M574.1 329.4h0.9M576.2 329.4h0.9M578.2 329.4h0.9M584.4 329.4h0.9M586.5 329.4h0.9M588.5 329.4h0.9M590.5 329.4h0.9M592.6 329.4h0.9M594.6 329.4h0.9M600.8 329.4h0.9M602.9 329.4h0.9M604.9 329.4h0.9M607.0 329.4h0.9M609.0 329.4h0.9" stroke="#999" stroke-width="0.8"/>
<path d="M545.3 269.6v0.9M545.3 271.6v0.9M545.3 273.7v0.9M545.3 275.8v0.9M545.3 277.8v0.9M545.3 279.9v0.9M545.3 286.0v0.9M545.3 288.1v0.9M545.3 290.1v0.9M545.3 292.1v0.9M545.3 294.2v0.9M545.3 296.2v0.9M545.3 302.4v0.9M545.3 304.4v0.9M545.3 306.5v0.9M545.3 308.6v0.9M545.3 310.6v0.9M545.3 312.6v0.9M545.3 318.8v0.9M545.3 320.9v0.9M545.3 322.9v0.9M545.3 324.9v0.9M545.3 327.0v0.9" stroke="#aaa" stroke-width="0.8"/>
<g font-family="Liberation Mono, monospace" font-weight="bold" fill="#3c3c3c" font-size="4.6">
<text x="567.1" y="269.8" text-anchor="middle">1</text>
<text x="608.5" y="269.8" text-anchor="middle">2</text>
<text x="567.1" y="302.8" text-anchor="middle">3</text>
<text x="608.5" y="302.8" text-anchor="middle">4</text>
<text x="571.9" y="294.3" text-anchor="middle">C</text>
<text x="547.7" y="333.7" text-anchor="middle">.1</text>
<text x="607.9" y="333.7" text-anchor="middle" textLength="8.5">1000</text>
<text x="578.9" y="337.0" text-anchor="middle" fill="#555" textLength="17.5">FITC LOG</text>
<text transform="translate(545.3,267.7) rotate(-90)" text-anchor="middle" textLength="8">1000</text>
<text transform="translate(545.3,297.5) rotate(-90)" text-anchor="middle" fill="#555" textLength="12.5">PI LOG</text>
<text transform="translate(545.3,324.5) rotate(-90)" text-anchor="middle">1</text>
</g>
</g>
<g>
<rect x="618.5" y="263.5" width="65.0" height="65.0" fill="#fff" stroke="#8e8e8e" stroke-width="1"/>
<path d="M618.5 296.5H683.5" stroke="#828282" stroke-width="1"/>
<path d="M641.5 263.5V328.5" stroke="#787878" stroke-width="1.0"/>
<ellipse cx="635.5" cy="311.4" rx="5.4" ry="3.6" transform="rotate(-62 635.5 310.9)" fill="#777" opacity="0.55" filter="url(#b3)"/>
<path d="M633.5 316.5h.7M631.7 311.9h.7M634.0 306.7h.7M630.8 315.4h.7M635.6 311.6h.7M638.5 314.1h.7M636.5 308.1h.7M637.1 297.4h.7M633.6 308.3h.7M642.4 301.7h.7M638.9 308.0h.7M637.8 303.2h.7M632.6 303.5h.7M640.5 310.6h.7M639.7 308.2h.7M630.2 319.7h.7M639.1 315.5h.7M638.9 309.8h.7M640.7 306.0h.7M628.9 315.7h.7M633.1 323.0h.7M630.7 309.4h.7M635.4 307.9h.7M638.5 314.9h.7M624.8 317.6h.7M634.2 311.0h.7M637.4 305.1h.7M642.1 312.0h.7M626.9 314.5h.7M632.6 313.9h.7M632.9 316.5h.7M636.6 316.8h.7M638.8 310.0h.7M636.5 310.4h.7M629.9 318.0h.7M634.3 321.8h.7M629.1 314.4h.7M640.8 317.4h.7M637.3 319.4h.7M643.7 315.4h.7M632.9 311.0h.7M633.4 310.1h.7M635.4 315.7h.7M636.7 314.8h.7M639.9 310.1h.7M643.1 305.8h.7M636.7 318.0h.7M632.1 324.9h.7M635.4 303.3h.7M633.1 301.5h.7M636.9 305.6h.7M633.9 312.0h.7M635.9 315.0h.7M635.0 311.1h.7M634.3 310.1h.7M634.2 316.8h.7M634.0 304.8h.7M642.0 309.1h.7M640.3 313.1h.7M633.3 323.7h.7M634.1 315.0h.7M640.3 320.0h.7M636.2 314.2h.7M630.1 317.1h.7M636.1 308.8h.7M637.8 317.4h.7M631.1 318.3h.7M633.6 311.1h.7M637.9 308.5h.7M636.8 313.1h.7M636.7 312.4h.7M639.7 305.6h.7M633.7 309.6h.7M642.4 306.4h.7M637.8 309.1h.7M633.2 315.0h.7M632.5 307.3h.7M632.2 315.2h.7M642.0 302.9h.7M635.1 320.1h.7M640.1 308.2h.7M633.4 313.3h.7M645.1 303.1h.7M642.8 286.3h.7M629.4 317.4h.7M630.6 313.9h.7M641.6 310.2h.7M633.0 318.7h.7M638.6 307.5h.7M642.9 307.0h.7M633.4 315.0h.7M632.4 307.4h.7M637.9 314.0h.7M636.6 309.2h.7M644.8 300.3h.7M635.4 304.9h.7M637.5 304.5h.7M633.5 311.0h.7M633.5 318.0h.7M634.4 318.3h.7M637.0 317.2h.7M640.0 311.7h.7M634.0 317.2h.7M638.4 308.1h.7M633.2 310.3h.7M627.6 327.0h.7M628.4 314.8h.7M628.1 304.0h.7M635.3 315.8h.7M634.8 310.4h.7M633.7 314.9h.7M629.2 317.0h.7M634.8 305.4h.7M633.8 310.8h.7M625.6 312.9h.7M630.4 313.5h.7M632.2 315.6h.7M638.3 310.7h.7M632.8 307.0h.7M640.5 305.2h.7M633.5 305.0h.7M645.8 310.4h.7M640.5 310.7h.7M634.3 314.0h.7M637.4 312.5h.7M636.7 310.7h.7M629.0 312.8h.7M643.4 316.0h.7M634.2 316.6h.7M637.3 303.4h.7M631.8 319.3h.7M632.6 309.4h.7M642.1 305.3h.7M631.1 308.3h.7M642.7 307.3h.7M643.0 310.3h.7M629.3 313.8h.7M639.4 307.7h.7M633.8 310.2h.7M639.3 306.6h.7M634.4 304.6h.7M637.0 311.5h.7M633.2 302.8h.7M632.8 310.6h.7M635.0 310.6h.7M639.2 310.5h.7M636.0 309.5h.7M642.5 309.6h.7M633.1 309.0h.7M643.6 304.5h.7M640.6 299.9h.7M633.8 312.4h.7M630.6 308.4h.7M633.2 304.0h.7M627.2 323.8h.7M633.2 316.4h.7M627.8 313.7h.7M625.5 318.0h.7M641.4 316.5h.7M635.4 306.5h.7M640.2 305.1h.7M624.4 316.2h.7M629.2 316.9h.7M633.7 309.5h.7M630.9 311.6h.7M638.5 311.7h.7M636.3 318.4h.7M632.1 314.3h.7M642.3 304.2h.7M629.5 306.9h.7M634.6 309.8h.7M638.4 314.1h.7M639.6 317.1h.7M636.2 311.0h.7M634.9 312.6h.7M640.3 305.0h.7M630.1 314.1h.7M640.7 306.5h.7M632.6 314.7h.7M637.6 311.6h.7M633.0 315.6h.7M629.2 315.5h.7M639.2 314.7h.7M640.6 314.6h.7M640.8 311.7h.7M629.3 308.0h.7M627.7 320.3h.7M640.2 302.2h.7M636.0 314.5h.7M633.2 311.9h.7M637.4 310.8h.7M631.2 312.0h.7M637.5 301.6h.7M632.3 314.8h.7M636.0 312.2h.7M644.3 306.1h.7M635.8 311.3h.7M638.0 306.0h.7M632.5 307.9h.7M636.4 308.8h.7M632.1 318.1h.7M643.1 301.1h.7M637.3 317.2h.7M637.2 309.6h.7M642.9 305.6h.7M639.1 299.4h.7M634.0 312.8h.7M632.3 307.6h.7M631.9 306.7h.7M633.0 313.1h.7M637.3 310.3h.7M634.4 315.2h.7M636.1 309.3h.7M634.0 309.7h.7M645.3 305.1h.7M640.5 312.3h.7M631.3 314.0h.7M636.0 313.3h.7M631.6 310.6h.7M627.6 315.8h.7M639.8 307.4h.7M637.3 321.3h.7M632.6 312.3h.7M635.2 311.8h.7M634.3 312.6h.7M640.7 309.1h.7M633.0 313.8h.7M631.9 313.6h.7M634.2 310.7h.7M634.3 306.2h.7M639.0 310.5h.7M633.5 311.7h.7M636.1 307.3h.7M635.2 312.9h.7M630.4 324.0h.7M638.1 310.9h.7M630.1 316.6h.7M638.6 309.9h.7M632.3 312.8h.7M640.9 304.2h.7M634.8 302.4h.7M635.0 307.8h.7M638.1 315.8h.7M629.4 314.0h.7M632.7 313.7h.7M636.9 311.6h.7M640.7 306.0h.7M644.1 304.7h.7M636.7 308.0h.7M638.6 303.8h.7M638.5 306.3h.7M636.0 314.9h.7M638.5 308.3h.7M639.1 306.0h.7M633.6 314.5h.7M637.9 300.2h.7M630.2 319.5h.7M636.8 318.4h.7M633.0 308.3h.7M632.3 309.3h.7M639.9 310.5h.7M642.4 307.3h.7M639.2 313.3h.7M632.9 306.0h.7M636.7 302.7h.7M628.8 310.6h.7M626.4 310.6h.7M629.2 315.0h.7M630.8 315.7h.7M636.9 306.5h.7M640.3 311.1h.7M638.4 316.7h.7M635.2 311.0h.7M640.9 311.9h.7M634.9 318.4h.7M634.4 313.4h.7M624.5 310.6h.7M641.4 306.9h.7M629.5 314.0h.7M631.8 316.5h.7M641.1 301.0h.7M632.9 320.3h.7M627.8 312.0h.7M636.6 309.1h.7M638.3 311.5h.7M631.7 302.2h.7M639.7 312.4h.7M635.9 303.0h.7M626.6 317.3h.7M636.0 308.7h.7M637.3 306.7h.7M628.2 314.7h.7M637.5 313.7h.7M636.7 301.9h.7M636.6 308.7h.7M628.3 314.0h.7M638.7 302.7h.7M636.7 312.2h.7M638.8 310.6h.7M631.9 313.9h.7M637.4 310.4h.7M627.9 310.9h.7M640.8 308.5h.7M637.9 306.2h.7M628.9 318.6h.7M642.4 302.0h.7M631.0 306.5h.7M636.7 315.9h.7M636.1 309.1h.7M641.5 306.4h.7M636.6 308.0h.7M640.1 311.0h.7M632.4 306.9h.7M634.1 311.2h.7M640.8 311.5h.7M633.9 310.4h.7M639.2 308.4h.7M634.7 315.5h.7M637.2 310.7h.7M624.7 314.1h.7M625.7 314.6h.7M641.6 308.3h.7M636.4 319.9h.7M629.6 314.6h.7M637.7 298.1h.7M640.2 309.2h.7M640.9 307.0h.7M641.2 312.8h.7M635.6 311.5h.7M635.6 308.3h.7M639.0 314.0h.7M642.2 304.5h.7M633.6 310.4h.7M633.2 312.0h.7M633.9 312.8h.7M638.3 314.1h.7M630.0 316.7h.7M636.6 306.2h.7M636.1 313.9h.7M632.2 309.3h.7M638.0 311.4h.7M633.5 320.7h.7M632.7 320.4h.7M632.4 317.5h.7M638.7 313.1h.7M634.0 310.4h.7M634.0 314.8h.7M637.6 313.8h.7M640.7 311.4h.7M638.2 307.9h.7M637.4 312.4h.7M633.6 304.6h.7M635.6 308.3h.7M639.1 310.9h.7M629.6 319.7h.7M633.0 302.7h.7M636.3 309.8h.7M636.8 315.3h.7M638.4 306.6h.7M644.4 307.1h.7M638.9 311.6h.7M643.7 310.2h.7M640.2 308.4h.7M638.3 311.7h.7M640.0 303.3h.7M632.3 309.4h.7M641.9 298.0h.7M632.4 312.1h.7M640.3 306.0h.7M630.2 320.7h.7M640.9 302.1h.7M645.2 316.0h.7M634.3 311.5h.7M645.3 312.7h.7M631.8 305.5h.7M634.6 311.1h.7M636.8 306.6h.7M632.0 307.6h.7M632.2 316.9h.7M637.4 301.2h.7M634.8 320.6h.7M639.4 310.6h.7M636.0 312.1h.7M635.5 311.2h.7M639.7 301.6h.7M634.6 312.7h.7M640.6 315.0h.7M636.5 312.3h.7M633.9 317.7h.7M639.8 309.1h.7M629.0 317.1h.7M633.3 326.5h.7M640.7 314.5h.7M644.7 303.8h.7M633.2 313.4h.7M631.8 303.2h.7M644.6 307.2h.7M637.4 306.1h.7M631.7 305.9h.7M631.5 314.4h.7M638.9 317.7h.7M629.4 303.8h.7M640.7 306.4h.7M632.8 310.5h.7M642.6 301.5h.7M631.4 306.3h.7M636.9 315.3h.7M634.7 309.3h.7M629.7 309.1h.7M630.2 323.5h.7M626.4 314.5h.7M639.6 311.2h.7M638.2 314.6h.7M625.8 304.3h.7M637.0 300.9h.7M639.5 302.8h.7M634.0 310.2h.7M634.7 316.8h.7M644.8 305.5h.7M635.7 314.5h.7M640.7 307.0h.7M638.5 321.1h.7M630.9 312.7h.7M636.9 310.6h.7M629.8 310.8h.7M632.1 316.6h.7M633.8 322.0h.7M638.3 308.2h.7M633.5 308.1h.7M636.9 315.2h.7" stroke="#777" stroke-width=".7" fill="none" opacity="1"/>
<path d="M633.6 326.8h.7M638.2 321.9h.7M634.4 313.0h.7M634.6 312.8h.7M634.0 316.1h.7M633.4 324.3h.7M632.4 313.9h.7M638.6 319.5h.7M636.6 314.6h.7M636.1 325.3h.7M635.2 320.4h.7M638.8 321.4h.7M638.8 311.5h.7M629.8 311.9h.7M636.4 314.4h.7M639.0 315.1h.7M633.1 314.2h.7M637.3 320.6h.7M635.5 325.6h.7M632.6 311.5h.7M635.1 317.8h.7M635.4 320.3h.7M630.5 326.8h.7M629.7 319.9h.7M636.1 322.6h.7M635.8 313.5h.7M634.5 310.5h.7M634.6 316.8h.7M633.3 321.0h.7M639.0 317.9h.7M633.9 311.9h.7M632.9 314.1h.7M634.6 322.4h.7M635.7 326.3h.7M636.3 319.3h.7M625.9 317.2h.7M635.9 309.9h.7M634.9 314.2h.7M634.4 317.8h.7M634.2 317.7h.7M636.1 319.8h.7M633.1 323.1h.7M635.2 320.1h.7M640.3 327.2h.7M641.6 316.7h.7M636.3 320.7h.7M635.4 317.2h.7M637.6 324.3h.7M641.7 315.1h.7M636.5 313.9h.7M634.3 305.0h.7M641.4 309.3h.7M635.4 308.3h.7M634.1 312.4h.7M628.8 312.3h.7M634.4 317.4h.7M629.3 321.5h.7M634.1 311.8h.7M639.6 314.2h.7M635.8 326.3h.7M635.2 317.4h.7M637.9 315.6h.7M635.3 317.2h.7M633.9 322.1h.7M635.9 325.8h.7M636.2 310.3h.7M636.2 316.4h.7M634.3 323.3h.7M636.3 309.2h.7M641.1 317.3h.7M630.2 316.2h.7M636.5 311.8h.7M632.5 308.2h.7M635.9 315.1h.7M639.6 319.5h.7M635.8 314.6h.7M638.0 310.4h.7M635.9 320.6h.7M632.7 311.5h.7M636.4 317.0h.7M633.8 311.3h.7M637.8 314.9h.7M633.1 320.0h.7M636.5 313.9h.7M635.7 317.1h.7M635.5 317.2h.7M633.8 304.6h.7M633.3 324.5h.7M634.1 318.9h.7M636.9 312.5h.7M635.3 316.5h.7M636.1 321.3h.7M635.3 316.8h.7M637.9 318.7h.7M630.6 324.9h.7M636.4 314.7h.7M634.9 312.7h.7M635.5 309.9h.7M638.1 320.5h.7M632.1 320.7h.7M630.7 315.0h.7M632.0 321.7h.7M637.1 310.6h.7M635.6 320.7h.7M630.3 325.3h.7M639.5 316.0h.7M631.6 324.6h.7M627.6 317.7h.7M630.7 317.8h.7M633.3 310.8h.7" stroke="#999" stroke-width=".7" fill="none" opacity="1"/>
<ellipse cx="635.5" cy="310.9" rx="4.4" ry="2.7" transform="rotate(-58 635.5 310.9)" fill="#000" filter="url(#b1)"/>
<ellipse cx="635.5" cy="310.9" rx="3.3" ry="1.9" transform="rotate(-58 635.5 310.9)" fill="#000" opacity="0.9"/>
<path d="M656.3 290.3h.7M646.7 284.7h.7M654.0 270.1h.7M650.9 283.7h.7M659.1 274.4h.7M641.2 286.3h.7M650.9 277.4h.7M652.0 280.8h.7M649.1 284.6h.7M639.8 281.4h.7M650.6 276.1h.7M656.8 292.5h.7M648.4 276.4h.7M648.4 278.0h.7M659.1 281.4h.7M653.5 292.0h.7M645.3 281.8h.7M661.5 273.5h.7M649.1 268.7h.7M659.6 289.1h.7M655.1 287.7h.7M650.1 273.2h.7" stroke="#a8a8a8" stroke-width=".7" fill="none" opacity="1"/>
<path d="M658.1 305.8h.7M653.2 312.2h.7M644.6 313.9h.7M641.2 307.9h.7M635.5 303.5h.7M644.3 314.9h.7M651.5 303.6h.7M652.0 315.2h.7M634.4 308.9h.7M660.5 302.3h.7M644.2 307.1h.7M650.3 316.6h.7M637.3 317.1h.7M630.2 305.9h.7M654.6 304.2h.7M644.5 308.6h.7M664.1 305.2h.7M659.0 326.1h.7M648.2 306.6h.7M651.2 305.2h.7M648.2 304.7h.7M639.2 300.9h.7M658.6 307.4h.7M641.9 319.7h.7M649.7 309.8h.7M645.0 312.2h.7M648.6 309.1h.7M649.7 317.6h.7M649.5 321.4h.7M659.0 304.9h.7M643.3 303.1h.7M645.0 317.2h.7M648.3 308.6h.7M651.9 296.7h.7M653.7 310.8h.7M656.4 310.0h.7" stroke="#a8a8a8" stroke-width=".7" fill="none" opacity="1"/>
<path d="M623.6 329.4h0.9M625.6 329.4h0.9M627.7 329.4h0.9M629.8 329.4h0.9M631.8 329.4h0.9M633.9 329.4h0.9M640.0 329.4h0.9M642.0 329.4h0.9M644.1 329.4h0.9M646.1 329.4h0.9M648.2 329.4h0.9M650.2 329.4h0.9M656.4 329.4h0.9M658.5 329.4h0.9M660.5 329.4h0.9M662.5 329.4h0.9M664.6 329.4h0.9M666.6 329.4h0.9M672.8 329.4h0.9M674.9 329.4h0.9M676.9 329.4h0.9M679.0 329.4h0.9M681.0 329.4h0.9" stroke="#999" stroke-width="0.8"/>
<path d="M617.3 269.6v0.9M617.3 271.6v0.9M617.3 273.7v0.9M617.3 275.8v0.9M617.3 277.8v0.9M617.3 279.9v0.9M617.3 286.0v0.9M617.3 288.1v0.9M617.3 290.1v0.9M617.3 292.1v0.9M617.3 294.2v0.9M617.3 296.2v0.9M617.3 302.4v0.9M617.3 304.4v0.9M617.3 306.5v0.9M617.3 308.6v0.9M617.3 310.6v0.9M617.3 312.6v0.9M617.3 318.8v0.9M617.3 320.9v0.9M617.3 322.9v0.9M617.3 324.9v0.9M617.3 327.0v0.9" stroke="#aaa" stroke-width="0.8"/>
<g font-family="Liberation Mono, monospace" font-weight="bold" fill="#3c3c3c" font-size="4.6">
<text x="639.1" y="269.8" text-anchor="middle">1</text>
<text x="680.5" y="269.8" text-anchor="middle">2</text>
<text x="639.1" y="302.8" text-anchor="middle">3</text>
<text x="680.5" y="302.8" text-anchor="middle">4</text>
<text x="643.9" y="294.3" text-anchor="middle">D</text>
<text x="619.7" y="333.7" text-anchor="middle">.1</text>
<text x="679.9" y="333.7" text-anchor="middle" textLength="8.5">1000</text>
<text x="650.9" y="337.0" text-anchor="middle" fill="#555" textLength="17.5">FITC LOG</text>
<text transform="translate(617.3,267.7) rotate(-90)" text-anchor="middle" textLength="8">1000</text>
<text transform="translate(617.3,297.5) rotate(-90)" text-anchor="middle" fill="#555" textLength="12.5">PI LOG</text>
<text transform="translate(617.3,324.5) rotate(-90)" text-anchor="middle">1</text>
</g>
</g>
<g>
<rect x="402.5" y="341.5" width="64" height="64.0" fill="#fff" stroke="#8e8e8e" stroke-width="1"/>
<path d="M402.5 373.5H466.5" stroke="#828282" stroke-width="1"/>
<path d="M425.5 341.5V405.5" stroke="#787878" stroke-width="1.0"/>
<ellipse cx="419.9" cy="389.0" rx="5.4" ry="3.6" transform="rotate(-62 419.9 388.5)" fill="#777" opacity="0.55" filter="url(#b3)"/>
<path d="M426.0 386.0h.7M420.5 391.2h.7M414.5 391.5h.7M415.6 393.5h.7M412.3 392.3h.7M414.1 386.8h.7M418.3 384.0h.7M417.8 389.2h.7M424.5 385.0h.7M416.8 388.6h.7M421.6 384.3h.7M416.8 394.0h.7M421.2 385.6h.7M424.4 391.4h.7M420.4 392.7h.7M429.7 384.6h.7M417.8 395.3h.7M427.7 392.9h.7M426.6 384.6h.7M424.8 384.1h.7M423.6 398.2h.7M416.9 398.4h.7M422.5 385.3h.7M422.5 383.8h.7M422.7 385.3h.7M420.5 394.2h.7M419.9 392.6h.7M417.2 394.1h.7M424.9 388.4h.7M414.5 392.8h.7M416.2 386.6h.7M429.0 390.6h.7M423.6 386.7h.7M418.9 393.8h.7M427.5 390.1h.7M422.5 392.8h.7M417.6 389.8h.7M419.2 391.3h.7M413.9 395.1h.7M418.1 377.9h.7M424.7 386.0h.7M415.8 389.1h.7M421.9 382.5h.7M419.8 386.7h.7M419.6 396.1h.7M418.5 383.6h.7M418.8 380.8h.7M418.5 396.5h.7M418.3 390.7h.7M420.8 378.8h.7M420.1 384.9h.7M419.1 387.7h.7M417.4 392.5h.7M416.9 393.1h.7M415.8 392.7h.7M415.4 385.2h.7M421.7 390.4h.7M423.0 390.0h.7M418.5 394.6h.7M411.6 381.5h.7M422.4 390.5h.7M419.5 389.0h.7M418.7 389.0h.7M414.2 392.3h.7M419.8 403.4h.7M420.2 389.2h.7M423.1 386.7h.7M414.3 385.8h.7M421.5 397.8h.7M423.0 388.0h.7M414.9 392.7h.7M417.9 385.8h.7M420.7 381.4h.7M414.5 388.4h.7M424.8 389.6h.7M420.2 387.6h.7M421.1 392.0h.7M425.3 392.2h.7M417.6 389.2h.7M411.8 387.3h.7M420.7 387.8h.7M411.0 393.9h.7M415.4 393.1h.7M419.0 395.1h.7M421.0 381.6h.7M416.2 386.4h.7M420.0 380.1h.7M417.2 392.4h.7M425.8 397.9h.7M418.2 389.1h.7M416.4 393.2h.7M416.4 390.7h.7M420.6 382.7h.7M418.8 385.4h.7M420.1 382.3h.7M415.9 392.8h.7M422.0 381.9h.7M416.5 392.5h.7M418.3 392.6h.7M418.6 392.5h.7M423.8 385.4h.7M425.0 382.1h.7M429.2 382.4h.7M421.3 391.5h.7M416.7 391.7h.7M416.8 387.5h.7M420.2 387.0h.7M428.0 380.7h.7M416.7 388.4h.7M415.8 389.8h.7M417.4 392.2h.7M414.6 394.4h.7M419.2 385.1h.7M414.7 393.0h.7M419.7 383.0h.7M418.8 377.9h.7M419.2 393.7h.7M422.9 381.9h.7M413.8 395.9h.7M414.7 391.6h.7M416.5 389.2h.7M419.9 389.1h.7M413.0 386.4h.7M410.6 384.3h.7M418.4 387.5h.7M423.6 397.2h.7M428.8 383.5h.7M418.6 386.6h.7M426.2 389.7h.7M418.8 388.8h.7M417.6 391.3h.7M419.1 382.9h.7M423.1 383.9h.7M426.8 378.5h.7M420.2 380.7h.7M427.0 377.4h.7M424.2 392.0h.7M416.1 385.4h.7M423.2 386.8h.7M418.1 387.8h.7M420.2 399.6h.7M419.5 391.4h.7M415.9 389.6h.7M417.6 385.5h.7M417.2 381.0h.7M425.2 388.2h.7M419.0 391.1h.7M420.7 383.8h.7M418.4 389.3h.7M425.1 374.1h.7M417.7 388.5h.7M415.1 389.3h.7M418.2 392.0h.7M428.3 386.4h.7M412.7 392.7h.7M416.4 386.8h.7M416.7 391.8h.7M415.3 389.6h.7M417.8 386.0h.7M419.9 390.5h.7M422.4 385.6h.7M423.4 383.8h.7M420.0 398.5h.7M430.7 376.8h.7M427.9 383.2h.7M420.4 391.9h.7M415.8 390.7h.7M421.6 386.1h.7M413.2 388.9h.7M422.1 384.8h.7M417.3 386.1h.7M417.3 392.2h.7M418.1 399.8h.7M423.3 390.7h.7M420.7 382.9h.7M417.6 383.9h.7M421.3 395.6h.7M415.7 389.5h.7M421.2 386.4h.7M418.5 381.4h.7M415.5 387.6h.7M418.9 387.9h.7M411.4 389.5h.7M418.7 396.8h.7M415.1 388.1h.7M416.7 385.5h.7M425.2 386.0h.7M418.0 387.2h.7M415.9 398.2h.7M426.3 379.4h.7M420.7 392.7h.7M414.7 388.0h.7M421.3 390.3h.7M417.7 399.3h.7M424.5 380.8h.7M413.8 388.0h.7M420.4 385.5h.7M428.3 386.0h.7M424.0 383.1h.7M418.6 399.8h.7M416.8 389.9h.7M424.4 384.5h.7M415.6 392.8h.7M418.4 389.6h.7M421.0 397.1h.7M421.5 390.5h.7M429.8 387.9h.7M419.6 383.7h.7M421.2 392.4h.7M420.0 377.9h.7M423.6 378.4h.7M417.8 388.6h.7M420.9 385.4h.7M416.7 386.9h.7M425.2 382.4h.7M426.4 393.0h.7M426.1 388.2h.7M419.4 390.1h.7M422.1 391.0h.7M415.2 383.8h.7M420.8 385.4h.7M423.6 389.3h.7M421.0 391.1h.7M419.6 388.3h.7M418.0 390.7h.7M421.4 391.6h.7M414.9 400.5h.7M416.2 386.8h.7M422.0 384.8h.7M425.7 388.6h.7M415.4 384.3h.7M414.9 396.0h.7M423.1 398.5h.7M413.8 385.4h.7M411.7 397.7h.7M414.2 400.9h.7M415.8 401.2h.7M422.0 393.1h.7M414.9 393.1h.7M417.9 380.1h.7M426.4 388.3h.7M416.4 392.9h.7M429.5 383.7h.7M424.3 380.7h.7M418.2 389.9h.7M421.4 392.0h.7M424.0 385.6h.7M420.3 393.3h.7M422.1 386.7h.7M422.3 382.0h.7M423.7 390.1h.7M420.5 393.8h.7M426.8 388.0h.7M421.9 381.2h.7M423.7 379.1h.7M415.5 393.5h.7M416.0 388.4h.7M424.4 384.9h.7M417.3 382.8h.7M426.8 380.8h.7M424.5 383.7h.7M423.4 388.3h.7M424.8 390.5h.7M411.9 386.8h.7M418.8 390.1h.7M421.4 386.8h.7M422.6 387.4h.7M421.2 390.4h.7M419.1 384.3h.7M415.5 397.2h.7M424.8 388.3h.7M424.2 383.8h.7M421.5 381.8h.7M422.9 393.4h.7M416.4 394.0h.7M413.0 391.0h.7M420.6 374.9h.7M423.7 379.2h.7M412.4 388.7h.7M422.6 388.7h.7M418.8 383.9h.7M425.5 381.1h.7M423.4 387.2h.7M420.6 385.2h.7M418.7 385.4h.7M417.7 385.3h.7M413.9 394.0h.7M417.3 387.8h.7M417.3 388.8h.7M425.7 391.7h.7M424.4 387.4h.7M425.7 385.5h.7M423.9 388.2h.7M422.6 383.1h.7M419.1 389.7h.7M421.3 389.6h.7M417.4 389.7h.7M422.2 388.3h.7M415.0 386.0h.7M421.9 391.3h.7M423.3 392.0h.7M417.7 390.3h.7M426.0 387.0h.7M423.8 392.7h.7M421.8 388.3h.7M427.9 381.7h.7M419.2 389.3h.7M420.9 394.9h.7M427.0 390.5h.7M423.6 382.8h.7M417.2 390.6h.7M423.3 382.3h.7M427.2 385.6h.7M425.2 382.0h.7M418.1 382.6h.7M421.1 386.9h.7M417.2 380.6h.7M426.4 394.4h.7M419.0 386.7h.7M419.9 387.7h.7M421.0 391.2h.7M424.4 389.4h.7M429.7 378.2h.7M425.7 389.7h.7M421.7 398.4h.7M415.3 392.8h.7M416.0 385.5h.7M418.8 391.7h.7M416.9 383.8h.7M413.4 403.7h.7M416.3 396.9h.7M424.0 387.8h.7M416.5 389.9h.7M428.7 373.9h.7M412.9 390.6h.7M424.7 393.0h.7M419.3 383.4h.7M414.1 393.7h.7M420.9 389.1h.7M425.0 388.3h.7M411.3 391.6h.7M421.6 390.0h.7M419.3 391.6h.7M423.4 391.1h.7M417.9 388.5h.7M424.7 388.0h.7M417.8 391.3h.7M414.3 389.6h.7M425.2 375.9h.7M418.0 389.3h.7M417.2 392.0h.7M420.9 389.6h.7M413.9 388.3h.7M421.9 390.5h.7M423.5 382.4h.7M416.9 388.2h.7M422.5 380.3h.7M418.4 390.8h.7M419.6 389.7h.7M426.6 389.8h.7M422.8 386.9h.7M422.8 399.7h.7M424.3 387.8h.7M418.8 389.8h.7M418.4 389.9h.7M421.4 391.9h.7M423.0 383.4h.7M421.8 391.5h.7M421.2 390.5h.7M422.6 394.3h.7M420.5 391.7h.7M426.3 381.2h.7M421.6 391.2h.7M417.5 376.9h.7M418.4 390.0h.7M417.8 381.4h.7M422.6 384.8h.7M418.5 383.8h.7M432.1 387.6h.7M422.3 389.0h.7M408.0 387.7h.7M419.1 388.4h.7M422.2 385.4h.7M409.1 390.2h.7M426.4 385.2h.7M418.9 388.6h.7M420.4 384.1h.7M420.3 397.0h.7M414.7 394.2h.7M425.4 383.3h.7M428.0 386.3h.7M415.9 384.6h.7M408.0 392.1h.7M417.7 382.1h.7M420.0 389.2h.7M421.0 386.8h.7M424.9 383.1h.7M422.9 383.2h.7M420.7 388.6h.7M424.0 387.7h.7M420.6 392.0h.7M419.6 370.0h.7M421.6 385.2h.7M417.5 388.3h.7M417.4 394.5h.7M423.0 395.0h.7M426.6 390.4h.7M415.8 385.0h.7M422.0 386.8h.7M414.9 379.6h.7M425.0 391.0h.7M413.7 384.0h.7M422.9 387.4h.7M426.0 383.0h.7M420.9 395.5h.7M426.0 387.5h.7M422.9 391.4h.7M409.5 395.7h.7M427.0 388.8h.7M422.3 386.1h.7M418.2 388.4h.7M417.6 379.6h.7M425.7 390.2h.7M407.9 391.8h.7M417.1 393.1h.7M419.8 384.7h.7M420.7 383.7h.7M418.6 398.1h.7M417.9 387.1h.7M407.0 391.1h.7" stroke="#777" stroke-width=".7" fill="none" opacity="1"/>
<path d="M416.3 399.6h.7M416.7 388.2h.7M417.1 398.9h.7M421.3 402.4h.7M416.9 404.0h.7M424.3 398.0h.7M420.6 390.9h.7M421.1 397.7h.7M419.6 394.4h.7M423.2 395.9h.7M415.8 397.5h.7M422.5 386.7h.7M416.1 397.1h.7M420.7 398.8h.7M420.4 399.6h.7M417.2 394.3h.7M419.2 398.1h.7M425.4 400.6h.7M416.4 397.8h.7M424.6 396.3h.7M421.8 396.7h.7M416.1 396.0h.7M418.3 388.6h.7M419.1 393.5h.7M418.8 399.7h.7M416.3 396.2h.7M420.6 397.3h.7M420.3 396.2h.7M414.7 384.2h.7M417.7 393.5h.7M416.7 391.4h.7M419.2 400.2h.7M421.5 396.7h.7M422.4 392.6h.7M418.9 389.2h.7M419.1 400.6h.7M416.8 395.2h.7M418.7 395.4h.7M418.3 397.3h.7M415.7 396.4h.7M424.6 389.6h.7M422.0 391.8h.7M421.5 399.2h.7M424.5 399.3h.7M419.2 382.9h.7M418.2 389.0h.7M414.3 399.0h.7M412.3 397.8h.7M422.0 393.1h.7M416.3 394.1h.7M424.2 389.2h.7M417.1 398.6h.7M417.6 402.9h.7M417.3 388.9h.7M415.0 394.4h.7M422.8 395.7h.7M417.7 387.2h.7M420.3 391.9h.7M426.5 389.0h.7M415.4 388.5h.7M420.0 398.9h.7M420.2 402.2h.7M421.6 392.3h.7M424.6 391.3h.7M420.1 395.9h.7M422.9 395.4h.7M420.5 384.7h.7M419.2 396.4h.7M424.0 386.0h.7M415.8 400.3h.7M426.5 396.4h.7M413.1 385.7h.7M418.3 390.7h.7M420.9 401.5h.7M421.8 390.4h.7M417.3 394.6h.7M420.7 398.7h.7M418.3 401.4h.7M421.6 393.9h.7M420.1 404.5h.7M421.4 394.0h.7M418.5 400.9h.7M420.6 396.4h.7M417.3 394.2h.7M415.6 396.3h.7M416.6 388.0h.7M426.4 388.6h.7M423.2 401.3h.7M420.9 395.9h.7M419.3 398.4h.7M420.7 398.8h.7M421.4 386.6h.7M415.6 395.4h.7M419.3 388.1h.7M422.3 398.3h.7M420.4 401.4h.7M421.4 395.0h.7M417.7 402.0h.7M418.0 391.5h.7M416.6 399.5h.7M420.3 394.8h.7M422.4 391.0h.7M422.0 392.8h.7M419.0 394.5h.7M420.1 403.3h.7M417.7 401.3h.7M423.2 394.7h.7M417.5 389.3h.7M418.9 396.3h.7M416.6 398.1h.7" stroke="#999" stroke-width=".7" fill="none" opacity="1"/>
<ellipse cx="419.9" cy="388.5" rx="4.4" ry="2.7" transform="rotate(-58 419.9 388.5)" fill="#000" filter="url(#b1)"/>
<ellipse cx="419.9" cy="388.5" rx="3.3" ry="1.9" transform="rotate(-58 419.9 388.5)" fill="#000" opacity="0.9"/>
<path d="M438.9 366.7h.7M448.2 367.0h.7M433.4 354.3h.7M431.1 351.1h.7M430.5 368.3h.7M426.6 362.4h.7M441.6 370.1h.7M446.6 352.9h.7M441.4 357.9h.7M444.9 355.7h.7M443.3 344.5h.7M434.3 343.7h.7M438.4 349.4h.7M430.6 358.3h.7M443.3 361.4h.7M439.3 353.1h.7M433.1 344.2h.7M432.2 357.4h.7M433.9 349.5h.7M432.0 360.8h.7M437.5 355.8h.7M439.0 358.7h.7M435.5 355.3h.7M429.2 358.6h.7M428.0 363.7h.7M433.8 365.3h.7M437.3 361.3h.7M435.2 352.8h.7" stroke="#a8a8a8" stroke-width=".7" fill="none" opacity="1"/>
<path d="M439.5 395.1h.7M432.5 371.2h.7M436.7 395.6h.7M445.9 388.7h.7M444.2 365.3h.7M432.3 386.1h.7M452.3 388.8h.7M456.5 390.8h.7M432.0 386.4h.7M428.8 391.5h.7M436.8 383.5h.7M449.9 398.0h.7M433.1 394.3h.7M434.2 387.0h.7M428.6 385.8h.7M449.9 402.5h.7M434.6 388.3h.7M444.8 384.6h.7M441.6 379.7h.7M438.8 395.8h.7M442.3 401.8h.7M445.4 387.5h.7M424.5 373.9h.7M426.9 389.5h.7M439.2 393.7h.7M436.6 389.2h.7M438.6 398.6h.7M436.2 397.4h.7M447.2 392.1h.7M441.4 393.1h.7M445.4 396.9h.7M437.6 399.2h.7M445.6 392.4h.7M425.9 403.3h.7M437.8 396.0h.7M437.4 388.7h.7M426.3 391.0h.7M434.3 394.6h.7M433.5 390.5h.7M442.1 390.8h.7M431.1 394.3h.7M433.5 383.5h.7" stroke="#a8a8a8" stroke-width=".7" fill="none" opacity="1"/>
<path d="M407.6 406.4h0.9M409.6 406.4h0.9M411.7 406.4h0.9M413.8 406.4h0.9M415.8 406.4h0.9M417.9 406.4h0.9M424.0 406.4h0.9M426.1 406.4h0.9M428.1 406.4h0.9M430.1 406.4h0.9M432.2 406.4h0.9M434.2 406.4h0.9M440.4 406.4h0.9M442.4 406.4h0.9M444.5 406.4h0.9M446.6 406.4h0.9M448.6 406.4h0.9M450.6 406.4h0.9M456.8 406.4h0.9M458.9 406.4h0.9M460.9 406.4h0.9M462.9 406.4h0.9M465.0 406.4h0.9" stroke="#999" stroke-width="0.8"/>
<path d="M401.3 347.6v0.9M401.3 349.6v0.9M401.3 351.7v0.9M401.3 353.8v0.9M401.3 355.8v0.9M401.3 357.9v0.9M401.3 364.0v0.9M401.3 366.1v0.9M401.3 368.1v0.9M401.3 370.1v0.9M401.3 372.2v0.9M401.3 374.2v0.9M401.3 380.4v0.9M401.3 382.4v0.9M401.3 384.5v0.9M401.3 386.6v0.9M401.3 388.6v0.9M401.3 390.6v0.9M401.3 396.8v0.9M401.3 398.9v0.9M401.3 400.9v0.9M401.3 402.9v0.9M401.3 405.0v0.9" stroke="#aaa" stroke-width="0.8"/>
<g font-family="Liberation Mono, monospace" font-weight="bold" fill="#3c3c3c" font-size="4.6">
<text x="423.1" y="347.8" text-anchor="middle">1</text>
<text x="464.5" y="347.8" text-anchor="middle">2</text>
<text x="423.1" y="379.8" text-anchor="middle">3</text>
<text x="464.5" y="379.8" text-anchor="middle">4</text>
<text x="427.9" y="371.3" text-anchor="middle">E</text>
<text x="403.7" y="410.7" text-anchor="middle">.1</text>
<text x="462.9" y="410.7" text-anchor="middle" textLength="8.5">1000</text>
<text x="434.9" y="414.0" text-anchor="middle" fill="#555" textLength="17.5">FITC LOG</text>
<text transform="translate(401.3,345.7) rotate(-90)" text-anchor="middle" textLength="8">1000</text>
<text transform="translate(401.3,374.5) rotate(-90)" text-anchor="middle" fill="#555" textLength="12.5">PI LOG</text>
<text transform="translate(401.3,401.5) rotate(-90)" text-anchor="middle">1</text>
</g>
</g>
<g>
<rect x="473.5" y="341.5" width="65" height="64.0" fill="#fff" stroke="#8e8e8e" stroke-width="1"/>
<path d="M473.5 373.5H538.5" stroke="#828282" stroke-width="1"/>
<path d="M496.5 341.5V405.5" stroke="#b8b8b8" stroke-width="1.0"/>
<path d="M484.0 389.8h.7M480.0 384.3h.7M483.8 392.3h.7M488.6 388.4h.7M488.0 381.6h.7M496.4 380.5h.7M483.1 398.3h.7M489.5 392.9h.7M490.2 375.2h.7M486.5 383.8h.7M488.5 395.5h.7M490.2 381.3h.7M484.4 385.8h.7M487.4 389.5h.7M492.6 389.5h.7M490.8 385.9h.7M493.1 388.0h.7M486.7 380.9h.7M491.4 388.9h.7M482.4 387.1h.7M482.6 388.7h.7M489.1 387.6h.7M484.4 379.7h.7M494.9 386.8h.7M497.1 373.6h.7M485.8 379.1h.7M500.0 385.8h.7M488.8 384.2h.7M491.1 377.4h.7M491.5 375.8h.7M493.0 385.4h.7M488.6 384.6h.7M492.7 395.2h.7M488.2 382.6h.7M489.4 395.1h.7M494.2 380.4h.7M491.3 390.4h.7M496.6 387.6h.7M487.2 386.0h.7M484.9 384.0h.7M484.9 390.8h.7M490.1 387.9h.7M484.7 392.9h.7M489.5 373.3h.7M487.4 387.5h.7M489.0 382.0h.7M494.9 374.8h.7M491.7 386.1h.7M496.1 381.4h.7M486.4 393.7h.7M493.0 392.7h.7M493.3 385.3h.7M487.2 385.6h.7M497.0 384.2h.7M496.0 375.6h.7M489.5 379.0h.7M492.0 384.4h.7M484.8 390.5h.7M489.8 385.9h.7M488.4 387.6h.7M488.6 385.9h.7M485.8 395.3h.7M494.7 378.3h.7M487.5 384.2h.7M484.2 388.5h.7M486.5 393.4h.7M488.8 392.1h.7M485.1 383.0h.7M495.4 375.6h.7M488.9 385.2h.7M486.7 392.4h.7M483.7 379.4h.7M490.9 387.1h.7M488.0 373.5h.7M492.5 393.1h.7M490.5 392.0h.7M482.8 388.9h.7M490.3 382.1h.7M487.2 392.2h.7M493.3 381.1h.7M491.9 373.2h.7M496.3 379.8h.7M495.7 384.6h.7M488.3 387.6h.7M483.5 391.6h.7M492.0 392.8h.7M490.2 390.0h.7M499.1 393.0h.7M484.2 388.5h.7M485.3 379.7h.7M486.5 384.4h.7M486.9 390.5h.7M499.7 379.4h.7M494.4 384.2h.7M489.1 383.0h.7M490.3 385.9h.7M495.4 386.1h.7M481.7 389.3h.7M490.2 377.5h.7M504.6 388.1h.7M494.6 382.8h.7M490.5 388.0h.7M504.5 390.0h.7M492.2 382.4h.7M495.0 379.4h.7M495.1 381.5h.7M493.8 387.8h.7M487.2 386.1h.7M490.3 387.5h.7M492.1 390.5h.7M492.3 386.1h.7M490.1 389.1h.7M491.1 383.0h.7M490.5 388.8h.7M488.6 384.4h.7M494.4 384.1h.7M491.3 375.3h.7M487.5 393.7h.7M499.5 380.3h.7M487.4 385.1h.7M489.2 384.3h.7M488.2 391.0h.7M487.0 389.5h.7M487.3 390.0h.7M491.8 384.8h.7M486.9 383.3h.7M485.5 393.6h.7M492.6 388.6h.7M489.6 395.7h.7M485.6 385.0h.7M486.6 388.7h.7M492.4 379.6h.7M487.7 383.4h.7M483.3 391.7h.7M484.1 393.9h.7M496.1 392.3h.7M492.9 391.9h.7M495.1 386.0h.7M490.1 385.7h.7M496.0 387.6h.7M482.9 387.9h.7M482.8 386.4h.7M487.5 388.3h.7M487.1 390.1h.7M493.8 381.6h.7M492.8 381.4h.7M485.1 383.3h.7M494.9 382.0h.7M494.0 380.0h.7M496.3 394.9h.7M479.2 387.4h.7M488.3 380.9h.7M487.6 393.2h.7M494.6 395.1h.7M504.6 382.4h.7M492.0 391.8h.7M486.2 388.8h.7M488.6 387.7h.7M489.8 384.7h.7M488.8 377.2h.7M485.1 381.4h.7M496.2 387.5h.7M497.1 381.3h.7M488.1 384.6h.7M489.6 389.3h.7M482.8 387.4h.7M495.9 382.2h.7M489.9 383.9h.7M490.5 382.8h.7M491.6 385.2h.7M487.8 385.3h.7M489.0 381.9h.7M498.4 381.7h.7M491.3 389.3h.7M492.7 383.1h.7M488.0 393.0h.7M488.4 388.2h.7M496.4 377.3h.7M488.8 395.4h.7M490.1 380.1h.7M487.4 385.5h.7M495.5 388.4h.7M497.1 374.1h.7M496.1 389.6h.7M493.0 390.3h.7M500.6 397.7h.7M490.6 392.7h.7M498.9 381.6h.7M498.6 381.8h.7M493.1 388.5h.7M493.8 383.4h.7M491.9 382.1h.7M493.3 394.2h.7M497.2 390.0h.7M494.2 377.0h.7M496.8 380.2h.7M484.9 380.9h.7M488.1 388.4h.7M484.0 386.9h.7M485.8 395.3h.7M494.7 387.2h.7M480.0 390.0h.7M495.8 377.0h.7M493.9 389.9h.7M486.3 391.7h.7M494.4 384.2h.7M491.2 381.9h.7M489.1 376.4h.7M483.0 396.9h.7M490.5 386.3h.7M479.0 393.6h.7M492.5 390.7h.7M500.1 385.4h.7M484.6 391.5h.7M480.4 392.3h.7M486.0 392.5h.7M488.8 391.7h.7M493.3 379.7h.7M489.0 389.1h.7M488.8 387.3h.7M488.7 390.5h.7M490.3 390.6h.7M494.7 388.7h.7M493.8 385.7h.7M488.2 386.3h.7M488.7 382.2h.7M497.8 389.1h.7M490.8 391.8h.7M492.0 384.1h.7M491.6 380.9h.7M488.7 394.0h.7M492.8 385.5h.7M488.8 380.2h.7M494.7 395.2h.7M493.4 390.8h.7M484.2 380.5h.7M499.2 396.2h.7M493.7 387.9h.7M486.0 392.7h.7M486.0 391.4h.7M487.8 384.6h.7M488.5 394.8h.7M490.1 383.1h.7M491.6 392.3h.7M494.4 390.5h.7M491.2 383.2h.7M486.2 377.9h.7M487.7 391.5h.7M496.2 384.7h.7M488.7 382.5h.7M497.2 391.7h.7M496.4 386.3h.7M486.0 383.6h.7M494.1 391.8h.7M492.8 393.6h.7M485.1 380.5h.7M488.5 385.4h.7M495.3 391.4h.7M480.1 389.7h.7M489.7 388.8h.7" stroke="#8a8a8a" stroke-width=".7" fill="none" opacity="1"/>
<ellipse cx="490.2" cy="387.0" rx="4.2" ry="3.4" fill="#777" opacity="0.55" filter="url(#b1)"/>
<path d="M504.5 381.8h.7M499.6 385.9h.7M512.0 374.8h.7M507.1 379.9h.7M500.4 378.6h.7M511.1 385.7h.7M498.5 391.4h.7M500.4 389.5h.7M504.2 381.1h.7M497.5 386.7h.7M507.2 376.5h.7M504.4 384.0h.7M500.7 384.7h.7M502.9 393.2h.7M505.7 382.8h.7M498.6 383.0h.7M504.7 378.6h.7M500.9 380.3h.7M510.9 373.1h.7M506.6 383.2h.7M499.7 387.8h.7M496.6 386.4h.7M509.1 381.5h.7M502.6 378.9h.7M504.7 384.7h.7M501.0 383.7h.7M505.9 383.5h.7M497.3 382.2h.7M500.9 384.7h.7M503.1 384.2h.7M507.1 378.0h.7M503.0 379.7h.7M504.2 384.2h.7M501.5 389.6h.7M499.5 385.6h.7M506.6 381.6h.7M502.0 381.1h.7M509.7 374.5h.7M503.5 382.7h.7M503.0 381.6h.7M498.6 383.0h.7M500.9 388.9h.7M509.5 376.1h.7M503.2 381.6h.7M506.5 388.2h.7M505.1 383.0h.7M499.8 372.5h.7M505.4 379.8h.7M503.8 382.5h.7M507.0 381.2h.7M507.9 375.0h.7M506.9 382.8h.7M500.8 384.7h.7M505.9 380.6h.7M503.5 383.6h.7M511.6 370.6h.7M499.9 387.5h.7M495.3 388.9h.7M499.4 393.2h.7M505.4 379.0h.7M492.5 389.5h.7M506.7 393.1h.7M497.9 389.0h.7M507.5 380.4h.7M500.5 383.1h.7M506.2 378.2h.7M495.9 387.9h.7M504.6 388.2h.7M498.3 379.9h.7M503.9 386.0h.7M498.5 385.6h.7M499.2 388.5h.7M501.9 381.4h.7M504.9 383.2h.7M500.6 385.4h.7M504.7 379.5h.7M498.8 390.6h.7M503.9 383.9h.7M507.7 385.1h.7M503.0 392.7h.7M506.6 382.1h.7M500.1 386.6h.7M503.8 384.2h.7M497.2 389.6h.7M501.4 395.3h.7M499.2 384.2h.7M502.8 386.2h.7M508.1 380.1h.7M496.1 389.3h.7M504.3 382.0h.7M504.7 378.3h.7M497.1 379.9h.7M504.3 384.5h.7M501.7 380.3h.7M503.0 382.9h.7M498.6 385.5h.7M505.3 383.3h.7M507.6 372.7h.7M504.0 385.7h.7M503.4 386.4h.7M500.7 394.1h.7M506.8 378.9h.7M497.6 387.4h.7M503.8 388.9h.7M502.0 385.4h.7M504.4 379.5h.7M495.5 380.9h.7M509.7 382.3h.7M501.5 380.1h.7M504.2 380.1h.7M492.7 393.6h.7M495.3 390.5h.7M501.1 389.4h.7M498.0 389.6h.7M498.8 380.1h.7M501.7 381.1h.7M496.0 384.0h.7M501.6 381.5h.7M502.5 383.3h.7M507.6 376.2h.7M506.7 385.3h.7M504.4 387.2h.7M500.1 376.8h.7M508.0 376.2h.7M498.4 387.0h.7M504.3 382.5h.7M506.3 370.4h.7M502.9 380.2h.7M500.4 383.7h.7M504.3 389.2h.7M503.5 382.0h.7M500.4 378.3h.7M501.2 382.4h.7M503.0 389.6h.7M505.3 383.2h.7M501.3 385.4h.7M504.5 384.1h.7M504.7 383.2h.7M501.6 386.9h.7M505.8 382.0h.7M502.6 384.5h.7M503.6 383.7h.7M501.8 381.8h.7M501.6 385.2h.7M493.3 382.3h.7M501.8 382.4h.7M505.3 383.0h.7M503.6 380.8h.7M499.5 378.6h.7M502.8 378.6h.7M501.5 387.1h.7M498.6 383.5h.7M499.6 381.8h.7M503.1 377.2h.7M505.3 385.4h.7M509.5 386.2h.7M507.3 379.2h.7M500.3 389.1h.7M509.6 379.5h.7M506.6 381.7h.7M503.6 384.1h.7M504.4 381.2h.7M505.5 375.7h.7M506.1 376.4h.7M498.7 386.4h.7M499.5 385.7h.7M508.2 382.7h.7M499.4 374.1h.7M505.4 376.4h.7M507.5 383.7h.7M511.0 381.8h.7M500.9 380.6h.7M504.5 390.5h.7M502.3 384.6h.7M499.1 383.0h.7M511.6 379.3h.7M505.3 383.3h.7M500.2 385.6h.7M503.6 386.9h.7M506.1 376.4h.7M499.0 391.5h.7M507.8 372.2h.7M510.2 375.8h.7M500.3 378.4h.7M498.9 380.6h.7M510.8 384.7h.7M502.2 380.4h.7M500.6 385.1h.7M507.1 385.0h.7M503.7 382.6h.7M497.3 385.1h.7M503.6 381.6h.7M503.7 384.5h.7M506.4 374.2h.7M507.8 381.9h.7M498.2 382.3h.7M499.2 388.2h.7M504.4 383.0h.7M508.0 382.0h.7M511.7 380.6h.7M503.4 383.2h.7M497.2 384.1h.7M500.4 380.6h.7M505.9 375.7h.7M507.2 374.4h.7M505.2 385.5h.7M507.9 383.9h.7M502.0 387.8h.7M502.9 385.4h.7M496.3 386.7h.7M503.2 384.9h.7M497.2 385.2h.7M495.5 389.1h.7M507.3 374.8h.7M493.0 388.0h.7M498.1 386.4h.7M506.1 383.4h.7M502.8 386.1h.7M504.4 384.4h.7M508.7 380.0h.7M499.1 391.1h.7M496.4 379.5h.7M504.0 380.5h.7M494.1 384.0h.7M505.5 381.3h.7M505.6 380.2h.7M508.4 373.1h.7M503.6 382.6h.7M511.8 378.7h.7M504.0 387.5h.7M502.8 387.2h.7M493.3 385.6h.7M507.6 379.5h.7M497.6 380.8h.7M499.8 383.9h.7M506.0 380.0h.7M494.3 389.4h.7M497.4 386.1h.7M501.6 390.2h.7M506.6 377.6h.7M498.1 383.9h.7M508.4 387.4h.7M507.7 379.7h.7M505.8 376.6h.7M502.4 385.8h.7M502.0 390.0h.7M498.0 382.5h.7M505.7 378.2h.7M505.5 386.8h.7M506.6 375.4h.7M503.8 374.7h.7M508.7 377.2h.7M507.0 385.6h.7M500.4 377.3h.7M506.6 383.1h.7M510.7 381.6h.7M498.9 381.7h.7M496.5 388.3h.7M501.5 385.6h.7M507.8 374.7h.7M498.7 388.2h.7M505.6 383.3h.7M509.3 377.8h.7M502.5 380.0h.7M506.9 383.2h.7M506.0 387.6h.7M505.1 384.2h.7M500.1 391.9h.7M501.6 382.2h.7M504.5 382.3h.7M497.6 383.1h.7M506.4 382.4h.7M503.2 381.4h.7M497.9 379.8h.7M499.7 383.3h.7M497.2 378.7h.7M497.4 387.2h.7M493.3 387.7h.7M507.8 376.1h.7M501.5 384.9h.7M499.7 387.3h.7M498.9 382.6h.7M505.0 383.9h.7M500.0 380.0h.7M501.9 381.0h.7M501.9 385.0h.7M506.7 382.6h.7M507.8 389.3h.7M508.4 380.2h.7M512.2 377.7h.7M511.7 378.5h.7M504.0 386.1h.7M509.2 379.5h.7M509.5 378.4h.7M500.0 385.7h.7M496.8 384.0h.7M512.5 376.0h.7M504.6 374.8h.7M505.0 378.4h.7M507.7 381.2h.7" stroke="#777" stroke-width=".7" fill="none" opacity="1"/>
<ellipse cx="503.2" cy="382.7" rx="5" ry="1.9" transform="rotate(-50 503.2 382.7)" fill="#111" opacity="0.9" filter="url(#b1)"/>
<path d="M507.3 388.3h.7M507.1 400.9h.7M499.1 386.2h.7M484.7 382.1h.7M481.4 399.2h.7M481.2 388.3h.7M498.4 390.3h.7M500.0 402.1h.7M491.2 398.3h.7M505.2 393.5h.7M504.7 393.4h.7M497.4 400.1h.7M493.8 392.5h.7M500.8 401.0h.7M486.4 401.6h.7M497.7 395.3h.7M508.3 387.4h.7M487.9 386.0h.7M497.3 397.2h.7M482.7 397.1h.7M485.2 395.4h.7M514.7 401.7h.7M496.1 400.4h.7M502.9 377.6h.7M488.9 399.2h.7M501.1 386.6h.7M500.1 396.8h.7M495.1 394.0h.7M513.1 399.2h.7M504.0 382.1h.7M492.7 399.6h.7M498.2 392.6h.7M487.7 396.2h.7M494.9 382.9h.7M518.9 392.8h.7M479.8 383.8h.7M490.5 390.8h.7M488.4 393.2h.7M509.1 386.7h.7M505.9 399.6h.7M486.0 384.0h.7M502.7 400.9h.7M502.8 398.2h.7M490.1 398.5h.7M486.4 398.1h.7M503.9 399.0h.7M508.0 398.4h.7M505.6 395.3h.7M511.2 393.8h.7M509.4 389.4h.7M485.9 395.6h.7M495.6 390.7h.7M489.2 399.8h.7M500.1 400.4h.7M492.6 396.6h.7M487.3 389.5h.7M503.3 399.6h.7M497.3 402.5h.7M489.5 403.6h.7M495.0 393.2h.7M487.7 403.6h.7M487.5 403.8h.7M508.8 381.3h.7M495.6 386.1h.7M491.7 393.9h.7M493.6 398.7h.7M500.2 381.8h.7M485.1 384.8h.7M483.9 397.7h.7M494.6 394.4h.7M477.3 391.4h.7M476.1 393.7h.7M490.3 397.0h.7M500.7 399.7h.7M493.9 396.6h.7M497.3 386.3h.7M496.5 401.7h.7M489.3 401.9h.7M493.1 403.1h.7M496.3 387.9h.7M497.6 402.4h.7M478.8 387.1h.7M499.3 386.3h.7M479.7 394.0h.7M491.4 391.9h.7M492.2 395.8h.7M488.0 382.8h.7M493.5 391.7h.7M494.1 394.2h.7M489.4 382.8h.7M499.8 404.1h.7M500.3 394.7h.7M501.1 391.3h.7M483.0 380.4h.7M496.5 385.8h.7M487.3 396.6h.7M504.4 403.6h.7M480.3 392.0h.7M489.0 394.2h.7M495.3 397.0h.7M493.5 385.4h.7M489.9 398.4h.7M496.7 399.1h.7M495.6 401.9h.7M486.6 397.3h.7M499.8 387.9h.7M487.1 388.3h.7M507.0 390.4h.7M503.2 390.7h.7M497.6 398.0h.7M497.4 390.4h.7M508.5 397.7h.7M490.5 396.6h.7M512.3 388.9h.7M496.6 397.1h.7M492.2 392.6h.7M503.1 391.4h.7M494.3 395.7h.7M484.0 394.2h.7M505.3 401.3h.7M478.9 392.4h.7M511.4 386.6h.7M487.8 395.9h.7M489.5 388.1h.7M489.0 395.0h.7M498.0 396.1h.7M482.3 382.0h.7M502.5 392.9h.7M496.6 396.4h.7M508.7 401.4h.7M490.6 399.0h.7M500.2 403.7h.7M515.9 395.8h.7M487.3 397.6h.7M488.9 393.5h.7M504.9 389.2h.7M478.0 389.6h.7M486.4 382.2h.7M501.1 397.5h.7M498.0 401.7h.7M497.8 400.2h.7M489.0 396.9h.7M492.8 385.6h.7M497.9 387.2h.7M504.3 382.1h.7M478.1 402.9h.7M501.3 391.3h.7M478.2 389.0h.7M501.8 388.7h.7M508.0 394.3h.7M488.6 391.1h.7M503.6 389.8h.7M489.2 392.6h.7M494.2 384.9h.7M494.7 397.2h.7M493.9 386.3h.7M498.7 386.6h.7M482.0 389.8h.7M499.3 390.5h.7M503.3 398.7h.7" stroke="#aaa" stroke-width=".7" fill="none" opacity="1"/>
<path d="M504.9 350.4h.7M499.8 348.4h.7M503.8 347.2h.7M499.8 347.8h.7M502.2 348.4h.7M501.2 344.5h.7M496.6 345.9h.7M507.7 346.8h.7M501.6 343.8h.7M502.7 346.4h.7M502.2 345.4h.7M498.0 343.5h.7M499.5 343.3h.7M497.9 347.0h.7M501.6 344.6h.7M501.0 349.5h.7M497.5 348.1h.7M494.5 350.9h.7M503.2 352.6h.7M507.7 346.6h.7M503.7 347.5h.7M494.9 349.0h.7M504.2 348.6h.7M502.5 342.6h.7M502.3 343.8h.7M499.5 349.4h.7M497.4 343.0h.7M502.7 347.9h.7M494.2 350.3h.7M499.1 351.1h.7M500.0 350.5h.7M497.4 344.2h.7M504.8 351.1h.7M501.9 347.5h.7M504.2 343.2h.7M499.3 346.5h.7M506.1 343.9h.7M503.7 343.8h.7M497.5 346.4h.7M502.1 346.3h.7M498.8 344.4h.7M499.3 342.6h.7M501.7 350.0h.7M500.2 344.0h.7M500.2 346.2h.7M499.8 343.2h.7M502.6 350.6h.7M502.2 344.0h.7M506.0 346.2h.7M502.9 345.6h.7M501.3 345.5h.7M500.7 346.5h.7M511.1 343.1h.7M501.8 344.4h.7M504.8 345.7h.7M501.0 346.2h.7M508.3 349.3h.7M502.8 349.3h.7M496.6 347.7h.7M502.7 344.3h.7M498.2 348.6h.7M504.0 346.4h.7M497.2 350.7h.7M499.5 344.4h.7M498.9 345.0h.7M506.6 345.0h.7M504.0 343.9h.7M505.6 349.9h.7M504.3 351.3h.7M497.1 344.1h.7M504.2 346.4h.7M502.4 346.7h.7M500.3 345.8h.7M499.5 346.1h.7M503.8 351.0h.7M506.3 345.6h.7M499.9 344.8h.7M495.1 348.9h.7M504.5 347.3h.7M501.6 348.1h.7M504.7 350.0h.7M496.3 353.4h.7M499.2 350.2h.7M497.7 349.9h.7M510.6 349.2h.7M501.6 350.9h.7M501.2 346.5h.7M499.8 345.6h.7M502.0 344.0h.7M505.5 347.1h.7M497.3 343.8h.7M501.3 345.1h.7M506.6 342.9h.7M501.5 345.7h.7M500.9 348.0h.7M503.5 344.4h.7M499.6 347.2h.7M501.3 344.5h.7M495.9 347.1h.7M499.9 347.6h.7M499.3 345.8h.7M501.6 347.0h.7M501.1 346.3h.7M498.0 344.0h.7M498.8 344.5h.7M497.0 345.0h.7M503.1 343.9h.7M503.7 348.6h.7M504.3 346.8h.7M494.8 345.6h.7" stroke="#888" stroke-width=".7" fill="none" opacity="1"/>
<ellipse cx="501.5" cy="346.0" rx="2.6" ry="2.2" fill="#888" opacity="0.5" filter="url(#b1)"/>
<path d="M493.7 345.5h.7M504.8 354.1h.7M504.8 372.1h.7M502.3 350.3h.7M504.7 347.8h.7M502.6 359.0h.7M506.3 343.8h.7M503.2 376.6h.7M501.9 377.0h.7M505.8 344.8h.7M504.4 362.8h.7M500.0 357.5h.7M496.0 375.1h.7M504.3 356.7h.7M505.5 373.1h.7M502.1 359.0h.7M504.7 358.1h.7M508.8 369.1h.7M503.2 355.8h.7M495.1 349.5h.7M510.1 359.0h.7M498.1 367.9h.7M506.5 346.4h.7M497.0 349.6h.7M508.4 349.4h.7M503.8 367.0h.7M502.2 359.5h.7M501.0 377.3h.7M506.5 357.9h.7M500.8 359.0h.7M494.6 354.7h.7M500.7 371.8h.7M504.1 350.4h.7M497.5 365.4h.7M503.9 366.8h.7M502.7 362.8h.7M502.8 376.5h.7M502.5 350.4h.7M505.7 366.6h.7M501.4 371.9h.7M504.6 352.8h.7M499.5 374.4h.7M505.8 348.7h.7M498.4 377.2h.7M512.1 370.0h.7M502.3 356.3h.7M505.5 373.5h.7M504.0 357.9h.7M497.4 347.4h.7M504.1 355.6h.7M508.9 369.2h.7M502.7 377.9h.7M505.8 357.1h.7M502.7 353.3h.7M500.7 359.2h.7M501.1 355.9h.7M501.8 360.4h.7M507.3 357.8h.7M501.2 365.0h.7M503.4 349.3h.7M501.6 358.4h.7M499.9 367.1h.7M503.8 354.4h.7M506.6 362.9h.7M502.7 362.0h.7M505.6 366.0h.7M500.0 362.6h.7M502.2 356.7h.7M501.4 369.6h.7M502.8 382.9h.7M500.5 367.9h.7M506.5 356.2h.7M502.9 369.7h.7M509.1 358.6h.7M502.0 362.8h.7M505.1 356.1h.7M505.7 364.1h.7M502.8 350.9h.7M499.1 343.1h.7M501.3 357.5h.7M501.3 353.3h.7M497.2 362.5h.7M506.9 363.1h.7M504.6 362.0h.7M502.8 347.1h.7M493.6 366.9h.7M508.9 367.3h.7M504.5 363.8h.7M501.9 357.1h.7M502.8 351.8h.7M503.9 347.8h.7M502.3 375.4h.7M507.9 351.7h.7M505.6 364.9h.7M506.0 363.5h.7M501.6 370.3h.7M506.4 348.5h.7M502.8 356.6h.7M498.9 360.4h.7M509.5 360.3h.7M502.1 361.5h.7M499.3 351.9h.7M508.6 355.5h.7M496.5 362.6h.7M505.8 352.6h.7M500.4 371.4h.7M505.8 348.1h.7M501.0 355.9h.7M501.9 347.4h.7M501.9 349.7h.7M505.1 361.1h.7M500.8 356.6h.7M500.9 367.7h.7M504.3 365.2h.7M495.2 365.7h.7M502.2 355.4h.7M497.6 369.8h.7M508.0 359.5h.7M502.0 352.8h.7M505.5 360.2h.7" stroke="#aaa" stroke-width=".7" fill="none" opacity="1"/>
<path d="M478.6 406.4h0.9M480.6 406.4h0.9M482.7 406.4h0.9M484.8 406.4h0.9M486.8 406.4h0.9M488.9 406.4h0.9M495.0 406.4h0.9M497.1 406.4h0.9M499.1 406.4h0.9M501.1 406.4h0.9M503.2 406.4h0.9M505.2 406.4h0.9M511.4 406.4h0.9M513.5 406.4h0.9M515.5 406.4h0.9M517.5 406.4h0.9M519.6 406.4h0.9M521.6 406.4h0.9M527.8 406.4h0.9M529.9 406.4h0.9M531.9 406.4h0.9M534.0 406.4h0.9M536.0 406.4h0.9" stroke="#999" stroke-width="0.8"/>
<path d="M472.3 347.6v0.9M472.3 349.6v0.9M472.3 351.7v0.9M472.3 353.8v0.9M472.3 355.8v0.9M472.3 357.9v0.9M472.3 364.0v0.9M472.3 366.1v0.9M472.3 368.1v0.9M472.3 370.1v0.9M472.3 372.2v0.9M472.3 374.2v0.9M472.3 380.4v0.9M472.3 382.4v0.9M472.3 384.5v0.9M472.3 386.6v0.9M472.3 388.6v0.9M472.3 390.6v0.9M472.3 396.8v0.9M472.3 398.9v0.9M472.3 400.9v0.9M472.3 402.9v0.9M472.3 405.0v0.9" stroke="#aaa" stroke-width="0.8"/>
<g font-family="Liberation Mono, monospace" font-weight="bold" fill="#3c3c3c" font-size="4.6">
<text x="494.1" y="347.8" text-anchor="middle">1</text>
<text x="535.5" y="347.8" text-anchor="middle">2</text>
<text x="494.1" y="379.8" text-anchor="middle">3</text>
<text x="535.5" y="379.8" text-anchor="middle">4</text>
<text x="498.9" y="371.3" text-anchor="middle">F</text>
<text x="474.7" y="410.7" text-anchor="middle">.1</text>
<text x="534.9" y="410.7" text-anchor="middle" textLength="8.5">1000</text>
<text x="505.9" y="414.0" text-anchor="middle" fill="#555" textLength="17.5">FITC LOG</text>
<text transform="translate(472.3,345.7) rotate(-90)" text-anchor="middle" textLength="8">1000</text>
<text transform="translate(472.3,374.5) rotate(-90)" text-anchor="middle" fill="#555" textLength="12.5">PI LOG</text>
<text transform="translate(472.3,401.5) rotate(-90)" text-anchor="middle">1</text>
</g>
</g>
<g>
<rect x="545.5" y="341.5" width="65" height="64.0" fill="#fff" stroke="#8e8e8e" stroke-width="1"/>
<path d="M545.5 373.5H610.5" stroke="#828282" stroke-width="1"/>
<path d="M568.5 341.5V405.5" stroke="#787878" stroke-width="1.0"/>
<ellipse cx="562.5" cy="389.4" rx="5.4" ry="3.6" transform="rotate(-62 562.5 388.9)" fill="#777" opacity="0.55" filter="url(#b3)"/>
<path d="M564.6 394.8h.7M565.0 386.9h.7M561.4 388.6h.7M558.4 391.6h.7M563.8 393.2h.7M564.5 396.5h.7M563.7 382.3h.7M554.5 389.0h.7M567.4 386.2h.7M568.3 381.6h.7M562.7 386.2h.7M560.9 396.1h.7M561.3 390.3h.7M561.8 393.5h.7M553.4 394.4h.7M567.7 384.9h.7M560.4 393.9h.7M567.0 389.1h.7M569.0 385.7h.7M567.1 395.5h.7M564.8 390.2h.7M569.1 389.0h.7M560.2 380.3h.7M557.8 395.4h.7M563.4 394.5h.7M571.3 384.2h.7M561.1 394.8h.7M567.7 385.8h.7M574.1 389.8h.7M566.3 385.8h.7M565.3 386.7h.7M561.4 390.7h.7M556.6 391.2h.7M559.8 386.6h.7M558.5 390.4h.7M550.3 388.8h.7M568.8 388.5h.7M560.8 386.4h.7M567.1 384.2h.7M558.1 395.2h.7M559.8 386.8h.7M559.4 383.3h.7M564.9 390.3h.7M558.8 399.0h.7M562.3 383.0h.7M558.4 393.9h.7M561.8 388.5h.7M557.8 388.0h.7M554.7 396.0h.7M567.7 386.0h.7M563.9 385.0h.7M559.0 390.7h.7M558.4 385.3h.7M564.9 388.1h.7M563.5 393.6h.7M557.2 381.0h.7M560.8 390.6h.7M557.6 401.2h.7M567.0 385.4h.7M566.7 392.5h.7M563.7 389.1h.7M567.5 388.9h.7M560.4 398.8h.7M568.0 390.1h.7M562.8 387.7h.7M560.6 392.2h.7M562.4 392.7h.7M560.1 387.2h.7M564.3 385.5h.7M565.7 393.5h.7M565.2 387.7h.7M564.4 395.0h.7M560.3 383.7h.7M565.7 392.8h.7M565.0 384.2h.7M563.7 388.3h.7M557.9 401.4h.7M565.0 381.0h.7M565.9 390.3h.7M566.6 389.8h.7M561.8 388.2h.7M560.2 392.0h.7M554.8 392.6h.7M559.8 386.6h.7M562.6 388.1h.7M563.8 390.7h.7M557.7 389.0h.7M561.0 389.8h.7M569.7 384.6h.7M552.7 391.6h.7M560.6 395.9h.7M559.9 399.4h.7M565.1 392.7h.7M560.1 385.9h.7M561.9 391.3h.7M565.0 382.9h.7M561.1 391.9h.7M561.8 393.6h.7M566.4 388.9h.7M563.6 395.3h.7M575.4 378.3h.7M562.4 388.3h.7M559.4 397.2h.7M570.3 380.3h.7M563.4 387.0h.7M566.6 399.2h.7M566.6 393.8h.7M562.3 388.6h.7M560.3 393.4h.7M561.9 387.3h.7M561.6 389.0h.7M557.6 391.7h.7M566.1 373.8h.7M560.0 382.9h.7M562.7 395.3h.7M560.6 397.4h.7M566.1 381.6h.7M568.0 387.3h.7M554.9 398.0h.7M564.1 392.8h.7M557.0 388.5h.7M558.7 395.4h.7M564.1 389.5h.7M560.7 395.2h.7M558.9 387.5h.7M565.7 399.4h.7M563.0 385.4h.7M561.8 384.8h.7M569.4 382.0h.7M554.5 399.0h.7M562.1 390.4h.7M562.1 396.6h.7M567.6 391.1h.7M567.8 390.9h.7M567.5 381.7h.7M566.4 389.5h.7M563.6 386.5h.7M573.3 380.2h.7M560.1 384.1h.7M558.7 393.7h.7M554.5 391.4h.7M566.6 387.4h.7M560.7 391.7h.7M568.7 385.4h.7M567.3 379.9h.7M564.1 392.3h.7M567.5 379.8h.7M560.8 390.0h.7M569.8 386.0h.7M563.1 395.8h.7M569.0 387.8h.7M560.9 391.1h.7M565.8 387.5h.7M562.1 395.1h.7M563.6 385.6h.7M567.5 389.2h.7M562.9 389.0h.7M559.3 393.7h.7M557.3 390.2h.7M566.9 385.3h.7M564.2 387.8h.7M561.1 379.0h.7M565.7 380.6h.7M557.3 391.6h.7M559.5 392.8h.7M562.2 383.6h.7M563.3 384.1h.7M567.1 391.8h.7M558.0 388.2h.7M564.1 389.4h.7M560.1 389.8h.7M561.4 384.1h.7M559.6 387.9h.7M563.0 385.1h.7M563.5 387.1h.7M559.6 387.5h.7M564.6 381.9h.7M558.1 387.0h.7M560.1 386.9h.7M562.6 396.0h.7M565.8 385.9h.7M565.0 389.1h.7M563.2 389.4h.7M558.4 392.8h.7M553.9 384.5h.7M556.2 392.9h.7M563.5 376.1h.7M559.2 399.2h.7M561.2 394.6h.7M567.7 392.4h.7M565.3 390.7h.7M562.2 389.8h.7M562.4 388.7h.7M571.8 385.3h.7M561.9 388.3h.7M566.3 390.0h.7M564.9 385.6h.7M565.3 401.1h.7M568.5 382.9h.7M567.9 390.1h.7M567.8 381.2h.7M562.9 387.1h.7M567.2 378.9h.7M564.7 393.0h.7M564.4 385.9h.7M566.1 385.5h.7M563.7 389.7h.7M565.0 386.6h.7M564.6 386.9h.7M561.2 384.5h.7M571.0 382.9h.7M565.5 388.6h.7M569.6 381.2h.7M560.2 395.7h.7M556.3 397.9h.7M563.5 379.8h.7M557.0 395.5h.7M570.0 390.9h.7M561.7 389.9h.7M565.9 398.7h.7M563.7 390.5h.7M565.3 383.7h.7M558.6 392.1h.7M565.2 390.9h.7M564.1 382.9h.7M557.2 387.8h.7M569.7 393.0h.7M563.0 386.1h.7M568.6 382.6h.7M571.2 386.6h.7M559.2 394.8h.7M565.9 392.4h.7M562.8 389.6h.7M555.2 397.4h.7M557.7 389.6h.7M562.2 387.5h.7M566.2 389.7h.7M564.0 387.0h.7M560.1 385.1h.7M559.7 389.5h.7M564.2 377.4h.7M563.3 391.7h.7M563.3 392.5h.7M562.4 396.3h.7M556.3 383.6h.7M554.4 393.0h.7M560.7 389.4h.7M565.6 388.6h.7M565.9 387.0h.7M555.5 389.8h.7M560.2 395.4h.7M555.9 391.1h.7M561.3 393.8h.7M558.1 394.8h.7M567.4 387.1h.7M557.4 396.9h.7M568.8 396.5h.7M557.4 387.3h.7M560.7 391.8h.7M563.5 392.6h.7M561.5 390.8h.7M574.1 373.6h.7M565.1 385.0h.7M560.7 403.8h.7M563.4 392.4h.7M558.8 395.8h.7M562.3 381.6h.7M571.4 381.8h.7M562.8 386.5h.7M558.8 380.4h.7M559.9 379.0h.7M565.3 394.0h.7M557.5 383.6h.7M553.5 394.2h.7M558.3 389.7h.7M564.3 383.6h.7M572.0 383.3h.7M563.0 397.3h.7M562.7 380.3h.7M558.9 388.8h.7M559.4 393.5h.7M560.8 385.8h.7M559.8 397.8h.7M570.2 384.9h.7M556.7 394.6h.7M559.4 389.0h.7M562.8 382.0h.7M562.8 391.1h.7M563.5 389.1h.7M563.8 390.6h.7M563.7 387.5h.7M565.5 387.1h.7M566.2 386.5h.7M565.0 387.4h.7M558.5 392.0h.7M559.5 389.0h.7M559.0 389.8h.7M561.5 392.8h.7M577.6 378.6h.7M562.7 389.1h.7M561.0 389.6h.7M565.6 387.0h.7M566.3 389.4h.7M563.6 392.5h.7M559.9 386.1h.7M563.3 381.1h.7M562.6 383.7h.7M564.1 394.4h.7M563.7 387.0h.7M554.7 389.2h.7M560.5 390.9h.7M565.1 384.7h.7M563.7 383.1h.7M567.9 386.3h.7M564.4 391.7h.7M563.1 378.3h.7M556.5 393.7h.7M557.8 389.7h.7M558.6 385.4h.7M567.6 380.2h.7M562.5 387.5h.7M561.2 391.8h.7M563.3 390.3h.7M562.1 383.7h.7M555.2 395.9h.7M556.8 383.7h.7M564.2 387.0h.7M559.3 395.6h.7M565.0 384.3h.7M565.8 387.7h.7M569.8 385.7h.7M559.7 391.9h.7M559.5 386.7h.7M564.1 389.0h.7M557.5 383.6h.7M552.7 386.9h.7M562.7 388.4h.7M567.7 386.9h.7M559.4 393.1h.7M565.5 389.7h.7M565.3 383.1h.7M560.7 397.3h.7M556.2 386.3h.7M560.3 386.4h.7M566.4 391.1h.7M559.8 387.6h.7M562.9 386.3h.7M566.0 390.4h.7M564.7 388.7h.7M562.7 389.4h.7M557.1 392.2h.7M569.7 386.6h.7M561.5 395.3h.7M562.6 383.1h.7M566.4 386.7h.7M571.6 386.7h.7M563.8 389.5h.7M560.8 393.5h.7M562.0 388.3h.7M565.7 389.9h.7M567.7 386.0h.7M563.3 377.6h.7M561.9 389.3h.7M560.0 389.8h.7M557.5 394.7h.7M564.7 382.2h.7M563.8 389.8h.7M559.5 387.0h.7M564.8 393.5h.7M556.7 389.5h.7M568.6 380.2h.7M553.8 390.5h.7M556.3 389.7h.7M565.1 391.3h.7M563.7 384.4h.7M563.1 384.9h.7M557.3 402.1h.7M557.2 390.7h.7M565.7 384.3h.7M568.2 386.6h.7M564.4 385.0h.7M565.5 377.2h.7M571.3 388.0h.7M560.2 388.4h.7M568.5 387.0h.7M562.3 384.9h.7M558.5 385.2h.7M569.3 386.0h.7M564.0 390.8h.7M562.0 390.3h.7M562.4 387.6h.7M570.2 374.5h.7M562.8 382.2h.7M563.3 387.4h.7M562.8 394.3h.7M569.1 387.7h.7M560.7 384.8h.7M566.0 385.5h.7M560.6 375.5h.7M562.5 389.7h.7M562.0 381.5h.7M566.8 384.1h.7M564.0 403.0h.7M553.1 396.8h.7M561.6 393.6h.7M561.0 390.8h.7M561.9 393.3h.7M570.5 388.3h.7M556.0 394.2h.7M559.4 390.7h.7M564.2 390.7h.7M558.8 390.5h.7M570.6 385.6h.7M574.5 384.0h.7M564.7 394.9h.7M564.5 385.2h.7M562.4 384.6h.7M558.5 393.5h.7M556.9 395.1h.7M559.7 386.4h.7M554.2 388.4h.7M558.9 394.1h.7M561.1 392.1h.7M559.1 390.8h.7M563.1 399.9h.7M564.7 391.7h.7M556.6 390.1h.7M562.0 386.6h.7M564.4 390.4h.7M566.9 387.5h.7" stroke="#777" stroke-width=".7" fill="none" opacity="1"/>
<path d="M562.7 385.6h.7M563.5 404.1h.7M563.2 401.5h.7M563.5 398.8h.7M563.9 387.9h.7M555.7 396.3h.7M563.9 398.9h.7M561.3 393.3h.7M559.0 397.8h.7M563.1 399.9h.7M561.7 402.8h.7M559.9 401.9h.7M559.7 403.6h.7M565.0 390.6h.7M563.7 390.6h.7M567.5 401.8h.7M562.4 397.9h.7M562.0 393.5h.7M558.8 395.5h.7M565.1 397.8h.7M565.5 401.5h.7M563.7 391.1h.7M559.2 393.9h.7M555.5 387.5h.7M562.4 403.3h.7M568.7 396.9h.7M565.0 397.9h.7M559.5 401.0h.7M562.0 399.4h.7M556.6 394.2h.7M565.0 394.8h.7M562.1 400.7h.7M566.5 403.5h.7M562.5 393.1h.7M565.0 392.5h.7M558.5 391.6h.7M562.0 392.1h.7M559.7 401.4h.7M558.7 389.5h.7M562.3 399.5h.7M560.6 390.7h.7M569.4 393.8h.7M570.1 392.1h.7M566.0 389.5h.7M567.1 399.1h.7M563.0 393.1h.7M567.0 403.5h.7M562.4 397.4h.7M560.3 399.9h.7M561.4 399.2h.7M556.4 398.7h.7M565.3 397.3h.7M567.1 392.2h.7M565.8 397.1h.7M562.6 398.9h.7M566.4 386.8h.7M562.5 395.9h.7M564.7 396.4h.7M561.0 397.8h.7M564.9 392.7h.7M562.9 395.7h.7M560.6 396.4h.7M568.3 393.8h.7M564.1 399.3h.7M566.0 394.6h.7M558.7 400.4h.7M556.3 397.8h.7M565.3 399.8h.7M562.6 395.2h.7M560.8 401.2h.7M557.4 389.9h.7M560.8 395.3h.7M563.8 394.9h.7M562.5 393.4h.7M565.5 400.9h.7M557.3 402.2h.7M563.3 396.9h.7M564.8 398.9h.7M562.9 398.7h.7M557.0 398.6h.7M562.8 390.5h.7M560.7 399.4h.7M561.0 390.9h.7M561.6 393.3h.7M562.6 402.7h.7M568.4 396.3h.7M563.7 390.9h.7M564.4 399.0h.7M560.4 400.1h.7M560.5 397.1h.7M563.1 396.7h.7M563.2 398.7h.7M560.5 397.4h.7M564.4 401.7h.7M559.8 394.1h.7M561.0 389.4h.7M560.5 394.6h.7M561.1 395.9h.7M559.3 400.0h.7M565.2 397.1h.7M566.6 387.2h.7M553.6 399.8h.7M563.4 395.5h.7M563.0 392.2h.7M559.3 392.1h.7M562.3 399.5h.7M568.0 394.9h.7M557.3 401.2h.7M561.1 390.8h.7M564.3 386.2h.7" stroke="#999" stroke-width=".7" fill="none" opacity="1"/>
<ellipse cx="562.5" cy="388.9" rx="4.4" ry="2.7" transform="rotate(-58 562.5 388.9)" fill="#000" filter="url(#b1)"/>
<ellipse cx="562.5" cy="388.9" rx="3.3" ry="1.9" transform="rotate(-58 562.5 388.9)" fill="#000" opacity="0.9"/>
<path d="M574.5 376.2h.7M578.3 361.5h.7M587.4 343.0h.7M581.6 368.7h.7M585.2 371.3h.7M593.3 378.2h.7M584.4 349.6h.7M585.2 349.1h.7M581.1 355.7h.7M578.1 368.1h.7M580.2 348.2h.7M580.8 355.8h.7M583.9 355.7h.7M585.4 351.6h.7M580.2 362.5h.7M577.0 358.5h.7M581.8 367.3h.7M568.7 370.0h.7M579.2 357.0h.7M587.9 361.8h.7M573.9 353.0h.7M584.6 353.1h.7" stroke="#a8a8a8" stroke-width=".7" fill="none" opacity="1"/>
<path d="M582.1 397.0h.7M594.7 386.3h.7M566.4 385.9h.7M575.4 397.8h.7M581.1 399.7h.7M580.7 381.7h.7M582.2 386.5h.7M581.6 379.9h.7M585.2 383.9h.7M575.8 397.0h.7M577.2 384.8h.7M590.8 388.7h.7M586.8 390.4h.7M564.8 389.6h.7M582.1 389.9h.7M592.3 379.4h.7M573.3 395.3h.7M588.0 396.8h.7M571.5 393.3h.7M583.1 403.4h.7M596.2 394.3h.7M584.2 396.2h.7M578.2 393.0h.7M582.1 391.9h.7M584.5 391.1h.7M574.6 398.7h.7M586.5 385.9h.7M583.8 385.0h.7M581.6 386.1h.7M574.3 393.9h.7M571.8 396.2h.7M591.8 389.3h.7M573.1 393.7h.7M577.2 380.6h.7M596.3 387.6h.7M593.7 397.1h.7" stroke="#a8a8a8" stroke-width=".7" fill="none" opacity="1"/>
<path d="M550.6 406.4h0.9M552.6 406.4h0.9M554.7 406.4h0.9M556.8 406.4h0.9M558.8 406.4h0.9M560.9 406.4h0.9M567.0 406.4h0.9M569.0 406.4h0.9M571.1 406.4h0.9M573.1 406.4h0.9M575.2 406.4h0.9M577.2 406.4h0.9M583.4 406.4h0.9M585.5 406.4h0.9M587.5 406.4h0.9M589.5 406.4h0.9M591.6 406.4h0.9M593.6 406.4h0.9M599.8 406.4h0.9M601.9 406.4h0.9M603.9 406.4h0.9M606.0 406.4h0.9M608.0 406.4h0.9" stroke="#999" stroke-width="0.8"/>
<path d="M544.3 347.6v0.9M544.3 349.6v0.9M544.3 351.7v0.9M544.3 353.8v0.9M544.3 355.8v0.9M544.3 357.9v0.9M544.3 364.0v0.9M544.3 366.1v0.9M544.3 368.1v0.9M544.3 370.1v0.9M544.3 372.2v0.9M544.3 374.2v0.9M544.3 380.4v0.9M544.3 382.4v0.9M544.3 384.5v0.9M544.3 386.6v0.9M544.3 388.6v0.9M544.3 390.6v0.9M544.3 396.8v0.9M544.3 398.9v0.9M544.3 400.9v0.9M544.3 402.9v0.9M544.3 405.0v0.9" stroke="#aaa" stroke-width="0.8"/>
<g font-family="Liberation Mono, monospace" font-weight="bold" fill="#3c3c3c" font-size="4.6">
<text x="566.1" y="347.8" text-anchor="middle">1</text>
<text x="607.5" y="347.8" text-anchor="middle">2</text>
<text x="566.1" y="379.8" text-anchor="middle">3</text>
<text x="607.5" y="379.8" text-anchor="middle">4</text>
<text x="570.9" y="371.3" text-anchor="middle">G</text>
<text x="546.7" y="410.7" text-anchor="middle">.1</text>
<text x="606.9" y="410.7" text-anchor="middle" textLength="8.5">1000</text>
<text x="577.9" y="414.0" text-anchor="middle" fill="#555" textLength="17.5">FITC LOG</text>
<text transform="translate(544.3,345.7) rotate(-90)" text-anchor="middle" textLength="8">1000</text>
<text transform="translate(544.3,374.5) rotate(-90)" text-anchor="middle" fill="#555" textLength="12.5">PI LOG</text>
<text transform="translate(544.3,401.5) rotate(-90)" text-anchor="middle">1</text>
</g>
</g>
<g>
<rect x="617.5" y="341.5" width="65" height="64.0" fill="#fff" stroke="#8e8e8e" stroke-width="1"/>
<path d="M617.5 373.5H682.5" stroke="#828282" stroke-width="1"/>
<path d="M640.5 341.5V405.5" stroke="#787878" stroke-width="1.0"/>
<ellipse cx="634.5" cy="389.4" rx="5.4" ry="3.6" transform="rotate(-62 634.5 388.9)" fill="#777" opacity="0.55" filter="url(#b3)"/>
<path d="M638.2 386.3h.7M636.0 391.5h.7M634.4 392.3h.7M632.5 392.9h.7M624.7 401.2h.7M636.3 387.1h.7M637.5 388.3h.7M638.4 379.5h.7M635.6 387.7h.7M642.1 388.4h.7M632.9 385.5h.7M634.9 383.9h.7M627.1 393.7h.7M630.6 386.0h.7M635.2 391.4h.7M632.1 401.9h.7M640.3 379.0h.7M633.8 388.7h.7M626.8 403.1h.7M629.9 395.5h.7M628.9 392.0h.7M629.4 390.1h.7M632.1 401.4h.7M634.5 395.7h.7M636.1 384.6h.7M635.2 388.6h.7M637.6 387.2h.7M633.9 390.0h.7M635.3 382.4h.7M623.3 392.5h.7M636.8 392.4h.7M639.1 377.8h.7M632.6 386.3h.7M634.6 387.9h.7M640.0 386.1h.7M636.3 386.9h.7M636.8 384.3h.7M643.3 385.6h.7M642.7 388.2h.7M634.6 392.7h.7M633.3 386.1h.7M635.3 386.9h.7M636.7 386.9h.7M635.9 384.8h.7M637.7 390.5h.7M639.2 383.0h.7M632.6 398.8h.7M633.3 383.7h.7M624.1 394.9h.7M635.8 399.8h.7M633.1 390.5h.7M641.7 388.2h.7M635.1 387.9h.7M642.1 386.5h.7M633.9 386.5h.7M634.4 395.5h.7M630.2 392.2h.7M624.7 396.5h.7M634.8 384.8h.7M636.6 384.9h.7M636.1 393.1h.7M634.2 387.5h.7M636.2 379.8h.7M631.6 394.2h.7M628.8 385.2h.7M633.1 389.7h.7M632.9 393.3h.7M629.9 399.7h.7M644.9 388.4h.7M634.0 396.8h.7M627.3 389.4h.7M632.2 387.3h.7M630.4 389.9h.7M635.6 386.3h.7M636.7 387.3h.7M636.2 386.9h.7M633.4 395.8h.7M633.8 390.7h.7M635.6 388.4h.7M630.9 390.8h.7M631.1 392.6h.7M634.0 383.7h.7M641.0 391.0h.7M630.8 395.6h.7M634.9 386.9h.7M635.4 392.9h.7M635.2 389.8h.7M635.4 396.5h.7M639.6 379.1h.7M634.3 385.8h.7M639.7 383.9h.7M635.1 387.6h.7M632.6 393.8h.7M630.1 383.5h.7M629.2 384.6h.7M639.7 381.8h.7M633.8 385.0h.7M641.3 381.0h.7M634.6 388.0h.7M631.2 392.0h.7M630.0 388.0h.7M633.0 380.6h.7M640.0 389.4h.7M636.6 388.3h.7M630.3 388.7h.7M635.3 377.7h.7M632.5 384.6h.7M638.4 387.5h.7M638.3 383.4h.7M633.9 388.0h.7M634.6 388.5h.7M636.6 384.6h.7M641.4 394.2h.7M631.7 394.5h.7M637.9 374.6h.7M639.6 382.5h.7M640.0 385.2h.7M633.4 397.5h.7M629.1 387.4h.7M633.0 384.5h.7M635.2 390.2h.7M633.0 397.3h.7M637.4 385.4h.7M637.2 384.3h.7M637.9 380.9h.7M637.6 389.2h.7M631.3 383.5h.7M637.5 392.5h.7M628.6 388.3h.7M633.0 384.8h.7M636.4 381.6h.7M623.8 397.6h.7M629.4 392.5h.7M635.8 387.6h.7M634.8 382.9h.7M634.4 391.8h.7M638.8 388.2h.7M630.9 396.2h.7M637.6 387.9h.7M634.6 390.7h.7M626.5 394.8h.7M635.3 381.8h.7M642.5 391.7h.7M626.7 394.4h.7M636.0 388.8h.7M635.6 388.5h.7M630.1 393.9h.7M634.1 382.1h.7M634.0 389.7h.7M635.2 383.3h.7M639.4 383.2h.7M634.7 387.1h.7M629.0 389.5h.7M636.8 385.3h.7M639.4 386.5h.7M632.5 393.2h.7M626.8 388.3h.7M637.8 384.5h.7M638.8 390.8h.7M635.0 396.4h.7M634.3 391.8h.7M632.2 386.8h.7M633.7 397.6h.7M634.6 391.6h.7M634.0 391.5h.7M633.8 389.6h.7M642.3 388.2h.7M629.9 392.3h.7M634.7 386.4h.7M636.9 390.7h.7M631.4 386.8h.7M637.7 385.1h.7M636.4 387.0h.7M633.2 399.9h.7M636.1 394.6h.7M631.4 394.7h.7M633.6 386.3h.7M637.6 387.8h.7M635.1 392.6h.7M636.9 389.7h.7M630.4 391.3h.7M631.7 390.0h.7M635.2 391.7h.7M633.3 385.7h.7M635.6 390.7h.7M631.3 391.8h.7M630.3 389.1h.7M629.3 392.1h.7M635.4 385.0h.7M634.0 386.0h.7M628.6 394.7h.7M637.4 385.1h.7M634.1 391.9h.7M632.9 387.9h.7M633.8 392.2h.7M628.5 387.8h.7M631.6 385.0h.7M625.1 394.3h.7M632.2 401.3h.7M637.0 392.1h.7M634.5 386.8h.7M631.8 397.1h.7M633.5 389.6h.7M634.7 397.9h.7M633.1 393.5h.7M639.9 392.2h.7M640.8 382.2h.7M637.4 392.3h.7M632.0 381.6h.7M632.7 387.3h.7M643.4 385.9h.7M631.2 391.9h.7M633.9 393.9h.7M632.6 381.7h.7M632.0 397.5h.7M632.8 386.1h.7M639.4 389.1h.7M640.8 382.9h.7M635.5 393.4h.7M634.6 385.4h.7M643.5 384.6h.7M641.6 378.7h.7M633.2 390.0h.7M632.4 386.7h.7M636.2 398.7h.7M638.4 386.1h.7M636.0 383.0h.7M633.3 389.9h.7M638.5 382.0h.7M634.2 386.7h.7M637.9 387.9h.7M633.6 387.9h.7M637.4 378.1h.7M634.9 393.6h.7M628.8 391.5h.7M639.0 388.5h.7M647.5 382.0h.7M642.2 390.3h.7M630.7 394.1h.7M634.8 398.5h.7M633.7 391.9h.7M634.4 391.0h.7M636.0 391.6h.7M636.7 383.2h.7M633.8 388.4h.7M637.5 395.7h.7M623.3 394.3h.7M633.7 399.0h.7M639.9 388.1h.7M631.0 393.9h.7M636.6 376.6h.7M624.4 395.5h.7M636.6 391.9h.7M636.7 384.6h.7M635.5 387.1h.7M637.8 393.4h.7M634.5 388.0h.7M635.4 389.0h.7M639.5 388.8h.7M636.2 389.7h.7M632.2 389.1h.7M639.1 378.9h.7M635.3 377.7h.7M636.3 378.5h.7M634.9 389.2h.7M634.9 388.7h.7M635.3 393.7h.7M630.6 388.1h.7M638.8 385.8h.7M628.8 389.3h.7M638.1 384.3h.7M632.2 388.2h.7M635.8 396.8h.7M633.6 385.4h.7M637.5 386.5h.7M629.8 384.6h.7M638.4 387.7h.7M633.3 394.9h.7M634.8 390.2h.7M634.2 395.1h.7M634.6 388.6h.7M632.4 385.3h.7M641.5 390.0h.7M636.6 385.7h.7M632.8 393.3h.7M633.7 388.4h.7M633.0 391.0h.7M636.9 385.9h.7M636.7 387.6h.7M636.5 385.1h.7M637.9 390.6h.7M641.2 389.2h.7M631.0 395.8h.7M633.6 392.5h.7M637.1 388.0h.7M634.3 394.6h.7M638.2 384.5h.7M639.9 391.1h.7M636.1 383.4h.7M639.7 384.2h.7M630.1 391.9h.7M626.9 395.7h.7M637.8 390.5h.7M633.3 388.2h.7M632.0 388.9h.7M639.1 394.3h.7M631.6 386.2h.7M632.4 387.8h.7M628.9 392.1h.7M637.2 378.7h.7M632.0 392.2h.7M644.8 388.0h.7M637.9 386.9h.7M633.2 390.1h.7M636.7 381.0h.7M633.8 383.9h.7M633.9 389.0h.7M631.5 381.1h.7M630.3 396.0h.7M637.6 389.8h.7M633.7 397.4h.7M635.8 385.7h.7M637.0 381.2h.7M642.2 386.3h.7M635.1 389.7h.7M634.2 391.3h.7M634.8 385.6h.7M635.8 389.6h.7M631.4 394.8h.7M640.1 391.1h.7M635.2 385.9h.7M636.5 390.5h.7M633.4 394.4h.7M635.5 394.6h.7M635.4 382.3h.7M639.7 386.6h.7M630.2 393.8h.7M637.6 391.0h.7M636.5 394.2h.7M637.5 383.6h.7M634.8 390.5h.7M637.8 387.8h.7M629.0 394.3h.7M634.2 398.0h.7M637.0 384.3h.7M633.4 383.6h.7M636.4 389.7h.7M630.5 396.3h.7M634.5 396.1h.7M633.4 388.6h.7M634.9 395.6h.7M633.4 387.1h.7M630.6 389.9h.7M636.9 382.5h.7M638.8 379.9h.7M631.4 392.6h.7M636.8 390.9h.7M647.7 381.1h.7M632.4 383.0h.7M645.1 385.2h.7M629.9 395.2h.7M642.8 391.1h.7M638.2 384.6h.7M631.5 401.4h.7M629.4 393.4h.7M632.4 396.5h.7M641.4 380.0h.7M635.3 383.2h.7M632.3 395.1h.7M627.2 395.1h.7M632.0 386.4h.7M643.4 391.0h.7M641.7 387.5h.7M631.8 392.2h.7M636.3 390.0h.7M629.2 392.8h.7M639.9 385.3h.7M645.2 383.7h.7M634.0 385.6h.7M629.9 390.0h.7M640.6 386.7h.7M637.6 380.9h.7M636.8 381.8h.7M633.1 387.5h.7M636.7 387.0h.7M628.0 384.0h.7M639.1 388.6h.7M633.7 381.9h.7M633.0 401.0h.7M633.6 388.0h.7M629.4 392.4h.7M629.1 392.7h.7M630.5 383.3h.7M643.8 383.3h.7M630.2 397.5h.7M638.1 389.8h.7M637.2 380.7h.7M636.5 392.7h.7M641.3 390.7h.7M627.1 392.0h.7M634.4 389.9h.7M635.2 392.5h.7M634.5 393.2h.7M636.5 397.6h.7M637.8 385.2h.7M631.2 392.0h.7M627.4 390.5h.7M635.5 395.9h.7M636.8 392.5h.7M633.6 387.2h.7M630.1 393.6h.7M632.4 387.2h.7M629.1 390.0h.7M633.8 379.2h.7M632.3 384.3h.7M639.3 394.3h.7M633.8 393.4h.7M637.0 397.7h.7M643.2 385.8h.7M627.3 389.4h.7M626.1 391.8h.7M638.9 383.9h.7M631.3 388.3h.7M634.9 386.3h.7M633.8 392.0h.7M626.7 390.9h.7M643.4 387.4h.7M630.5 399.2h.7M628.1 395.0h.7M636.4 392.7h.7" stroke="#777" stroke-width=".7" fill="none" opacity="1"/>
<path d="M628.8 404.0h.7M631.4 384.0h.7M636.3 390.1h.7M641.4 397.9h.7M637.1 390.1h.7M633.6 397.1h.7M628.4 388.3h.7M634.5 398.8h.7M638.3 385.3h.7M632.1 389.5h.7M630.6 393.2h.7M628.0 397.8h.7M637.8 403.4h.7M628.8 397.4h.7M635.5 393.5h.7M639.3 399.6h.7M637.9 396.6h.7M635.9 400.3h.7M630.9 386.5h.7M634.1 390.4h.7M636.8 390.0h.7M635.4 388.7h.7M640.0 397.2h.7M630.3 395.9h.7M634.3 382.2h.7M630.5 397.8h.7M631.3 393.9h.7M638.3 402.7h.7M634.5 398.3h.7M638.8 398.0h.7M629.4 397.1h.7M630.1 391.5h.7M634.1 395.6h.7M633.6 400.1h.7M633.2 397.2h.7M636.1 393.1h.7M633.1 394.2h.7M630.4 391.3h.7M635.3 396.5h.7M629.5 399.9h.7M636.2 401.1h.7M637.7 396.6h.7M635.7 394.9h.7M630.8 395.4h.7M635.3 397.4h.7M632.0 392.0h.7M632.0 393.6h.7M633.0 398.8h.7M633.5 383.8h.7M636.1 393.3h.7M637.0 394.7h.7M633.7 388.0h.7M638.3 393.3h.7M637.0 398.0h.7M639.7 397.0h.7M634.0 393.2h.7M628.9 398.4h.7M631.8 401.4h.7M637.6 397.5h.7M640.9 398.1h.7M636.5 391.9h.7M636.0 395.5h.7M638.4 395.6h.7M627.3 400.9h.7M637.4 389.3h.7M633.9 398.1h.7M636.4 390.8h.7M631.5 393.2h.7M632.5 392.7h.7M634.6 388.4h.7M635.2 390.6h.7M632.3 392.3h.7M636.4 396.8h.7M632.3 397.9h.7M630.9 397.2h.7M634.5 396.2h.7M630.1 397.9h.7M635.6 398.0h.7M632.5 401.5h.7M639.5 402.6h.7M631.7 386.4h.7M631.4 392.3h.7M632.1 395.2h.7M634.9 394.2h.7M630.9 394.2h.7M635.4 390.5h.7M629.6 393.4h.7M634.8 392.6h.7M633.0 392.4h.7M635.3 392.8h.7M631.3 392.4h.7M632.5 393.5h.7M626.9 390.2h.7M633.1 400.1h.7M630.9 389.7h.7M632.9 388.6h.7M628.2 396.1h.7M635.0 393.5h.7M635.2 398.7h.7M636.3 394.6h.7M635.5 392.8h.7M634.5 400.6h.7M639.1 398.2h.7M632.5 392.9h.7M630.5 400.2h.7M637.7 391.8h.7M632.6 395.0h.7M629.5 389.2h.7M635.5 392.2h.7M635.7 397.9h.7" stroke="#999" stroke-width=".7" fill="none" opacity="1"/>
<ellipse cx="634.5" cy="388.9" rx="4.4" ry="2.7" transform="rotate(-58 634.5 388.9)" fill="#000" filter="url(#b1)"/>
<ellipse cx="634.5" cy="388.9" rx="3.3" ry="1.9" transform="rotate(-58 634.5 388.9)" fill="#000" opacity="0.9"/>
<path d="M659.4 348.2h.7M659.6 350.8h.7M652.6 369.6h.7M649.9 343.0h.7M655.9 352.0h.7M644.6 369.7h.7M649.0 364.1h.7M652.1 346.9h.7M658.0 344.5h.7M652.7 382.0h.7M651.2 355.5h.7M645.7 372.5h.7M653.6 357.9h.7M645.2 351.1h.7M651.7 350.7h.7M647.0 379.0h.7M654.2 364.7h.7M646.3 369.4h.7M649.9 351.6h.7M653.3 354.0h.7M655.6 343.8h.7M652.9 342.6h.7" stroke="#a8a8a8" stroke-width=".7" fill="none" opacity="1"/>
<path d="M669.2 379.7h.7M661.4 399.0h.7M648.5 389.4h.7M649.2 393.8h.7M654.9 393.7h.7M656.5 392.8h.7M643.3 394.8h.7M645.7 383.1h.7M653.3 389.0h.7M629.5 396.0h.7M650.4 393.6h.7M640.0 388.9h.7M645.4 390.0h.7M659.3 383.9h.7M647.3 387.8h.7M653.1 379.4h.7M655.6 386.3h.7M661.6 398.8h.7M647.8 386.1h.7M646.8 385.5h.7M658.0 403.9h.7M640.3 384.8h.7M651.5 392.0h.7M653.8 381.6h.7M656.7 388.1h.7M655.3 388.9h.7M639.1 396.7h.7M648.6 386.4h.7M639.4 387.6h.7M660.1 398.9h.7M656.0 386.5h.7M651.6 392.1h.7M645.6 387.9h.7M652.1 383.9h.7M648.2 382.7h.7M645.2 386.9h.7" stroke="#a8a8a8" stroke-width=".7" fill="none" opacity="1"/>
<path d="M622.6 406.4h0.9M624.6 406.4h0.9M626.7 406.4h0.9M628.8 406.4h0.9M630.8 406.4h0.9M632.9 406.4h0.9M639.0 406.4h0.9M641.0 406.4h0.9M643.1 406.4h0.9M645.1 406.4h0.9M647.2 406.4h0.9M649.2 406.4h0.9M655.4 406.4h0.9M657.5 406.4h0.9M659.5 406.4h0.9M661.5 406.4h0.9M663.6 406.4h0.9M665.6 406.4h0.9M671.8 406.4h0.9M673.9 406.4h0.9M675.9 406.4h0.9M678.0 406.4h0.9M680.0 406.4h0.9" stroke="#999" stroke-width="0.8"/>
<path d="M616.3 347.6v0.9M616.3 349.6v0.9M616.3 351.7v0.9M616.3 353.8v0.9M616.3 355.8v0.9M616.3 357.9v0.9M616.3 364.0v0.9M616.3 366.1v0.9M616.3 368.1v0.9M616.3 370.1v0.9M616.3 372.2v0.9M616.3 374.2v0.9M616.3 380.4v0.9M616.3 382.4v0.9M616.3 384.5v0.9M616.3 386.6v0.9M616.3 388.6v0.9M616.3 390.6v0.9M616.3 396.8v0.9M616.3 398.9v0.9M616.3 400.9v0.9M616.3 402.9v0.9M616.3 405.0v0.9" stroke="#aaa" stroke-width="0.8"/>
<g font-family="Liberation Mono, monospace" font-weight="bold" fill="#3c3c3c" font-size="4.6">
<text x="638.1" y="347.8" text-anchor="middle">1</text>
<text x="679.5" y="347.8" text-anchor="middle">2</text>
<text x="638.1" y="379.8" text-anchor="middle">3</text>
<text x="679.5" y="379.8" text-anchor="middle">4</text>
<text x="642.9" y="371.3" text-anchor="middle">H</text>
<text x="618.7" y="410.7" text-anchor="middle">.1</text>
<text x="678.9" y="410.7" text-anchor="middle" textLength="8.5">1000</text>
<text x="649.9" y="414.0" text-anchor="middle" fill="#555" textLength="17.5">FITC LOG</text>
<text transform="translate(616.3,345.7) rotate(-90)" text-anchor="middle" textLength="8">1000</text>
<text transform="translate(616.3,374.5) rotate(-90)" text-anchor="middle" fill="#555" textLength="12.5">PI LOG</text>
<text transform="translate(616.3,401.5) rotate(-90)" text-anchor="middle">1</text>
</g>
</g>
<text transform="translate(154 470) scale(1 1.04)" font-size="15" text-anchor="start" stroke="#000" stroke-width="0.3" >E</text>
<text transform="translate(368.6 469.6) scale(1 1.04)" font-size="13" text-anchor="middle" stroke="#000" stroke-width="0.3" >Au-NPs (nm)</text>
<path d="M224.8 477.3H518" stroke="#000" stroke-width="1.6"/>
<text transform="translate(247.8 488.8) scale(1 1.04)" font-size="13" text-anchor="middle" stroke="#000" stroke-width="0.3" >0</text>
<text transform="translate(316 490.6) scale(1 1.04)" font-size="13" text-anchor="middle" stroke="#000" stroke-width="0.3" >2</text>
<text transform="translate(408.6 490.6) scale(1 1.04)" font-size="13" text-anchor="middle" stroke="#000" stroke-width="0.3" >40</text>
<text transform="translate(493 490.6) scale(1 1.04)" font-size="13" text-anchor="middle" stroke="#000" stroke-width="0.3" >100</text>
<text transform="translate(191.7 530.7) scale(1 1.04)" font-size="13" text-anchor="middle" stroke="#000" stroke-width="0.3" >(-)</text>
<text transform="translate(156.2 606.3) scale(1 1.04)" font-size="13" text-anchor="start" stroke="#000" stroke-width="0.3" >He-CAP</text>
<text transform="translate(156.4 621.8) scale(1 1.04)" font-size="13" text-anchor="start" stroke="#000" stroke-width="0.3" >(2 min)</text>
<clipPath id="ce1"><rect x="205.9" y="493.2" width="79.3" height="74.6"/></clipPath>
<g clip-path="url(#ce1)"><rect x="203.9" y="491.2" width="83.3" height="78.6" fill="#f0f0f0"/>
<g transform="translate(205.9,493.2)">
<ellipse cx="49.4" cy="55.3" rx="14.4" ry="11.7" fill="#f6f6f6" opacity="0.55" filter="url(#b3)"/>
<ellipse cx="58.7" cy="68.8" rx="8.2" ry="8.8" fill="#f6f6f6" opacity="0.55" filter="url(#b3)"/>
<ellipse cx="74.8" cy="48.4" rx="15.2" ry="6.7" fill="#f6f6f6" opacity="0.55" filter="url(#b3)"/>
<ellipse cx="37.2" cy="18.4" rx="12.4" ry="9.4" fill="#f6f6f6" opacity="0.55" filter="url(#b3)"/>
<ellipse cx="1.0" cy="16.2" rx="10.2" ry="11.5" fill="#f6f6f6" opacity="0.55" filter="url(#b3)"/>
<g filter="url(#cellf)">
<ellipse cx="4.3" cy="5" rx="5.8" ry="5.8" fill="#848484" transform="rotate(13 4.3 5)"/>
<ellipse cx="4.3" cy="5" rx="4.7" ry="4.7" fill="#a1a1a1" transform="rotate(13 4.3 5)"/>
<ellipse cx="6.2" cy="8.0" rx="1.4" ry="1.7" fill="#828282" opacity="0.7"/>
<ellipse cx="4.7" cy="5.4" rx="2.8" ry="1.3" fill="#828282" opacity="0.7"/>
<ellipse cx="5.2" cy="9.2" rx="2.8" ry="1.3" fill="#828282" opacity="0.7"/>
<ellipse cx="6.8" cy="4.4" rx="2.4" ry="1.2" fill="#828282" opacity="0.7"/>
<ellipse cx="7.3" cy="3.8" rx="2.9" ry="2.1" fill="#828282" opacity="0.7"/>
<ellipse cx="3.6" cy="7.1" rx="1.2" ry="0.9" fill="#c2c2c2" opacity="0.55"/>
<ellipse cx="6.2" cy="5.8" rx="1.7" ry="0.8" fill="#c2c2c2" opacity="0.55"/>
<ellipse cx="3.4" cy="3.1" rx="1.4" ry="1.6" fill="#c2c2c2" opacity="0.55"/>
<ellipse cx="3.8" cy="5.1" rx="2.0" ry="1.5" fill="#484848"/>
<circle cx="7.6" cy="2.2" r="1.1" fill="#525252"/>
<ellipse cx="27.9" cy="12.4" rx="12.2" ry="8.0" fill="#767676" transform="rotate(17 27.9 12.4)"/>
<ellipse cx="27.9" cy="12.4" rx="11.1" ry="6.9" fill="#939393" transform="rotate(17 27.9 12.4)"/>
<ellipse cx="35.3" cy="13.0" rx="1.9" ry="1.7" fill="#747474" opacity="0.7"/>
<ellipse cx="29.5" cy="12.5" rx="1.5" ry="2.1" fill="#747474" opacity="0.7"/>
<ellipse cx="30.3" cy="16.9" rx="2.9" ry="2.1" fill="#747474" opacity="0.7"/>
<ellipse cx="25.6" cy="14.6" rx="2.1" ry="1.9" fill="#747474" opacity="0.7"/>
<ellipse cx="33.5" cy="15.3" rx="2.6" ry="2.0" fill="#747474" opacity="0.7"/>
<ellipse cx="35.9" cy="13.6" rx="1.1" ry="1.1" fill="#b4b4b4" opacity="0.55"/>
<ellipse cx="21.7" cy="9.0" rx="1.4" ry="1.7" fill="#b4b4b4" opacity="0.55"/>
<ellipse cx="23.7" cy="11.6" rx="1.4" ry="1.0" fill="#b4b4b4" opacity="0.55"/>
<ellipse cx="28.4" cy="12.6" rx="2.2" ry="1.7" fill="#3a3a3a"/>
<circle cx="24.8" cy="15.5" r="1.0" fill="#444444"/>
<ellipse cx="47.7" cy="4.3" rx="11.7" ry="4.8" fill="#444444" transform="rotate(-5 47.7 4.3)"/>
<ellipse cx="47.7" cy="4.3" rx="10.6" ry="3.7" fill="#616161" transform="rotate(-5 47.7 4.3)"/>
<ellipse cx="48.2" cy="6.6" rx="2.7" ry="1.5" fill="#424242" opacity="0.7"/>
<ellipse cx="46.3" cy="4.6" rx="2.8" ry="1.0" fill="#424242" opacity="0.7"/>
<ellipse cx="40.2" cy="4.4" rx="1.4" ry="1.9" fill="#424242" opacity="0.7"/>
<ellipse cx="53.4" cy="3.5" rx="2.6" ry="1.1" fill="#424242" opacity="0.7"/>
<ellipse cx="45.6" cy="4.7" rx="2.7" ry="1.4" fill="#424242" opacity="0.7"/>
<ellipse cx="39.9" cy="5.3" rx="2.0" ry="1.8" fill="#828282" opacity="0.55"/>
<ellipse cx="42.7" cy="4.9" rx="1.9" ry="1.3" fill="#828282" opacity="0.55"/>
<ellipse cx="46.5" cy="6.2" rx="1.2" ry="1.2" fill="#828282" opacity="0.55"/>
<ellipse cx="51.1" cy="4.2" rx="2.2" ry="1.4" fill="#080808"/>
<circle cx="47.8" cy="2.8" r="1.1" fill="#121212"/>
<ellipse cx="51.4" cy="14.9" rx="9.0" ry="7.4" fill="#646464" transform="rotate(18 51.4 14.9)"/>
<ellipse cx="51.4" cy="14.9" rx="7.9" ry="6.3" fill="#818181" transform="rotate(18 51.4 14.9)"/>
<ellipse cx="47.9" cy="18.4" rx="2.6" ry="1.8" fill="#626262" opacity="0.7"/>
<ellipse cx="48.6" cy="11.1" rx="1.9" ry="1.8" fill="#626262" opacity="0.7"/>
<ellipse cx="50.7" cy="17.9" rx="2.6" ry="1.8" fill="#626262" opacity="0.7"/>
<ellipse cx="49.7" cy="20.0" rx="2.4" ry="1.7" fill="#626262" opacity="0.7"/>
<ellipse cx="55.5" cy="15.1" rx="1.7" ry="1.8" fill="#626262" opacity="0.7"/>
<ellipse cx="46.1" cy="15.9" rx="1.8" ry="1.6" fill="#a2a2a2" opacity="0.55"/>
<ellipse cx="48.7" cy="18.1" rx="1.9" ry="1.6" fill="#a2a2a2" opacity="0.55"/>
<ellipse cx="48.1" cy="18.6" rx="2.0" ry="1.5" fill="#a2a2a2" opacity="0.55"/>
<ellipse cx="54.0" cy="14.6" rx="2.1" ry="1.4" fill="#282828"/>
<circle cx="56.6" cy="17.2" r="0.9" fill="#323232"/>
<ellipse cx="68.8" cy="3.1" rx="9.5" ry="3.2" fill="#aaaaaa" transform="rotate(10 68.8 3.1)"/>
<circle cx="68.1" cy="1.8" r="1.0" fill="#7d7d7d" opacity="0.6"/>
<circle cx="69.4" cy="2.1" r="1.5" fill="#7d7d7d" opacity="0.6"/>
<circle cx="65.9" cy="3.6" r="1.6" fill="#7d7d7d" opacity="0.6"/>
<ellipse cx="73.7" cy="12.4" rx="5.8" ry="5.3" fill="#b4b4b4" transform="rotate(7 73.7 12.4)"/>
<circle cx="73.7" cy="12.3" r="1.0" fill="#878787" opacity="0.6"/>
<circle cx="71.8" cy="13.1" r="1.0" fill="#878787" opacity="0.6"/>
<circle cx="72.9" cy="10.7" r="0.8" fill="#878787" opacity="0.6"/>
<ellipse cx="8" cy="25.4" rx="9.5" ry="8.5" fill="#414141" transform="rotate(-1 8 25.4)"/>
<ellipse cx="8" cy="25.4" rx="8.4" ry="7.4" fill="#5e5e5e" transform="rotate(-1 8 25.4)"/>
<ellipse cx="8.2" cy="26.5" rx="1.4" ry="1.4" fill="#3f3f3f" opacity="0.7"/>
<ellipse cx="8.9" cy="27.1" rx="1.3" ry="1.6" fill="#3f3f3f" opacity="0.7"/>
<ellipse cx="4.6" cy="28.3" rx="2.3" ry="1.3" fill="#3f3f3f" opacity="0.7"/>
<ellipse cx="8.8" cy="24.9" rx="1.9" ry="1.3" fill="#3f3f3f" opacity="0.7"/>
<ellipse cx="6.6" cy="26.2" rx="2.7" ry="1.4" fill="#3f3f3f" opacity="0.7"/>
<ellipse cx="12.7" cy="26.4" rx="1.1" ry="1.3" fill="#7f7f7f" opacity="0.55"/>
<ellipse cx="5.5" cy="28.9" rx="2.1" ry="1.6" fill="#7f7f7f" opacity="0.55"/>
<ellipse cx="3.0" cy="27.9" rx="1.8" ry="1.2" fill="#7f7f7f" opacity="0.55"/>
<ellipse cx="9.1" cy="26.6" rx="2.1" ry="1.7" fill="#050505"/>
<ellipse cx="24.2" cy="31.6" rx="10.6" ry="9.5" fill="#6c6c6c" transform="rotate(5 24.2 31.6)"/>
<ellipse cx="24.2" cy="31.6" rx="9.5" ry="8.4" fill="#898989" transform="rotate(5 24.2 31.6)"/>
<ellipse cx="19.9" cy="36.8" rx="1.2" ry="1.1" fill="#6a6a6a" opacity="0.7"/>
<ellipse cx="19.3" cy="29.7" rx="1.5" ry="1.8" fill="#6a6a6a" opacity="0.7"/>
<ellipse cx="27.0" cy="29.5" rx="2.0" ry="1.3" fill="#6a6a6a" opacity="0.7"/>
<ellipse cx="22.2" cy="38.3" rx="1.9" ry="2.2" fill="#6a6a6a" opacity="0.7"/>
<ellipse cx="28.6" cy="29.2" rx="1.7" ry="2.2" fill="#6a6a6a" opacity="0.7"/>
<ellipse cx="19.9" cy="31.7" rx="1.4" ry="1.8" fill="#aaaaaa" opacity="0.55"/>
<ellipse cx="20.6" cy="31.8" rx="1.6" ry="0.9" fill="#aaaaaa" opacity="0.55"/>
<ellipse cx="21.0" cy="28.8" rx="1.4" ry="1.6" fill="#aaaaaa" opacity="0.55"/>
<ellipse cx="24.2" cy="31.6" rx="2.1" ry="1.3" fill="#303030"/>
<ellipse cx="45.2" cy="29.1" rx="12.2" ry="9.0" fill="#717171" transform="rotate(14 45.2 29.1)"/>
<ellipse cx="45.2" cy="29.1" rx="11.1" ry="7.9" fill="#8e8e8e" transform="rotate(14 45.2 29.1)"/>
<ellipse cx="45.3" cy="31.6" rx="1.5" ry="2.2" fill="#6f6f6f" opacity="0.7"/>
<ellipse cx="43.6" cy="33.4" rx="2.1" ry="1.8" fill="#6f6f6f" opacity="0.7"/>
<ellipse cx="39.5" cy="25.9" rx="1.4" ry="1.9" fill="#6f6f6f" opacity="0.7"/>
<ellipse cx="43.5" cy="32.9" rx="1.8" ry="1.4" fill="#6f6f6f" opacity="0.7"/>
<ellipse cx="40.4" cy="28.4" rx="1.8" ry="1.9" fill="#6f6f6f" opacity="0.7"/>
<ellipse cx="43.0" cy="28.0" rx="1.3" ry="1.3" fill="#afafaf" opacity="0.55"/>
<ellipse cx="52.0" cy="26.2" rx="1.7" ry="0.8" fill="#afafaf" opacity="0.55"/>
<ellipse cx="46.1" cy="25.4" rx="1.7" ry="1.5" fill="#afafaf" opacity="0.55"/>
<ellipse cx="44.0" cy="28.1" rx="2.4" ry="1.3" fill="#353535"/>
<circle cx="46.8" cy="26.3" r="0.8" fill="#3f3f3f"/>
<ellipse cx="15.5" cy="45.2" rx="11.7" ry="6.9" fill="#767676" transform="rotate(17 15.5 45.2)"/>
<ellipse cx="15.5" cy="45.2" rx="10.6" ry="5.8" fill="#939393" transform="rotate(17 15.5 45.2)"/>
<ellipse cx="22.4" cy="47.0" rx="2.5" ry="1.5" fill="#747474" opacity="0.7"/>
<ellipse cx="13.9" cy="49.3" rx="2.8" ry="1.2" fill="#747474" opacity="0.7"/>
<ellipse cx="10.2" cy="45.6" rx="2.1" ry="1.4" fill="#747474" opacity="0.7"/>
<ellipse cx="18.7" cy="47.9" rx="2.7" ry="1.1" fill="#747474" opacity="0.7"/>
<ellipse cx="16.4" cy="49.5" rx="2.6" ry="1.8" fill="#747474" opacity="0.7"/>
<ellipse cx="22.0" cy="45.8" rx="2.2" ry="1.8" fill="#b4b4b4" opacity="0.55"/>
<ellipse cx="14.7" cy="43.7" rx="2.0" ry="1.0" fill="#b4b4b4" opacity="0.55"/>
<ellipse cx="10.7" cy="41.5" rx="1.9" ry="0.9" fill="#b4b4b4" opacity="0.55"/>
<ellipse cx="14.7" cy="47.0" rx="1.7" ry="1.5" fill="#3a3a3a"/>
<circle cx="11.9" cy="47.8" r="0.7" fill="#444444"/>
<ellipse cx="40.9" cy="44.6" rx="10.6" ry="8.0" fill="#6c6c6c" transform="rotate(-20 40.9 44.6)"/>
<ellipse cx="40.9" cy="44.6" rx="9.5" ry="6.9" fill="#898989" transform="rotate(-20 40.9 44.6)"/>
<ellipse cx="39.8" cy="45.4" rx="1.3" ry="1.7" fill="#6a6a6a" opacity="0.7"/>
<ellipse cx="40.5" cy="39.2" rx="1.4" ry="1.5" fill="#6a6a6a" opacity="0.7"/>
<ellipse cx="38.9" cy="48.2" rx="2.1" ry="2.1" fill="#6a6a6a" opacity="0.7"/>
<ellipse cx="39.9" cy="45.4" rx="2.5" ry="1.2" fill="#6a6a6a" opacity="0.7"/>
<ellipse cx="37.8" cy="42.1" rx="2.8" ry="1.7" fill="#6a6a6a" opacity="0.7"/>
<ellipse cx="38.3" cy="42.8" rx="1.7" ry="1.1" fill="#aaaaaa" opacity="0.55"/>
<ellipse cx="40.9" cy="40.9" rx="1.2" ry="1.0" fill="#aaaaaa" opacity="0.55"/>
<ellipse cx="36.7" cy="47.9" rx="1.2" ry="1.5" fill="#aaaaaa" opacity="0.55"/>
<ellipse cx="40.7" cy="44.4" rx="2.2" ry="1.2" fill="#303030"/>
<circle cx="41.5" cy="42.9" r="1.1" fill="#3a3a3a"/>
<ellipse cx="63.8" cy="45.2" rx="12.7" ry="8.5" fill="#717171" transform="rotate(-1 63.8 45.2)"/>
<ellipse cx="63.8" cy="45.2" rx="11.6" ry="7.4" fill="#8e8e8e" transform="rotate(-1 63.8 45.2)"/>
<ellipse cx="60.3" cy="49.9" rx="1.3" ry="1.9" fill="#6f6f6f" opacity="0.7"/>
<ellipse cx="66.2" cy="45.8" rx="2.9" ry="1.8" fill="#6f6f6f" opacity="0.7"/>
<ellipse cx="64.2" cy="46.7" rx="3.0" ry="1.8" fill="#6f6f6f" opacity="0.7"/>
<ellipse cx="64.8" cy="43.7" rx="2.3" ry="1.4" fill="#6f6f6f" opacity="0.7"/>
<ellipse cx="64.2" cy="47.9" rx="2.3" ry="1.4" fill="#6f6f6f" opacity="0.7"/>
<ellipse cx="61.2" cy="46.7" rx="2.0" ry="1.4" fill="#afafaf" opacity="0.55"/>
<ellipse cx="65.6" cy="41.9" rx="2.0" ry="1.3" fill="#afafaf" opacity="0.55"/>
<ellipse cx="58.6" cy="42.9" rx="1.9" ry="1.2" fill="#afafaf" opacity="0.55"/>
<ellipse cx="63.9" cy="45.2" rx="1.8" ry="1.1" fill="#353535"/>
<ellipse cx="77.8" cy="44" rx="2.7" ry="6.4" fill="#303030" transform="rotate(-1 77.8 44)"/>
<ellipse cx="77.8" cy="44" rx="1.6" ry="5.3" fill="#4d4d4d" transform="rotate(-1 77.8 44)"/>
<ellipse cx="17.3" cy="58.9" rx="12.2" ry="8.5" fill="#646464" transform="rotate(13 17.3 58.9)"/>
<ellipse cx="17.3" cy="58.9" rx="11.1" ry="7.4" fill="#818181" transform="rotate(13 17.3 58.9)"/>
<ellipse cx="22.2" cy="58.9" rx="2.8" ry="1.7" fill="#626262" opacity="0.7"/>
<ellipse cx="12.9" cy="60.4" rx="1.4" ry="1.2" fill="#626262" opacity="0.7"/>
<ellipse cx="19.6" cy="61.4" rx="1.9" ry="2.1" fill="#626262" opacity="0.7"/>
<ellipse cx="19.2" cy="60.7" rx="1.7" ry="1.2" fill="#626262" opacity="0.7"/>
<ellipse cx="16.6" cy="61.0" rx="2.1" ry="1.0" fill="#626262" opacity="0.7"/>
<ellipse cx="21.5" cy="57.4" rx="2.1" ry="1.5" fill="#a2a2a2" opacity="0.55"/>
<ellipse cx="14.8" cy="55.6" rx="2.1" ry="0.9" fill="#a2a2a2" opacity="0.55"/>
<ellipse cx="15.2" cy="56.3" rx="1.8" ry="1.5" fill="#a2a2a2" opacity="0.55"/>
<ellipse cx="17.7" cy="59.3" rx="1.6" ry="1.2" fill="#282828"/>
<circle cx="16.9" cy="62.2" r="0.9" fill="#323232"/>
<ellipse cx="45.2" cy="58.9" rx="10.6" ry="8.0" fill="#606060" transform="rotate(-9 45.2 58.9)"/>
<ellipse cx="45.2" cy="58.9" rx="9.5" ry="6.9" fill="#7d7d7d" transform="rotate(-9 45.2 58.9)"/>
<ellipse cx="42.3" cy="59.4" rx="2.5" ry="1.9" fill="#5e5e5e" opacity="0.7"/>
<ellipse cx="46.6" cy="60.7" rx="2.4" ry="2.1" fill="#5e5e5e" opacity="0.7"/>
<ellipse cx="42.7" cy="56.5" rx="3.0" ry="1.0" fill="#5e5e5e" opacity="0.7"/>
<ellipse cx="51.2" cy="60.7" rx="1.9" ry="1.1" fill="#5e5e5e" opacity="0.7"/>
<ellipse cx="37.7" cy="57.1" rx="2.1" ry="1.4" fill="#5e5e5e" opacity="0.7"/>
<ellipse cx="47.3" cy="59.9" rx="2.1" ry="1.3" fill="#9e9e9e" opacity="0.55"/>
<ellipse cx="47.4" cy="58.2" rx="1.3" ry="0.9" fill="#9e9e9e" opacity="0.55"/>
<ellipse cx="43.3" cy="60.0" rx="1.3" ry="1.2" fill="#9e9e9e" opacity="0.55"/>
<ellipse cx="45.1" cy="59.0" rx="1.6" ry="1.7" fill="#242424"/>
<circle cx="45.2" cy="58.4" r="1.0" fill="#2e2e2e"/>
<ellipse cx="34" cy="70" rx="9.5" ry="5.8" fill="#727272" transform="rotate(-21 34 70)"/>
<ellipse cx="34" cy="70" rx="8.4" ry="4.7" fill="#8f8f8f" transform="rotate(-21 34 70)"/>
<ellipse cx="33.4" cy="70.9" rx="2.2" ry="2.1" fill="#707070" opacity="0.7"/>
<ellipse cx="28.9" cy="67.8" rx="1.6" ry="1.0" fill="#707070" opacity="0.7"/>
<ellipse cx="30.2" cy="69.4" rx="2.2" ry="1.5" fill="#707070" opacity="0.7"/>
<ellipse cx="30.2" cy="67.7" rx="2.8" ry="1.4" fill="#707070" opacity="0.7"/>
<ellipse cx="28.3" cy="71.2" rx="1.6" ry="1.1" fill="#707070" opacity="0.7"/>
<ellipse cx="33.1" cy="71.3" rx="1.9" ry="1.6" fill="#b0b0b0" opacity="0.55"/>
<ellipse cx="33.0" cy="71.4" rx="1.1" ry="1.0" fill="#b0b0b0" opacity="0.55"/>
<ellipse cx="37.4" cy="71.2" rx="1.7" ry="1.0" fill="#b0b0b0" opacity="0.55"/>
<ellipse cx="35.8" cy="70.5" rx="1.6" ry="1.2" fill="#363636"/>
<circle cx="34.8" cy="68.0" r="0.9" fill="#404040"/>
<ellipse cx="52" cy="70" rx="9.0" ry="5.8" fill="#525252" transform="rotate(-9 52 70)"/>
<ellipse cx="52" cy="70" rx="7.9" ry="4.7" fill="#6f6f6f" transform="rotate(-9 52 70)"/>
<ellipse cx="52.1" cy="67.3" rx="2.8" ry="1.8" fill="#505050" opacity="0.7"/>
<ellipse cx="52.2" cy="67.3" rx="2.0" ry="2.0" fill="#505050" opacity="0.7"/>
<ellipse cx="48.4" cy="66.5" rx="2.5" ry="1.8" fill="#505050" opacity="0.7"/>
<ellipse cx="51.4" cy="73.6" rx="1.9" ry="1.2" fill="#505050" opacity="0.7"/>
<ellipse cx="53.7" cy="70.5" rx="1.7" ry="1.8" fill="#505050" opacity="0.7"/>
<ellipse cx="51.5" cy="71.3" rx="1.9" ry="1.4" fill="#909090" opacity="0.55"/>
<ellipse cx="54.0" cy="70.2" rx="1.2" ry="1.2" fill="#909090" opacity="0.55"/>
<ellipse cx="55.9" cy="67.0" rx="1.7" ry="1.0" fill="#909090" opacity="0.55"/>
<ellipse cx="51.1" cy="70.3" rx="1.9" ry="1.1" fill="#161616"/>
<circle cx="53.7" cy="71.6" r="0.7" fill="#202020"/>
<ellipse cx="74.3" cy="68.8" rx="6.4" ry="7.4" fill="#aaaaaa" transform="rotate(2 74.3 68.8)"/>
<circle cx="75.5" cy="71.3" r="1.2" fill="#7d7d7d" opacity="0.6"/>
<circle cx="76.9" cy="67.6" r="0.9" fill="#7d7d7d" opacity="0.6"/>
<circle cx="73.0" cy="72.2" r="1.3" fill="#7d7d7d" opacity="0.6"/>
<ellipse cx="1.9" cy="37.8" rx="3.2" ry="5.8" fill="#aaaaaa" transform="rotate(-3 1.9 37.8)"/>
<circle cx="0.6" cy="38.7" r="1.7" fill="#7d7d7d" opacity="0.6"/>
<circle cx="0.2" cy="37.2" r="1.4" fill="#7d7d7d" opacity="0.6"/>
<circle cx="3.0" cy="39.4" r="1.2" fill="#7d7d7d" opacity="0.6"/>
<ellipse cx="1.2" cy="55" rx="2.1" ry="3.2" fill="#414141" transform="rotate(-22 1.2 55)"/>
<ellipse cx="1.2" cy="55" rx="1.0" ry="2.1" fill="#5e5e5e" transform="rotate(-22 1.2 55)"/>
</g>
</g></g>
<clipPath id="ce2"><rect x="288.9" y="493.2" width="79.0" height="74.6"/></clipPath>
<g clip-path="url(#ce2)"><rect x="286.9" y="491.2" width="83.0" height="78.6" fill="#f0f0f0"/>
<g transform="translate(288.9,493.2)">
<ellipse cx="77.3" cy="2.5" rx="12.6" ry="8.9" fill="#f6f6f6" opacity="0.55" filter="url(#b3)"/>
<ellipse cx="69.7" cy="29.3" rx="9.7" ry="7.7" fill="#f6f6f6" opacity="0.55" filter="url(#b3)"/>
<ellipse cx="15.9" cy="42.0" rx="10.9" ry="10.5" fill="#f6f6f6" opacity="0.55" filter="url(#b3)"/>
<ellipse cx="19.1" cy="26.2" rx="10.0" ry="11.9" fill="#f6f6f6" opacity="0.55" filter="url(#b3)"/>
<ellipse cx="66.4" cy="63.4" rx="12.9" ry="8.4" fill="#f6f6f6" opacity="0.55" filter="url(#b3)"/>
<g filter="url(#cellf)">
<ellipse cx="53.9" cy="6.8" rx="9.5" ry="6.9" fill="#636363" transform="rotate(-18 53.9 6.8)"/>
<ellipse cx="53.9" cy="6.8" rx="8.4" ry="5.8" fill="#808080" transform="rotate(-18 53.9 6.8)"/>
<ellipse cx="55.8" cy="4.3" rx="1.3" ry="1.2" fill="#616161" opacity="0.7"/>
<ellipse cx="58.3" cy="9.1" rx="2.8" ry="1.2" fill="#616161" opacity="0.7"/>
<ellipse cx="54.8" cy="4.7" rx="2.4" ry="2.0" fill="#616161" opacity="0.7"/>
<ellipse cx="49.7" cy="3.8" rx="1.9" ry="1.0" fill="#616161" opacity="0.7"/>
<ellipse cx="49.3" cy="6.6" rx="1.5" ry="1.5" fill="#616161" opacity="0.7"/>
<ellipse cx="53.1" cy="8.1" rx="1.4" ry="1.2" fill="#a1a1a1" opacity="0.55"/>
<ellipse cx="48.7" cy="7.4" rx="1.5" ry="1.8" fill="#a1a1a1" opacity="0.55"/>
<ellipse cx="56.4" cy="2.6" rx="1.8" ry="1.5" fill="#a1a1a1" opacity="0.55"/>
<ellipse cx="51.7" cy="6.4" rx="1.9" ry="1.5" fill="#272727"/>
<ellipse cx="1.9" cy="19.2" rx="2.7" ry="6.4" fill="#5c5c5c" transform="rotate(1 1.9 19.2)"/>
<ellipse cx="1.9" cy="19.2" rx="1.6" ry="5.3" fill="#797979" transform="rotate(1 1.9 19.2)"/>
<ellipse cx="9.9" cy="27.9" rx="11.7" ry="11.1" fill="#767676" transform="rotate(-11 9.9 27.9)"/>
<ellipse cx="9.9" cy="27.9" rx="10.6" ry="10.0" fill="#939393" transform="rotate(-11 9.9 27.9)"/>
<ellipse cx="11.5" cy="28.7" rx="1.8" ry="1.7" fill="#747474" opacity="0.7"/>
<ellipse cx="10.3" cy="21.6" rx="1.8" ry="2.1" fill="#747474" opacity="0.7"/>
<ellipse cx="8.9" cy="34.1" rx="1.3" ry="1.9" fill="#747474" opacity="0.7"/>
<ellipse cx="5.8" cy="20.9" rx="2.8" ry="1.8" fill="#747474" opacity="0.7"/>
<ellipse cx="13.5" cy="22.4" rx="2.3" ry="1.3" fill="#747474" opacity="0.7"/>
<ellipse cx="2.4" cy="27.2" rx="1.3" ry="1.8" fill="#b4b4b4" opacity="0.55"/>
<ellipse cx="5.4" cy="26.7" rx="1.0" ry="1.2" fill="#b4b4b4" opacity="0.55"/>
<ellipse cx="12.6" cy="33.2" rx="2.1" ry="1.7" fill="#b4b4b4" opacity="0.55"/>
<ellipse cx="8.9" cy="27.1" rx="1.7" ry="1.5" fill="#3a3a3a"/>
<circle cx="10.6" cy="26.3" r="1.1" fill="#444444"/>
<ellipse cx="31" cy="25.4" rx="11.1" ry="9.5" fill="#7c7c7c" transform="rotate(-14 31 25.4)"/>
<ellipse cx="31" cy="25.4" rx="10.0" ry="8.4" fill="#999999" transform="rotate(-14 31 25.4)"/>
<ellipse cx="30.0" cy="27.8" rx="2.3" ry="2.1" fill="#7a7a7a" opacity="0.7"/>
<ellipse cx="33.8" cy="29.6" rx="2.6" ry="1.3" fill="#7a7a7a" opacity="0.7"/>
<ellipse cx="35.8" cy="27.1" rx="2.7" ry="2.1" fill="#7a7a7a" opacity="0.7"/>
<ellipse cx="30.4" cy="21.9" rx="2.0" ry="1.6" fill="#7a7a7a" opacity="0.7"/>
<ellipse cx="33.7" cy="23.8" rx="1.7" ry="1.7" fill="#7a7a7a" opacity="0.7"/>
<ellipse cx="34.2" cy="24.8" rx="1.0" ry="0.9" fill="#bababa" opacity="0.55"/>
<ellipse cx="25.9" cy="23.6" rx="1.2" ry="1.0" fill="#bababa" opacity="0.55"/>
<ellipse cx="26.2" cy="22.6" rx="1.8" ry="1.5" fill="#bababa" opacity="0.55"/>
<ellipse cx="32.5" cy="25.9" rx="2.4" ry="1.7" fill="#404040"/>
<circle cx="35.3" cy="26.8" r="1.2" fill="#4a4a4a"/>
<ellipse cx="45.8" cy="29.7" rx="7.4" ry="9.0" fill="#525252" transform="rotate(-14 45.8 29.7)"/>
<ellipse cx="45.8" cy="29.7" rx="6.3" ry="7.9" fill="#6f6f6f" transform="rotate(-14 45.8 29.7)"/>
<ellipse cx="44.2" cy="24.2" rx="2.1" ry="1.1" fill="#505050" opacity="0.7"/>
<ellipse cx="46.3" cy="31.4" rx="1.4" ry="1.2" fill="#505050" opacity="0.7"/>
<ellipse cx="44.9" cy="28.7" rx="2.6" ry="1.9" fill="#505050" opacity="0.7"/>
<ellipse cx="47.7" cy="24.6" rx="2.5" ry="2.1" fill="#505050" opacity="0.7"/>
<ellipse cx="49.4" cy="28.5" rx="2.9" ry="1.1" fill="#505050" opacity="0.7"/>
<ellipse cx="47.2" cy="31.0" rx="1.2" ry="1.2" fill="#909090" opacity="0.55"/>
<ellipse cx="41.9" cy="31.0" rx="1.9" ry="0.9" fill="#909090" opacity="0.55"/>
<ellipse cx="42.9" cy="32.1" rx="1.5" ry="0.9" fill="#909090" opacity="0.55"/>
<ellipse cx="45.1" cy="29.1" rx="2.2" ry="1.4" fill="#161616"/>
<ellipse cx="60.1" cy="24.2" rx="10.1" ry="10.1" fill="#787878" transform="rotate(22 60.1 24.2)"/>
<ellipse cx="60.1" cy="24.2" rx="9.0" ry="9.0" fill="#959595" transform="rotate(22 60.1 24.2)"/>
<ellipse cx="65.5" cy="26.8" rx="2.5" ry="1.4" fill="#767676" opacity="0.7"/>
<ellipse cx="63.2" cy="27.0" rx="1.8" ry="1.9" fill="#767676" opacity="0.7"/>
<ellipse cx="63.2" cy="22.5" rx="1.7" ry="1.6" fill="#767676" opacity="0.7"/>
<ellipse cx="58.1" cy="18.4" rx="2.2" ry="1.4" fill="#767676" opacity="0.7"/>
<ellipse cx="56.7" cy="29.8" rx="2.1" ry="1.1" fill="#767676" opacity="0.7"/>
<ellipse cx="57.3" cy="25.7" rx="1.8" ry="0.9" fill="#b6b6b6" opacity="0.55"/>
<ellipse cx="59.8" cy="26.7" rx="1.6" ry="1.8" fill="#b6b6b6" opacity="0.55"/>
<ellipse cx="56.3" cy="23.2" rx="2.1" ry="0.9" fill="#b6b6b6" opacity="0.55"/>
<ellipse cx="58.6" cy="26.1" rx="1.6" ry="1.6" fill="#3c3c3c"/>
<circle cx="54.7" cy="24.6" r="0.9" fill="#464646"/>
<ellipse cx="55.1" cy="43.4" rx="10.1" ry="9.0" fill="#767676" transform="rotate(-6 55.1 43.4)"/>
<ellipse cx="55.1" cy="43.4" rx="9.0" ry="7.9" fill="#939393" transform="rotate(-6 55.1 43.4)"/>
<ellipse cx="53.7" cy="43.3" rx="1.6" ry="2.2" fill="#747474" opacity="0.7"/>
<ellipse cx="51.3" cy="44.7" rx="1.4" ry="1.3" fill="#747474" opacity="0.7"/>
<ellipse cx="60.4" cy="42.0" rx="2.1" ry="1.1" fill="#747474" opacity="0.7"/>
<ellipse cx="50.3" cy="46.8" rx="2.0" ry="1.7" fill="#747474" opacity="0.7"/>
<ellipse cx="59.4" cy="40.7" rx="2.3" ry="1.0" fill="#747474" opacity="0.7"/>
<ellipse cx="60.9" cy="44.2" rx="1.5" ry="1.7" fill="#b4b4b4" opacity="0.55"/>
<ellipse cx="58.1" cy="38.1" rx="1.5" ry="1.8" fill="#b4b4b4" opacity="0.55"/>
<ellipse cx="55.3" cy="37.6" rx="1.2" ry="1.6" fill="#b4b4b4" opacity="0.55"/>
<ellipse cx="52.5" cy="44.6" rx="2.5" ry="1.2" fill="#3a3a3a"/>
<circle cx="50.7" cy="44.5" r="0.8" fill="#444444"/>
<ellipse cx="16.7" cy="48.3" rx="8.0" ry="8.0" fill="#7c7c7c" transform="rotate(8 16.7 48.3)"/>
<ellipse cx="16.7" cy="48.3" rx="6.9" ry="6.9" fill="#999999" transform="rotate(8 16.7 48.3)"/>
<ellipse cx="17.9" cy="49.5" rx="2.0" ry="1.1" fill="#7a7a7a" opacity="0.7"/>
<ellipse cx="12.7" cy="52.0" rx="2.8" ry="1.2" fill="#7a7a7a" opacity="0.7"/>
<ellipse cx="21.8" cy="48.9" rx="2.9" ry="1.7" fill="#7a7a7a" opacity="0.7"/>
<ellipse cx="18.0" cy="49.8" rx="2.9" ry="2.1" fill="#7a7a7a" opacity="0.7"/>
<ellipse cx="18.4" cy="48.6" rx="2.0" ry="1.3" fill="#7a7a7a" opacity="0.7"/>
<ellipse cx="16.8" cy="45.2" rx="1.9" ry="1.0" fill="#bababa" opacity="0.55"/>
<ellipse cx="11.2" cy="47.7" rx="1.8" ry="0.9" fill="#bababa" opacity="0.55"/>
<ellipse cx="19.9" cy="51.0" rx="1.4" ry="1.2" fill="#bababa" opacity="0.55"/>
<ellipse cx="15.3" cy="48.5" rx="2.5" ry="1.2" fill="#404040"/>
<circle cx="13.4" cy="48.8" r="1.1" fill="#4a4a4a"/>
<ellipse cx="39" cy="47.7" rx="8.5" ry="8.5" fill="#7c7c7c" transform="rotate(-18 39 47.7)"/>
<ellipse cx="39" cy="47.7" rx="7.4" ry="7.4" fill="#999999" transform="rotate(-18 39 47.7)"/>
<ellipse cx="34.3" cy="48.3" rx="1.2" ry="1.9" fill="#7a7a7a" opacity="0.7"/>
<ellipse cx="35.8" cy="49.5" rx="2.3" ry="2.0" fill="#7a7a7a" opacity="0.7"/>
<ellipse cx="42.4" cy="48.9" rx="1.3" ry="1.5" fill="#7a7a7a" opacity="0.7"/>
<ellipse cx="38.5" cy="48.5" rx="1.7" ry="1.5" fill="#7a7a7a" opacity="0.7"/>
<ellipse cx="35.6" cy="42.8" rx="1.9" ry="1.6" fill="#7a7a7a" opacity="0.7"/>
<ellipse cx="37.7" cy="42.2" rx="2.1" ry="1.8" fill="#bababa" opacity="0.55"/>
<ellipse cx="38.2" cy="50.0" rx="2.1" ry="0.9" fill="#bababa" opacity="0.55"/>
<ellipse cx="34.4" cy="49.2" rx="1.6" ry="1.2" fill="#bababa" opacity="0.55"/>
<ellipse cx="39.7" cy="47.3" rx="2.1" ry="1.6" fill="#404040"/>
<circle cx="38.5" cy="47.3" r="1.0" fill="#4a4a4a"/>
<ellipse cx="27.3" cy="61.3" rx="9.5" ry="8.0" fill="#717171" transform="rotate(-15 27.3 61.3)"/>
<ellipse cx="27.3" cy="61.3" rx="8.4" ry="6.9" fill="#8e8e8e" transform="rotate(-15 27.3 61.3)"/>
<ellipse cx="26.0" cy="61.6" rx="1.4" ry="1.4" fill="#6f6f6f" opacity="0.7"/>
<ellipse cx="31.6" cy="65.9" rx="1.7" ry="1.3" fill="#6f6f6f" opacity="0.7"/>
<ellipse cx="28.4" cy="56.7" rx="1.7" ry="2.0" fill="#6f6f6f" opacity="0.7"/>
<ellipse cx="24.9" cy="59.3" rx="2.3" ry="1.3" fill="#6f6f6f" opacity="0.7"/>
<ellipse cx="26.8" cy="66.6" rx="2.0" ry="2.1" fill="#6f6f6f" opacity="0.7"/>
<ellipse cx="28.4" cy="63.2" rx="1.1" ry="1.5" fill="#afafaf" opacity="0.55"/>
<ellipse cx="25.5" cy="60.7" rx="1.1" ry="1.6" fill="#afafaf" opacity="0.55"/>
<ellipse cx="21.3" cy="61.5" rx="1.0" ry="1.4" fill="#afafaf" opacity="0.55"/>
<ellipse cx="28.8" cy="62.5" rx="2.2" ry="1.5" fill="#353535"/>
<circle cx="32.4" cy="60.1" r="0.7" fill="#3f3f3f"/>
<ellipse cx="8.7" cy="69.4" rx="10.1" ry="6.9" fill="#636363" transform="rotate(9 8.7 69.4)"/>
<ellipse cx="8.7" cy="69.4" rx="9.0" ry="5.8" fill="#808080" transform="rotate(9 8.7 69.4)"/>
<ellipse cx="9.9" cy="69.9" rx="2.0" ry="1.8" fill="#616161" opacity="0.7"/>
<ellipse cx="13.2" cy="66.9" rx="1.3" ry="1.8" fill="#616161" opacity="0.7"/>
<ellipse cx="9.7" cy="68.4" rx="2.6" ry="1.3" fill="#616161" opacity="0.7"/>
<ellipse cx="8.4" cy="70.1" rx="2.6" ry="1.6" fill="#616161" opacity="0.7"/>
<ellipse cx="12.0" cy="67.8" rx="1.5" ry="1.3" fill="#616161" opacity="0.7"/>
<ellipse cx="8.1" cy="74.0" rx="1.2" ry="0.9" fill="#a1a1a1" opacity="0.55"/>
<ellipse cx="7.2" cy="70.7" rx="1.5" ry="1.4" fill="#a1a1a1" opacity="0.55"/>
<ellipse cx="7.0" cy="67.8" rx="1.2" ry="1.3" fill="#a1a1a1" opacity="0.55"/>
<ellipse cx="8.2" cy="68.5" rx="2.1" ry="1.6" fill="#272727"/>
<circle cx="6.3" cy="68.5" r="1.0" fill="#313131"/>
<ellipse cx="42.8" cy="69.4" rx="12.2" ry="7.4" fill="#525252" transform="rotate(20 42.8 69.4)"/>
<ellipse cx="42.8" cy="69.4" rx="11.1" ry="6.3" fill="#6f6f6f" transform="rotate(20 42.8 69.4)"/>
<ellipse cx="36.7" cy="68.1" rx="2.0" ry="1.9" fill="#505050" opacity="0.7"/>
<ellipse cx="44.6" cy="67.6" rx="1.4" ry="1.3" fill="#505050" opacity="0.7"/>
<ellipse cx="37.6" cy="73.3" rx="1.7" ry="1.8" fill="#505050" opacity="0.7"/>
<ellipse cx="37.2" cy="65.3" rx="1.4" ry="1.9" fill="#505050" opacity="0.7"/>
<ellipse cx="41.7" cy="70.5" rx="2.3" ry="2.0" fill="#505050" opacity="0.7"/>
<ellipse cx="40.4" cy="68.6" rx="2.2" ry="1.2" fill="#909090" opacity="0.55"/>
<ellipse cx="38.3" cy="66.3" rx="1.3" ry="1.2" fill="#909090" opacity="0.55"/>
<ellipse cx="41.4" cy="71.0" rx="1.1" ry="1.5" fill="#909090" opacity="0.55"/>
<ellipse cx="40.1" cy="70.4" rx="1.7" ry="1.3" fill="#161616"/>
<circle cx="43.7" cy="72.2" r="1.1" fill="#202020"/>
<ellipse cx="77.4" cy="26" rx="1.5" ry="1.5" fill="#505050"/>
<ellipse cx="63.2" cy="66.9" rx="3.2" ry="3.2" fill="#cccccc" transform="rotate(-20 63.2 66.9)"/>
<circle cx="62.9" cy="67.1" r="0.8" fill="#9f9f9f" opacity="0.6"/>
<circle cx="62.7" cy="66.7" r="0.9" fill="#9f9f9f" opacity="0.6"/>
<circle cx="61.6" cy="66.8" r="1.7" fill="#9f9f9f" opacity="0.6"/>
</g>
</g></g>
<clipPath id="ce3"><rect x="370.3" y="493.2" width="79.0" height="74.6"/></clipPath>
<g clip-path="url(#ce3)"><rect x="368.3" y="491.2" width="83.0" height="78.6" fill="#f0f0f0"/>
<g transform="translate(370.3,493.2)">
<ellipse cx="36.8" cy="7.7" rx="14.1" ry="6.7" fill="#f6f6f6" opacity="0.55" filter="url(#b3)"/>
<ellipse cx="42.5" cy="6.2" rx="15.9" ry="9.3" fill="#f6f6f6" opacity="0.55" filter="url(#b3)"/>
<ellipse cx="34.6" cy="20.3" rx="12.4" ry="11.8" fill="#f6f6f6" opacity="0.55" filter="url(#b3)"/>
<ellipse cx="33.8" cy="15.6" rx="12.1" ry="11.5" fill="#f6f6f6" opacity="0.55" filter="url(#b3)"/>
<ellipse cx="30.2" cy="47.3" rx="15.3" ry="8.0" fill="#f6f6f6" opacity="0.55" filter="url(#b3)"/>
<g filter="url(#cellf)">
<ellipse cx="1.5" cy="5" rx="2.1" ry="5.3" fill="#646464" transform="rotate(16 1.5 5)"/>
<ellipse cx="1.5" cy="5" rx="1.0" ry="4.2" fill="#818181" transform="rotate(16 1.5 5)"/>
<ellipse cx="30" cy="7.4" rx="10.1" ry="8.0" fill="#545454" transform="rotate(1 30 7.4)"/>
<ellipse cx="30" cy="7.4" rx="9.0" ry="6.9" fill="#717171" transform="rotate(1 30 7.4)"/>
<ellipse cx="30.9" cy="8.2" rx="2.9" ry="1.6" fill="#525252" opacity="0.7"/>
<ellipse cx="23.4" cy="9.4" rx="2.2" ry="1.6" fill="#525252" opacity="0.7"/>
<ellipse cx="28.8" cy="12.0" rx="1.7" ry="1.6" fill="#525252" opacity="0.7"/>
<ellipse cx="30.3" cy="3.5" rx="1.4" ry="1.2" fill="#525252" opacity="0.7"/>
<ellipse cx="28.0" cy="3.1" rx="1.4" ry="2.2" fill="#525252" opacity="0.7"/>
<ellipse cx="31.9" cy="9.1" rx="1.1" ry="1.2" fill="#929292" opacity="0.55"/>
<ellipse cx="25.4" cy="4.0" rx="1.2" ry="1.5" fill="#929292" opacity="0.55"/>
<ellipse cx="33.9" cy="9.8" rx="1.3" ry="1.2" fill="#929292" opacity="0.55"/>
<ellipse cx="32.1" cy="8.0" rx="1.7" ry="1.6" fill="#181818"/>
<circle cx="32.8" cy="8.8" r="0.9" fill="#222222"/>
<ellipse cx="72.1" cy="5.6" rx="8.5" ry="6.4" fill="#a8a8a8" transform="rotate(19 72.1 5.6)"/>
<circle cx="73.3" cy="5.1" r="1.1" fill="#7b7b7b" opacity="0.6"/>
<circle cx="72.5" cy="5.3" r="1.2" fill="#7b7b7b" opacity="0.6"/>
<circle cx="68.2" cy="7.4" r="0.9" fill="#7b7b7b" opacity="0.6"/>
<ellipse cx="57.2" cy="16.1" rx="9.0" ry="6.9" fill="#6c6c6c" transform="rotate(8 57.2 16.1)"/>
<ellipse cx="57.2" cy="16.1" rx="7.9" ry="5.8" fill="#898989" transform="rotate(8 57.2 16.1)"/>
<ellipse cx="57.4" cy="12.1" rx="1.2" ry="2.1" fill="#6a6a6a" opacity="0.7"/>
<ellipse cx="55.0" cy="20.3" rx="2.4" ry="1.5" fill="#6a6a6a" opacity="0.7"/>
<ellipse cx="59.7" cy="12.9" rx="1.8" ry="1.9" fill="#6a6a6a" opacity="0.7"/>
<ellipse cx="52.1" cy="16.0" rx="2.3" ry="2.0" fill="#6a6a6a" opacity="0.7"/>
<ellipse cx="59.2" cy="18.5" rx="1.2" ry="1.9" fill="#6a6a6a" opacity="0.7"/>
<ellipse cx="57.9" cy="11.9" rx="1.1" ry="1.3" fill="#aaaaaa" opacity="0.55"/>
<ellipse cx="54.9" cy="16.3" rx="1.2" ry="1.8" fill="#aaaaaa" opacity="0.55"/>
<ellipse cx="58.9" cy="14.3" rx="2.0" ry="1.5" fill="#aaaaaa" opacity="0.55"/>
<ellipse cx="55.9" cy="17.0" rx="1.8" ry="1.3" fill="#303030"/>
<circle cx="57.1" cy="17.5" r="1.1" fill="#3a3a3a"/>
<ellipse cx="10.2" cy="29.1" rx="9.5" ry="7.4" fill="#4a4a4a" transform="rotate(0 10.2 29.1)"/>
<ellipse cx="10.2" cy="29.1" rx="8.4" ry="6.3" fill="#676767" transform="rotate(0 10.2 29.1)"/>
<ellipse cx="7.6" cy="30.0" rx="2.5" ry="1.4" fill="#484848" opacity="0.7"/>
<ellipse cx="5.6" cy="26.6" rx="2.0" ry="1.8" fill="#484848" opacity="0.7"/>
<ellipse cx="12.6" cy="29.9" rx="2.7" ry="1.2" fill="#484848" opacity="0.7"/>
<ellipse cx="11.2" cy="29.4" rx="2.6" ry="1.1" fill="#484848" opacity="0.7"/>
<ellipse cx="6.7" cy="29.8" rx="2.6" ry="1.6" fill="#484848" opacity="0.7"/>
<ellipse cx="8.2" cy="28.9" rx="2.0" ry="1.6" fill="#888888" opacity="0.55"/>
<ellipse cx="6.0" cy="25.9" rx="1.7" ry="1.5" fill="#888888" opacity="0.55"/>
<ellipse cx="13.1" cy="26.1" rx="1.0" ry="1.7" fill="#888888" opacity="0.55"/>
<ellipse cx="10.8" cy="29.1" rx="1.7" ry="1.3" fill="#0e0e0e"/>
<circle cx="9.7" cy="26.6" r="0.8" fill="#181818"/>
<ellipse cx="34.9" cy="26" rx="9.0" ry="8.0" fill="#7e7e7e" transform="rotate(-25 34.9 26)"/>
<ellipse cx="34.9" cy="26" rx="7.9" ry="6.9" fill="#9b9b9b" transform="rotate(-25 34.9 26)"/>
<ellipse cx="32.5" cy="27.0" rx="2.5" ry="1.5" fill="#7c7c7c" opacity="0.7"/>
<ellipse cx="38.2" cy="31.0" rx="2.8" ry="1.8" fill="#7c7c7c" opacity="0.7"/>
<ellipse cx="35.6" cy="28.8" rx="2.0" ry="1.5" fill="#7c7c7c" opacity="0.7"/>
<ellipse cx="38.4" cy="26.5" rx="2.6" ry="1.8" fill="#7c7c7c" opacity="0.7"/>
<ellipse cx="38.0" cy="22.6" rx="2.6" ry="2.0" fill="#7c7c7c" opacity="0.7"/>
<ellipse cx="39.5" cy="23.6" rx="1.5" ry="1.5" fill="#bcbcbc" opacity="0.55"/>
<ellipse cx="31.7" cy="21.7" rx="1.9" ry="1.2" fill="#bcbcbc" opacity="0.55"/>
<ellipse cx="36.1" cy="28.7" rx="1.3" ry="1.5" fill="#bcbcbc" opacity="0.55"/>
<ellipse cx="35.0" cy="25.5" rx="2.1" ry="1.6" fill="#424242"/>
<circle cx="31.7" cy="26.2" r="0.9" fill="#4c4c4c"/>
<ellipse cx="55.4" cy="32.2" rx="10.6" ry="9.5" fill="#696969" transform="rotate(-18 55.4 32.2)"/>
<ellipse cx="55.4" cy="32.2" rx="9.5" ry="8.4" fill="#868686" transform="rotate(-18 55.4 32.2)"/>
<ellipse cx="55.1" cy="33.2" rx="1.5" ry="1.5" fill="#676767" opacity="0.7"/>
<ellipse cx="56.3" cy="32.8" rx="2.2" ry="2.1" fill="#676767" opacity="0.7"/>
<ellipse cx="57.1" cy="29.6" rx="2.9" ry="1.1" fill="#676767" opacity="0.7"/>
<ellipse cx="56.0" cy="33.0" rx="1.3" ry="1.7" fill="#676767" opacity="0.7"/>
<ellipse cx="55.6" cy="28.3" rx="2.6" ry="1.5" fill="#676767" opacity="0.7"/>
<ellipse cx="60.1" cy="29.8" rx="1.6" ry="1.0" fill="#a7a7a7" opacity="0.55"/>
<ellipse cx="51.4" cy="34.0" rx="2.0" ry="1.0" fill="#a7a7a7" opacity="0.55"/>
<ellipse cx="53.6" cy="37.8" rx="1.1" ry="1.3" fill="#a7a7a7" opacity="0.55"/>
<ellipse cx="55.8" cy="34.1" rx="2.1" ry="1.2" fill="#2d2d2d"/>
<ellipse cx="72.1" cy="28.5" rx="8.0" ry="6.9" fill="#444444" transform="rotate(-5 72.1 28.5)"/>
<ellipse cx="72.1" cy="28.5" rx="6.9" ry="5.8" fill="#616161" transform="rotate(-5 72.1 28.5)"/>
<ellipse cx="69.8" cy="32.6" rx="2.6" ry="1.4" fill="#424242" opacity="0.7"/>
<ellipse cx="71.5" cy="27.4" rx="2.1" ry="1.1" fill="#424242" opacity="0.7"/>
<ellipse cx="68.6" cy="24.8" rx="2.3" ry="1.0" fill="#424242" opacity="0.7"/>
<ellipse cx="68.9" cy="28.3" rx="2.0" ry="1.2" fill="#424242" opacity="0.7"/>
<ellipse cx="71.5" cy="31.2" rx="1.3" ry="1.8" fill="#424242" opacity="0.7"/>
<ellipse cx="72.2" cy="30.9" rx="1.1" ry="1.1" fill="#828282" opacity="0.55"/>
<ellipse cx="74.6" cy="27.5" rx="1.1" ry="1.1" fill="#828282" opacity="0.55"/>
<ellipse cx="73.9" cy="27.9" rx="1.4" ry="1.0" fill="#828282" opacity="0.55"/>
<ellipse cx="71.6" cy="27.6" rx="1.7" ry="1.6" fill="#080808"/>
<circle cx="73.1" cy="27.3" r="1.1" fill="#121212"/>
<ellipse cx="76.5" cy="20.4" rx="3.2" ry="4.2" fill="#444444" transform="rotate(-22 76.5 20.4)"/>
<ellipse cx="76.5" cy="20.4" rx="2.1" ry="3.1" fill="#616161" transform="rotate(-22 76.5 20.4)"/>
<ellipse cx="29.4" cy="39.7" rx="10.1" ry="8.5" fill="#5b5b5b" transform="rotate(-14 29.4 39.7)"/>
<ellipse cx="29.4" cy="39.7" rx="9.0" ry="7.4" fill="#787878" transform="rotate(-14 29.4 39.7)"/>
<ellipse cx="28.8" cy="42.0" rx="2.7" ry="1.6" fill="#595959" opacity="0.7"/>
<ellipse cx="26.9" cy="42.7" rx="2.7" ry="1.7" fill="#595959" opacity="0.7"/>
<ellipse cx="24.3" cy="41.1" rx="2.3" ry="1.5" fill="#595959" opacity="0.7"/>
<ellipse cx="27.7" cy="40.4" rx="2.0" ry="2.1" fill="#595959" opacity="0.7"/>
<ellipse cx="28.2" cy="42.4" rx="2.3" ry="1.7" fill="#595959" opacity="0.7"/>
<ellipse cx="31.3" cy="42.9" rx="1.9" ry="0.8" fill="#999999" opacity="0.55"/>
<ellipse cx="33.9" cy="42.8" rx="2.1" ry="0.9" fill="#999999" opacity="0.55"/>
<ellipse cx="33.9" cy="41.8" rx="1.3" ry="1.5" fill="#999999" opacity="0.55"/>
<ellipse cx="30.8" cy="39.9" rx="1.7" ry="1.3" fill="#1f1f1f"/>
<ellipse cx="41.8" cy="47.1" rx="7.4" ry="6.9" fill="#2c2c2c" transform="rotate(1 41.8 47.1)"/>
<ellipse cx="41.8" cy="47.1" rx="6.3" ry="5.8" fill="#494949" transform="rotate(1 41.8 47.1)"/>
<ellipse cx="44.7" cy="43.5" rx="2.3" ry="2.0" fill="#2a2a2a" opacity="0.7"/>
<ellipse cx="43.1" cy="49.6" rx="1.8" ry="1.7" fill="#2a2a2a" opacity="0.7"/>
<ellipse cx="45.6" cy="50.1" rx="1.9" ry="1.9" fill="#2a2a2a" opacity="0.7"/>
<ellipse cx="46.7" cy="45.4" rx="1.9" ry="2.0" fill="#2a2a2a" opacity="0.7"/>
<ellipse cx="43.2" cy="47.1" rx="2.5" ry="1.9" fill="#2a2a2a" opacity="0.7"/>
<ellipse cx="39.4" cy="47.7" rx="1.2" ry="1.2" fill="#6a6a6a" opacity="0.55"/>
<ellipse cx="44.5" cy="45.9" rx="1.3" ry="1.4" fill="#6a6a6a" opacity="0.55"/>
<ellipse cx="38.3" cy="48.4" rx="1.5" ry="1.1" fill="#6a6a6a" opacity="0.55"/>
<ellipse cx="43.6" cy="47.5" rx="2.2" ry="1.2" fill="#000000"/>
<circle cx="44.2" cy="47.5" r="1.2" fill="#000000"/>
<ellipse cx="9.5" cy="46.5" rx="10.1" ry="8.0" fill="#545454" transform="rotate(14 9.5 46.5)"/>
<ellipse cx="9.5" cy="46.5" rx="9.0" ry="6.9" fill="#717171" transform="rotate(14 9.5 46.5)"/>
<ellipse cx="8.4" cy="48.9" rx="2.3" ry="1.2" fill="#525252" opacity="0.7"/>
<ellipse cx="10.7" cy="46.1" rx="2.1" ry="1.3" fill="#525252" opacity="0.7"/>
<ellipse cx="8.2" cy="46.3" rx="1.6" ry="2.2" fill="#525252" opacity="0.7"/>
<ellipse cx="10.1" cy="44.6" rx="2.0" ry="1.0" fill="#525252" opacity="0.7"/>
<ellipse cx="11.1" cy="47.7" rx="3.0" ry="1.4" fill="#525252" opacity="0.7"/>
<ellipse cx="9.5" cy="48.4" rx="1.1" ry="1.8" fill="#929292" opacity="0.55"/>
<ellipse cx="9.1" cy="41.2" rx="2.0" ry="1.6" fill="#929292" opacity="0.55"/>
<ellipse cx="9.4" cy="48.8" rx="1.3" ry="0.9" fill="#929292" opacity="0.55"/>
<ellipse cx="10.5" cy="48.0" rx="2.0" ry="1.1" fill="#181818"/>
<circle cx="13.3" cy="50.1" r="1.1" fill="#222222"/>
<ellipse cx="1.5" cy="37.8" rx="3.2" ry="4.2" fill="#999999" transform="rotate(12 1.5 37.8)"/>
<circle cx="2.3" cy="37.1" r="1.2" fill="#6c6c6c" opacity="0.6"/>
<circle cx="1.1" cy="37.5" r="0.8" fill="#6c6c6c" opacity="0.6"/>
<circle cx="1.5" cy="38.9" r="0.9" fill="#6c6c6c" opacity="0.6"/>
<ellipse cx="72.1" cy="43.4" rx="8.5" ry="8.0" fill="#5b5b5b" transform="rotate(-21 72.1 43.4)"/>
<ellipse cx="72.1" cy="43.4" rx="7.4" ry="6.9" fill="#787878" transform="rotate(-21 72.1 43.4)"/>
<ellipse cx="72.2" cy="46.1" rx="2.9" ry="1.6" fill="#595959" opacity="0.7"/>
<ellipse cx="74.7" cy="39.4" rx="2.3" ry="1.4" fill="#595959" opacity="0.7"/>
<ellipse cx="70.1" cy="44.9" rx="2.3" ry="2.0" fill="#595959" opacity="0.7"/>
<ellipse cx="72.7" cy="41.1" rx="1.5" ry="1.0" fill="#595959" opacity="0.7"/>
<ellipse cx="70.3" cy="42.4" rx="1.2" ry="1.4" fill="#595959" opacity="0.7"/>
<ellipse cx="72.4" cy="45.8" rx="1.8" ry="1.4" fill="#999999" opacity="0.55"/>
<ellipse cx="71.2" cy="47.8" rx="1.2" ry="1.7" fill="#999999" opacity="0.55"/>
<ellipse cx="75.2" cy="46.1" rx="1.8" ry="1.5" fill="#999999" opacity="0.55"/>
<ellipse cx="69.9" cy="43.6" rx="2.2" ry="1.5" fill="#1f1f1f"/>
<circle cx="67.4" cy="43.4" r="1.0" fill="#292929"/>
<ellipse cx="28.7" cy="59.5" rx="11.7" ry="10.6" fill="#6c6c6c" transform="rotate(-20 28.7 59.5)"/>
<ellipse cx="28.7" cy="59.5" rx="10.6" ry="9.5" fill="#898989" transform="rotate(-20 28.7 59.5)"/>
<ellipse cx="28.5" cy="56.1" rx="2.1" ry="1.6" fill="#6a6a6a" opacity="0.7"/>
<ellipse cx="30.5" cy="56.8" rx="2.2" ry="1.7" fill="#6a6a6a" opacity="0.7"/>
<ellipse cx="26.7" cy="56.8" rx="1.7" ry="1.6" fill="#6a6a6a" opacity="0.7"/>
<ellipse cx="23.8" cy="56.2" rx="1.4" ry="1.5" fill="#6a6a6a" opacity="0.7"/>
<ellipse cx="26.2" cy="58.6" rx="1.4" ry="2.1" fill="#6a6a6a" opacity="0.7"/>
<ellipse cx="33.9" cy="60.1" rx="1.4" ry="0.8" fill="#aaaaaa" opacity="0.55"/>
<ellipse cx="28.3" cy="62.5" rx="1.5" ry="1.7" fill="#aaaaaa" opacity="0.55"/>
<ellipse cx="32.6" cy="61.4" rx="1.8" ry="1.4" fill="#aaaaaa" opacity="0.55"/>
<ellipse cx="29.5" cy="59.6" rx="1.9" ry="1.6" fill="#303030"/>
<circle cx="27.6" cy="59.5" r="0.9" fill="#3a3a3a"/>
<ellipse cx="8.9" cy="63.2" rx="11.7" ry="10.6" fill="#5b5b5b" transform="rotate(-18 8.9 63.2)"/>
<ellipse cx="8.9" cy="63.2" rx="10.6" ry="9.5" fill="#787878" transform="rotate(-18 8.9 63.2)"/>
<ellipse cx="5.6" cy="58.0" rx="2.1" ry="1.6" fill="#595959" opacity="0.7"/>
<ellipse cx="10.0" cy="55.6" rx="2.3" ry="1.1" fill="#595959" opacity="0.7"/>
<ellipse cx="2.7" cy="63.0" rx="1.8" ry="1.8" fill="#595959" opacity="0.7"/>
<ellipse cx="5.0" cy="67.1" rx="2.3" ry="1.8" fill="#595959" opacity="0.7"/>
<ellipse cx="14.7" cy="60.5" rx="2.5" ry="1.8" fill="#595959" opacity="0.7"/>
<ellipse cx="9.6" cy="68.5" rx="1.7" ry="0.9" fill="#999999" opacity="0.55"/>
<ellipse cx="9.0" cy="59.9" rx="1.6" ry="1.3" fill="#999999" opacity="0.55"/>
<ellipse cx="7.7" cy="57.1" rx="1.6" ry="1.7" fill="#999999" opacity="0.55"/>
<ellipse cx="7.0" cy="63.8" rx="2.5" ry="1.3" fill="#1f1f1f"/>
<ellipse cx="54.2" cy="67.5" rx="13.8" ry="8.5" fill="#5b5b5b" transform="rotate(23 54.2 67.5)"/>
<ellipse cx="54.2" cy="67.5" rx="12.7" ry="7.4" fill="#787878" transform="rotate(23 54.2 67.5)"/>
<ellipse cx="61.4" cy="70.1" rx="2.4" ry="1.6" fill="#595959" opacity="0.7"/>
<ellipse cx="56.4" cy="62.1" rx="1.5" ry="1.6" fill="#595959" opacity="0.7"/>
<ellipse cx="48.5" cy="64.4" rx="2.9" ry="2.0" fill="#595959" opacity="0.7"/>
<ellipse cx="55.1" cy="66.4" rx="2.0" ry="2.1" fill="#595959" opacity="0.7"/>
<ellipse cx="61.9" cy="65.8" rx="1.8" ry="1.9" fill="#595959" opacity="0.7"/>
<ellipse cx="47.0" cy="66.6" rx="1.8" ry="1.7" fill="#999999" opacity="0.55"/>
<ellipse cx="52.1" cy="61.8" rx="1.6" ry="1.3" fill="#999999" opacity="0.55"/>
<ellipse cx="50.5" cy="64.1" rx="1.1" ry="1.8" fill="#999999" opacity="0.55"/>
<ellipse cx="53.3" cy="68.7" rx="1.6" ry="1.2" fill="#1f1f1f"/>
<ellipse cx="72.1" cy="58.9" rx="9.0" ry="7.4" fill="#4e4e4e" transform="rotate(-11 72.1 58.9)"/>
<ellipse cx="72.1" cy="58.9" rx="7.9" ry="6.3" fill="#6b6b6b" transform="rotate(-11 72.1 58.9)"/>
<ellipse cx="70.4" cy="63.3" rx="1.6" ry="1.8" fill="#4c4c4c" opacity="0.7"/>
<ellipse cx="66.5" cy="56.8" rx="2.1" ry="1.4" fill="#4c4c4c" opacity="0.7"/>
<ellipse cx="71.9" cy="61.4" rx="1.2" ry="1.1" fill="#4c4c4c" opacity="0.7"/>
<ellipse cx="73.7" cy="60.7" rx="2.6" ry="2.1" fill="#4c4c4c" opacity="0.7"/>
<ellipse cx="70.7" cy="60.4" rx="1.7" ry="1.8" fill="#4c4c4c" opacity="0.7"/>
<ellipse cx="69.8" cy="59.2" rx="1.6" ry="1.1" fill="#8c8c8c" opacity="0.55"/>
<ellipse cx="75.4" cy="62.3" rx="1.1" ry="1.2" fill="#8c8c8c" opacity="0.55"/>
<ellipse cx="72.5" cy="55.4" rx="2.0" ry="1.1" fill="#8c8c8c" opacity="0.55"/>
<ellipse cx="72.2" cy="58.9" rx="2.4" ry="1.4" fill="#121212"/>
<circle cx="70.3" cy="61.8" r="1.1" fill="#1c1c1c"/>
</g>
</g></g>
<clipPath id="ce4"><rect x="452.2" y="493.2" width="79.0" height="74.6"/></clipPath>
<g clip-path="url(#ce4)"><rect x="450.2" y="491.2" width="83.0" height="78.6" fill="#f0f0f0"/>
<g transform="translate(452.2,493.2)">
<ellipse cx="58.2" cy="60.5" rx="8.1" ry="7.8" fill="#f6f6f6" opacity="0.55" filter="url(#b3)"/>
<ellipse cx="36.8" cy="67.8" rx="15.3" ry="6.9" fill="#f6f6f6" opacity="0.55" filter="url(#b3)"/>
<ellipse cx="78.0" cy="41.4" rx="10.4" ry="6.5" fill="#f6f6f6" opacity="0.55" filter="url(#b3)"/>
<ellipse cx="33.7" cy="38.8" rx="11.6" ry="7.9" fill="#f6f6f6" opacity="0.55" filter="url(#b3)"/>
<ellipse cx="74.9" cy="35.5" rx="10.5" ry="10.7" fill="#f6f6f6" opacity="0.55" filter="url(#b3)"/>
<g filter="url(#cellf)">
<ellipse cx="18.8" cy="19.8" rx="15.4" ry="13.8" fill="#d6d6d6" transform="rotate(-13 18.8 19.8)"/>
<circle cx="18.0" cy="20.2" r="1.0" fill="#a9a9a9" opacity="0.6"/>
<circle cx="24.1" cy="19.7" r="1.3" fill="#a9a9a9" opacity="0.6"/>
<circle cx="16.2" cy="15.3" r="1.3" fill="#a9a9a9" opacity="0.6"/>
<ellipse cx="47.3" cy="6.2" rx="9.0" ry="8.0" fill="#565656" transform="rotate(-7 47.3 6.2)"/>
<ellipse cx="47.3" cy="6.2" rx="7.9" ry="6.9" fill="#737373" transform="rotate(-7 47.3 6.2)"/>
<ellipse cx="47.9" cy="7.0" rx="1.4" ry="1.5" fill="#545454" opacity="0.7"/>
<ellipse cx="52.1" cy="6.5" rx="1.8" ry="1.3" fill="#545454" opacity="0.7"/>
<ellipse cx="45.8" cy="9.3" rx="1.6" ry="2.0" fill="#545454" opacity="0.7"/>
<ellipse cx="46.0" cy="6.3" rx="1.4" ry="2.1" fill="#545454" opacity="0.7"/>
<ellipse cx="45.0" cy="5.1" rx="2.5" ry="1.1" fill="#545454" opacity="0.7"/>
<ellipse cx="51.9" cy="2.8" rx="1.8" ry="0.9" fill="#949494" opacity="0.55"/>
<ellipse cx="42.3" cy="8.4" rx="1.7" ry="1.0" fill="#949494" opacity="0.55"/>
<ellipse cx="47.5" cy="8.0" rx="1.6" ry="1.0" fill="#949494" opacity="0.55"/>
<ellipse cx="45.0" cy="6.9" rx="2.4" ry="1.4" fill="#1a1a1a"/>
<ellipse cx="66.5" cy="5" rx="9.0" ry="5.8" fill="#5c5c5c" transform="rotate(-18 66.5 5)"/>
<ellipse cx="66.5" cy="5" rx="7.9" ry="4.7" fill="#797979" transform="rotate(-18 66.5 5)"/>
<ellipse cx="72.1" cy="3.8" rx="2.1" ry="2.1" fill="#5a5a5a" opacity="0.7"/>
<ellipse cx="64.6" cy="9.1" rx="1.8" ry="2.1" fill="#5a5a5a" opacity="0.7"/>
<ellipse cx="69.8" cy="1.5" rx="2.5" ry="1.1" fill="#5a5a5a" opacity="0.7"/>
<ellipse cx="65.6" cy="8.0" rx="2.8" ry="1.8" fill="#5a5a5a" opacity="0.7"/>
<ellipse cx="69.3" cy="5.5" rx="1.8" ry="1.2" fill="#5a5a5a" opacity="0.7"/>
<ellipse cx="67.1" cy="7.6" rx="1.4" ry="1.1" fill="#9a9a9a" opacity="0.55"/>
<ellipse cx="61.3" cy="7.1" rx="1.7" ry="1.6" fill="#9a9a9a" opacity="0.55"/>
<ellipse cx="68.3" cy="4.5" rx="2.1" ry="0.9" fill="#9a9a9a" opacity="0.55"/>
<ellipse cx="67.2" cy="6.2" rx="2.3" ry="1.5" fill="#202020"/>
<circle cx="68.9" cy="5.8" r="0.8" fill="#2a2a2a"/>
<ellipse cx="73.4" cy="14.9" rx="6.9" ry="6.9" fill="#525252" transform="rotate(-14 73.4 14.9)"/>
<ellipse cx="73.4" cy="14.9" rx="5.8" ry="5.8" fill="#6f6f6f" transform="rotate(-14 73.4 14.9)"/>
<ellipse cx="74.0" cy="15.5" rx="2.9" ry="2.1" fill="#505050" opacity="0.7"/>
<ellipse cx="71.9" cy="17.0" rx="1.7" ry="1.9" fill="#505050" opacity="0.7"/>
<ellipse cx="71.9" cy="15.0" rx="2.8" ry="2.1" fill="#505050" opacity="0.7"/>
<ellipse cx="76.0" cy="15.7" rx="1.6" ry="1.8" fill="#505050" opacity="0.7"/>
<ellipse cx="72.1" cy="16.5" rx="1.7" ry="1.7" fill="#505050" opacity="0.7"/>
<ellipse cx="70.3" cy="14.8" rx="1.8" ry="1.3" fill="#909090" opacity="0.55"/>
<ellipse cx="76.1" cy="13.9" rx="2.0" ry="1.7" fill="#909090" opacity="0.55"/>
<ellipse cx="70.9" cy="12.5" rx="1.9" ry="1.5" fill="#909090" opacity="0.55"/>
<ellipse cx="73.7" cy="15.7" rx="1.7" ry="1.1" fill="#161616"/>
<ellipse cx="18.8" cy="19.8" rx="12.2" ry="11.1" fill="#6c6c6c" transform="rotate(-9 18.8 19.8)"/>
<ellipse cx="18.8" cy="19.8" rx="11.1" ry="10.0" fill="#898989" transform="rotate(-9 18.8 19.8)"/>
<ellipse cx="18.8" cy="21.1" rx="1.2" ry="1.8" fill="#6a6a6a" opacity="0.7"/>
<ellipse cx="15.9" cy="23.1" rx="2.4" ry="2.1" fill="#6a6a6a" opacity="0.7"/>
<ellipse cx="17.9" cy="17.2" rx="3.0" ry="1.2" fill="#6a6a6a" opacity="0.7"/>
<ellipse cx="13.3" cy="17.0" rx="1.7" ry="2.1" fill="#6a6a6a" opacity="0.7"/>
<ellipse cx="13.5" cy="15.8" rx="1.4" ry="2.0" fill="#6a6a6a" opacity="0.7"/>
<ellipse cx="17.4" cy="25.3" rx="1.9" ry="1.1" fill="#aaaaaa" opacity="0.55"/>
<ellipse cx="18.4" cy="23.8" rx="2.2" ry="1.5" fill="#aaaaaa" opacity="0.55"/>
<ellipse cx="13.0" cy="20.8" rx="1.8" ry="1.1" fill="#aaaaaa" opacity="0.55"/>
<ellipse cx="19.2" cy="20.0" rx="2.1" ry="1.5" fill="#303030"/>
<ellipse cx="39.9" cy="20.4" rx="10.1" ry="8.5" fill="#767676" transform="rotate(6 39.9 20.4)"/>
<ellipse cx="39.9" cy="20.4" rx="9.0" ry="7.4" fill="#939393" transform="rotate(6 39.9 20.4)"/>
<ellipse cx="44.4" cy="15.4" rx="2.1" ry="1.5" fill="#747474" opacity="0.7"/>
<ellipse cx="36.5" cy="20.9" rx="2.6" ry="1.7" fill="#747474" opacity="0.7"/>
<ellipse cx="45.1" cy="24.7" rx="2.1" ry="1.9" fill="#747474" opacity="0.7"/>
<ellipse cx="35.2" cy="19.2" rx="2.2" ry="1.1" fill="#747474" opacity="0.7"/>
<ellipse cx="43.9" cy="24.0" rx="1.8" ry="1.2" fill="#747474" opacity="0.7"/>
<ellipse cx="42.2" cy="15.9" rx="1.9" ry="1.2" fill="#b4b4b4" opacity="0.55"/>
<ellipse cx="43.9" cy="24.0" rx="1.3" ry="1.5" fill="#b4b4b4" opacity="0.55"/>
<ellipse cx="38.8" cy="17.7" rx="1.0" ry="1.4" fill="#b4b4b4" opacity="0.55"/>
<ellipse cx="40.3" cy="18.9" rx="2.5" ry="1.2" fill="#3a3a3a"/>
<ellipse cx="59.1" cy="21.7" rx="9.0" ry="7.4" fill="#636363" transform="rotate(-3 59.1 21.7)"/>
<ellipse cx="59.1" cy="21.7" rx="7.9" ry="6.3" fill="#808080" transform="rotate(-3 59.1 21.7)"/>
<ellipse cx="56.8" cy="20.6" rx="1.6" ry="1.7" fill="#616161" opacity="0.7"/>
<ellipse cx="54.2" cy="18.5" rx="2.3" ry="1.6" fill="#616161" opacity="0.7"/>
<ellipse cx="56.4" cy="18.6" rx="1.9" ry="1.3" fill="#616161" opacity="0.7"/>
<ellipse cx="57.8" cy="19.3" rx="1.3" ry="1.2" fill="#616161" opacity="0.7"/>
<ellipse cx="56.0" cy="24.8" rx="2.4" ry="1.6" fill="#616161" opacity="0.7"/>
<ellipse cx="60.4" cy="19.2" rx="1.4" ry="1.6" fill="#a1a1a1" opacity="0.55"/>
<ellipse cx="57.5" cy="18.9" rx="2.1" ry="0.8" fill="#a1a1a1" opacity="0.55"/>
<ellipse cx="53.6" cy="20.7" rx="2.1" ry="1.0" fill="#a1a1a1" opacity="0.55"/>
<ellipse cx="59.6" cy="20.6" rx="2.4" ry="1.3" fill="#272727"/>
<ellipse cx="37.4" cy="35.3" rx="9.5" ry="7.4" fill="#717171" transform="rotate(7 37.4 35.3)"/>
<ellipse cx="37.4" cy="35.3" rx="8.4" ry="6.3" fill="#8e8e8e" transform="rotate(7 37.4 35.3)"/>
<ellipse cx="40.4" cy="35.2" rx="1.9" ry="1.1" fill="#6f6f6f" opacity="0.7"/>
<ellipse cx="36.8" cy="34.3" rx="2.7" ry="1.2" fill="#6f6f6f" opacity="0.7"/>
<ellipse cx="39.9" cy="40.2" rx="2.1" ry="1.9" fill="#6f6f6f" opacity="0.7"/>
<ellipse cx="36.0" cy="36.9" rx="1.9" ry="2.2" fill="#6f6f6f" opacity="0.7"/>
<ellipse cx="39.7" cy="40.1" rx="2.8" ry="1.8" fill="#6f6f6f" opacity="0.7"/>
<ellipse cx="36.9" cy="39.5" rx="2.1" ry="1.4" fill="#afafaf" opacity="0.55"/>
<ellipse cx="38.3" cy="39.0" rx="2.1" ry="1.4" fill="#afafaf" opacity="0.55"/>
<ellipse cx="39.1" cy="37.1" rx="1.8" ry="0.8" fill="#afafaf" opacity="0.55"/>
<ellipse cx="38.5" cy="35.3" rx="1.8" ry="1.4" fill="#353535"/>
<circle cx="38.9" cy="36.4" r="0.9" fill="#3f3f3f"/>
<ellipse cx="58.5" cy="34.7" rx="9.5" ry="7.4" fill="#636363" transform="rotate(4 58.5 34.7)"/>
<ellipse cx="58.5" cy="34.7" rx="8.4" ry="6.3" fill="#808080" transform="rotate(4 58.5 34.7)"/>
<ellipse cx="52.8" cy="33.9" rx="2.2" ry="1.8" fill="#616161" opacity="0.7"/>
<ellipse cx="52.9" cy="32.9" rx="1.4" ry="1.1" fill="#616161" opacity="0.7"/>
<ellipse cx="62.5" cy="31.1" rx="1.2" ry="2.1" fill="#616161" opacity="0.7"/>
<ellipse cx="53.7" cy="31.6" rx="2.5" ry="1.5" fill="#616161" opacity="0.7"/>
<ellipse cx="62.8" cy="37.6" rx="2.5" ry="1.6" fill="#616161" opacity="0.7"/>
<ellipse cx="58.0" cy="37.5" rx="2.1" ry="1.3" fill="#a1a1a1" opacity="0.55"/>
<ellipse cx="60.1" cy="39.7" rx="2.2" ry="1.0" fill="#a1a1a1" opacity="0.55"/>
<ellipse cx="60.3" cy="38.6" rx="1.5" ry="1.3" fill="#a1a1a1" opacity="0.55"/>
<ellipse cx="58.2" cy="34.1" rx="2.1" ry="1.2" fill="#272727"/>
<circle cx="58.5" cy="33.7" r="1.1" fill="#313131"/>
<ellipse cx="72.1" cy="39.7" rx="1.7" ry="1.5" fill="#101010"/>
<ellipse cx="47.3" cy="44.6" rx="10.1" ry="6.9" fill="#6c6c6c" transform="rotate(21 47.3 44.6)"/>
<ellipse cx="47.3" cy="44.6" rx="9.0" ry="5.8" fill="#898989" transform="rotate(21 47.3 44.6)"/>
<ellipse cx="47.1" cy="46.8" rx="1.4" ry="1.4" fill="#6a6a6a" opacity="0.7"/>
<ellipse cx="50.7" cy="44.3" rx="2.7" ry="2.2" fill="#6a6a6a" opacity="0.7"/>
<ellipse cx="46.6" cy="43.2" rx="2.0" ry="1.2" fill="#6a6a6a" opacity="0.7"/>
<ellipse cx="47.3" cy="46.8" rx="1.5" ry="1.8" fill="#6a6a6a" opacity="0.7"/>
<ellipse cx="44.4" cy="44.3" rx="1.7" ry="1.2" fill="#6a6a6a" opacity="0.7"/>
<ellipse cx="50.5" cy="46.5" rx="1.1" ry="1.3" fill="#aaaaaa" opacity="0.55"/>
<ellipse cx="47.1" cy="48.6" rx="1.3" ry="1.7" fill="#aaaaaa" opacity="0.55"/>
<ellipse cx="53.6" cy="43.0" rx="1.3" ry="1.7" fill="#aaaaaa" opacity="0.55"/>
<ellipse cx="44.7" cy="44.9" rx="2.0" ry="1.4" fill="#303030"/>
<circle cx="46.7" cy="44.1" r="1.1" fill="#3a3a3a"/>
<ellipse cx="35.6" cy="57" rx="16.4" ry="10.6" fill="#696969" transform="rotate(10 35.6 57)"/>
<ellipse cx="35.6" cy="57" rx="15.3" ry="9.5" fill="#868686" transform="rotate(10 35.6 57)"/>
<ellipse cx="33.8" cy="57.6" rx="1.7" ry="1.5" fill="#676767" opacity="0.7"/>
<ellipse cx="30.2" cy="60.7" rx="1.2" ry="1.6" fill="#676767" opacity="0.7"/>
<ellipse cx="44.8" cy="52.2" rx="2.4" ry="1.8" fill="#676767" opacity="0.7"/>
<ellipse cx="25.8" cy="52.2" rx="2.6" ry="1.6" fill="#676767" opacity="0.7"/>
<ellipse cx="23.9" cy="57.2" rx="2.2" ry="1.7" fill="#676767" opacity="0.7"/>
<ellipse cx="32.5" cy="62.3" rx="1.6" ry="1.7" fill="#a7a7a7" opacity="0.55"/>
<ellipse cx="47.0" cy="57.0" rx="2.1" ry="0.8" fill="#a7a7a7" opacity="0.55"/>
<ellipse cx="41.0" cy="58.7" rx="2.0" ry="1.4" fill="#a7a7a7" opacity="0.55"/>
<ellipse cx="35.6" cy="57.3" rx="1.8" ry="1.2" fill="#2d2d2d"/>
<circle cx="37.5" cy="55.5" r="0.8" fill="#373737"/>
<ellipse cx="8.3" cy="66.3" rx="10.6" ry="9.0" fill="#525252" transform="rotate(6 8.3 66.3)"/>
<ellipse cx="8.3" cy="66.3" rx="9.5" ry="7.9" fill="#6f6f6f" transform="rotate(6 8.3 66.3)"/>
<ellipse cx="12.9" cy="70.5" rx="2.4" ry="2.1" fill="#505050" opacity="0.7"/>
<ellipse cx="7.4" cy="61.2" rx="1.7" ry="1.5" fill="#505050" opacity="0.7"/>
<ellipse cx="5.6" cy="68.5" rx="2.8" ry="1.5" fill="#505050" opacity="0.7"/>
<ellipse cx="9.9" cy="61.9" rx="1.3" ry="1.3" fill="#505050" opacity="0.7"/>
<ellipse cx="2.6" cy="63.7" rx="1.6" ry="1.3" fill="#505050" opacity="0.7"/>
<ellipse cx="5.0" cy="69.0" rx="1.5" ry="1.7" fill="#909090" opacity="0.55"/>
<ellipse cx="5.5" cy="64.4" rx="1.4" ry="1.3" fill="#909090" opacity="0.55"/>
<ellipse cx="10.5" cy="69.3" rx="1.1" ry="1.5" fill="#909090" opacity="0.55"/>
<ellipse cx="10.2" cy="64.5" rx="2.1" ry="1.3" fill="#161616"/>
<circle cx="10.7" cy="62.6" r="1.0" fill="#202020"/>
<ellipse cx="24.4" cy="70" rx="9.5" ry="5.8" fill="#636363" transform="rotate(-0 24.4 70)"/>
<ellipse cx="24.4" cy="70" rx="8.4" ry="4.7" fill="#808080" transform="rotate(-0 24.4 70)"/>
<ellipse cx="25.6" cy="72.1" rx="2.7" ry="1.8" fill="#616161" opacity="0.7"/>
<ellipse cx="23.2" cy="71.3" rx="2.3" ry="1.7" fill="#616161" opacity="0.7"/>
<ellipse cx="23.3" cy="72.3" rx="1.9" ry="1.8" fill="#616161" opacity="0.7"/>
<ellipse cx="26.7" cy="68.6" rx="2.2" ry="1.7" fill="#616161" opacity="0.7"/>
<ellipse cx="23.2" cy="68.7" rx="1.6" ry="2.1" fill="#616161" opacity="0.7"/>
<ellipse cx="27.5" cy="72.5" rx="1.3" ry="1.3" fill="#a1a1a1" opacity="0.55"/>
<ellipse cx="21.5" cy="70.6" rx="1.2" ry="1.8" fill="#a1a1a1" opacity="0.55"/>
<ellipse cx="26.9" cy="70.4" rx="1.9" ry="1.2" fill="#a1a1a1" opacity="0.55"/>
<ellipse cx="25.1" cy="71.3" rx="2.5" ry="1.2" fill="#272727"/>
<ellipse cx="52.3" cy="68.8" rx="11.7" ry="6.9" fill="#6c6c6c" transform="rotate(-5 52.3 68.8)"/>
<ellipse cx="52.3" cy="68.8" rx="10.6" ry="5.8" fill="#898989" transform="rotate(-5 52.3 68.8)"/>
<ellipse cx="58.0" cy="68.7" rx="2.8" ry="1.8" fill="#6a6a6a" opacity="0.7"/>
<ellipse cx="55.4" cy="70.8" rx="2.5" ry="1.2" fill="#6a6a6a" opacity="0.7"/>
<ellipse cx="59.7" cy="71.5" rx="2.9" ry="1.8" fill="#6a6a6a" opacity="0.7"/>
<ellipse cx="58.3" cy="70.3" rx="3.0" ry="1.9" fill="#6a6a6a" opacity="0.7"/>
<ellipse cx="51.3" cy="66.2" rx="2.3" ry="2.1" fill="#6a6a6a" opacity="0.7"/>
<ellipse cx="49.5" cy="68.8" rx="1.2" ry="1.8" fill="#aaaaaa" opacity="0.55"/>
<ellipse cx="50.3" cy="64.3" rx="1.2" ry="0.9" fill="#aaaaaa" opacity="0.55"/>
<ellipse cx="50.3" cy="66.2" rx="1.6" ry="1.0" fill="#aaaaaa" opacity="0.55"/>
<ellipse cx="52.5" cy="67.2" rx="2.3" ry="1.4" fill="#303030"/>
<circle cx="51.7" cy="67.0" r="0.9" fill="#3a3a3a"/>
<ellipse cx="70.9" cy="68.8" rx="8.0" ry="7.4" fill="#565656" transform="rotate(-2 70.9 68.8)"/>
<ellipse cx="70.9" cy="68.8" rx="6.9" ry="6.3" fill="#737373" transform="rotate(-2 70.9 68.8)"/>
<ellipse cx="75.7" cy="67.7" rx="1.4" ry="1.8" fill="#545454" opacity="0.7"/>
<ellipse cx="72.0" cy="66.6" rx="2.8" ry="2.1" fill="#545454" opacity="0.7"/>
<ellipse cx="74.6" cy="70.4" rx="1.9" ry="1.6" fill="#545454" opacity="0.7"/>
<ellipse cx="65.9" cy="67.4" rx="2.3" ry="2.1" fill="#545454" opacity="0.7"/>
<ellipse cx="70.9" cy="73.4" rx="1.9" ry="1.2" fill="#545454" opacity="0.7"/>
<ellipse cx="72.2" cy="65.4" rx="1.3" ry="1.7" fill="#949494" opacity="0.55"/>
<ellipse cx="66.6" cy="69.0" rx="2.2" ry="1.1" fill="#949494" opacity="0.55"/>
<ellipse cx="67.3" cy="67.9" rx="1.3" ry="1.3" fill="#949494" opacity="0.55"/>
<ellipse cx="72.5" cy="68.5" rx="1.8" ry="1.5" fill="#1a1a1a"/>
</g>
</g></g>
<clipPath id="ce5"><rect x="205.9" y="571.0" width="79.3" height="75.2"/></clipPath>
<g clip-path="url(#ce5)"><rect x="203.9" y="569.0" width="83.3" height="79.2" fill="#f0f0f0"/>
<g transform="translate(205.9,571.0)">
<ellipse cx="29.2" cy="50.5" rx="11.0" ry="10.7" fill="#f6f6f6" opacity="0.55" filter="url(#b3)"/>
<ellipse cx="30.8" cy="62.0" rx="10.4" ry="7.0" fill="#f6f6f6" opacity="0.55" filter="url(#b3)"/>
<ellipse cx="26.1" cy="9.4" rx="15.0" ry="12.0" fill="#f6f6f6" opacity="0.55" filter="url(#b3)"/>
<ellipse cx="33.0" cy="18.1" rx="15.1" ry="11.1" fill="#f6f6f6" opacity="0.55" filter="url(#b3)"/>
<ellipse cx="19.4" cy="23.0" rx="12.0" ry="6.8" fill="#f6f6f6" opacity="0.55" filter="url(#b3)"/>
<g filter="url(#cellf)">
<ellipse cx="21" cy="1.5" rx="7.4" ry="2.7" fill="#414141" transform="rotate(-14 21 1.5)"/>
<ellipse cx="21" cy="1.5" rx="6.3" ry="1.6" fill="#5e5e5e" transform="rotate(-14 21 1.5)"/>
<ellipse cx="13.6" cy="9.7" rx="1.2" ry="1.2" fill="#404040"/>
<ellipse cx="3.7" cy="15.2" rx="4.2" ry="2.7" fill="#525252" transform="rotate(-19 3.7 15.2)"/>
<ellipse cx="3.7" cy="15.2" rx="3.1" ry="1.6" fill="#6f6f6f" transform="rotate(-19 3.7 15.2)"/>
<ellipse cx="27.3" cy="13" rx="6.4" ry="9.5" fill="#747474" transform="rotate(-18 27.3 13)"/>
<ellipse cx="27.3" cy="13" rx="5.3" ry="8.4" fill="#919191" transform="rotate(-18 27.3 13)"/>
<ellipse cx="25.8" cy="11.3" rx="2.8" ry="2.2" fill="#727272" opacity="0.7"/>
<ellipse cx="26.4" cy="10.7" rx="2.6" ry="1.4" fill="#727272" opacity="0.7"/>
<ellipse cx="28.9" cy="10.4" rx="2.4" ry="1.9" fill="#727272" opacity="0.7"/>
<ellipse cx="26.2" cy="7.7" rx="1.8" ry="1.2" fill="#727272" opacity="0.7"/>
<ellipse cx="24.2" cy="18.1" rx="1.3" ry="1.3" fill="#727272" opacity="0.7"/>
<ellipse cx="26.3" cy="16.7" rx="2.0" ry="1.0" fill="#b2b2b2" opacity="0.55"/>
<ellipse cx="28.4" cy="14.2" rx="1.4" ry="1.5" fill="#b2b2b2" opacity="0.55"/>
<ellipse cx="24.1" cy="14.5" rx="1.6" ry="1.2" fill="#b2b2b2" opacity="0.55"/>
<ellipse cx="27.2" cy="13.1" rx="2.5" ry="1.5" fill="#383838"/>
<circle cx="24.9" cy="14.8" r="1.0" fill="#424242"/>
<ellipse cx="44" cy="14.9" rx="11.1" ry="10.6" fill="#717171" transform="rotate(12 44 14.9)"/>
<ellipse cx="44" cy="14.9" rx="10.0" ry="9.5" fill="#8e8e8e" transform="rotate(12 44 14.9)"/>
<ellipse cx="44.0" cy="12.8" rx="2.7" ry="1.2" fill="#6f6f6f" opacity="0.7"/>
<ellipse cx="48.2" cy="19.6" rx="2.7" ry="1.4" fill="#6f6f6f" opacity="0.7"/>
<ellipse cx="39.2" cy="18.9" rx="1.7" ry="1.5" fill="#6f6f6f" opacity="0.7"/>
<ellipse cx="46.0" cy="14.8" rx="2.9" ry="2.1" fill="#6f6f6f" opacity="0.7"/>
<ellipse cx="46.9" cy="14.8" rx="1.6" ry="1.5" fill="#6f6f6f" opacity="0.7"/>
<ellipse cx="47.5" cy="21.1" rx="1.7" ry="1.6" fill="#afafaf" opacity="0.55"/>
<ellipse cx="39.0" cy="15.2" rx="2.1" ry="0.9" fill="#afafaf" opacity="0.55"/>
<ellipse cx="45.1" cy="21.5" rx="1.7" ry="1.6" fill="#afafaf" opacity="0.55"/>
<ellipse cx="46.6" cy="14.8" rx="2.1" ry="1.6" fill="#353535"/>
<circle cx="44.3" cy="13.8" r="1.2" fill="#3f3f3f"/>
<ellipse cx="58.2" cy="6.8" rx="9.5" ry="8.0" fill="#636363" transform="rotate(1 58.2 6.8)"/>
<ellipse cx="58.2" cy="6.8" rx="8.4" ry="6.9" fill="#808080" transform="rotate(1 58.2 6.8)"/>
<ellipse cx="63.0" cy="7.6" rx="3.0" ry="1.8" fill="#616161" opacity="0.7"/>
<ellipse cx="54.4" cy="7.0" rx="2.3" ry="1.7" fill="#616161" opacity="0.7"/>
<ellipse cx="51.7" cy="7.2" rx="2.8" ry="1.9" fill="#616161" opacity="0.7"/>
<ellipse cx="57.4" cy="2.3" rx="1.6" ry="1.6" fill="#616161" opacity="0.7"/>
<ellipse cx="58.0" cy="8.7" rx="2.9" ry="1.3" fill="#616161" opacity="0.7"/>
<ellipse cx="60.5" cy="2.3" rx="1.5" ry="0.8" fill="#a1a1a1" opacity="0.55"/>
<ellipse cx="60.4" cy="10.6" rx="1.9" ry="1.2" fill="#a1a1a1" opacity="0.55"/>
<ellipse cx="56.0" cy="5.5" rx="1.8" ry="1.6" fill="#a1a1a1" opacity="0.55"/>
<ellipse cx="58.5" cy="5.5" rx="2.1" ry="1.1" fill="#272727"/>
<circle cx="57.8" cy="2.9" r="0.7" fill="#313131"/>
<ellipse cx="72.5" cy="11.2" rx="8.5" ry="10.6" fill="#a0a0a0" transform="rotate(23 72.5 11.2)"/>
<circle cx="71.4" cy="8.2" r="1.5" fill="#737373" opacity="0.6"/>
<circle cx="74.5" cy="8.5" r="1.2" fill="#737373" opacity="0.6"/>
<circle cx="69.0" cy="14.7" r="1.8" fill="#737373" opacity="0.6"/>
<ellipse cx="38.4" cy="31" rx="8.5" ry="6.4" fill="#aaaaaa" transform="rotate(-17 38.4 31)"/>
<circle cx="39.6" cy="28.9" r="1.1" fill="#7d7d7d" opacity="0.6"/>
<circle cx="38.0" cy="30.1" r="1.5" fill="#7d7d7d" opacity="0.6"/>
<circle cx="35.8" cy="30.3" r="0.9" fill="#7d7d7d" opacity="0.6"/>
<ellipse cx="36.6" cy="31.6" rx="4" ry="3.2" fill="#303030"/>
<ellipse cx="11.2" cy="42.8" rx="12.7" ry="9.5" fill="#6c6c6c" transform="rotate(23 11.2 42.8)"/>
<ellipse cx="11.2" cy="42.8" rx="11.6" ry="8.4" fill="#898989" transform="rotate(23 11.2 42.8)"/>
<ellipse cx="11.4" cy="40.0" rx="2.5" ry="1.1" fill="#6a6a6a" opacity="0.7"/>
<ellipse cx="7.3" cy="41.9" rx="2.0" ry="1.3" fill="#6a6a6a" opacity="0.7"/>
<ellipse cx="15.6" cy="44.4" rx="1.6" ry="1.2" fill="#6a6a6a" opacity="0.7"/>
<ellipse cx="10.1" cy="44.3" rx="1.2" ry="2.2" fill="#6a6a6a" opacity="0.7"/>
<ellipse cx="19.3" cy="45.0" rx="2.0" ry="1.1" fill="#6a6a6a" opacity="0.7"/>
<ellipse cx="6.0" cy="44.7" rx="1.1" ry="1.3" fill="#aaaaaa" opacity="0.55"/>
<ellipse cx="15.6" cy="43.0" rx="1.9" ry="1.6" fill="#aaaaaa" opacity="0.55"/>
<ellipse cx="13.4" cy="46.2" rx="2.1" ry="1.1" fill="#aaaaaa" opacity="0.55"/>
<ellipse cx="11.9" cy="43.3" rx="2.4" ry="1.3" fill="#303030"/>
<ellipse cx="27.9" cy="48.3" rx="8.0" ry="6.9" fill="#5c5c5c" transform="rotate(22 27.9 48.3)"/>
<ellipse cx="27.9" cy="48.3" rx="6.9" ry="5.8" fill="#797979" transform="rotate(22 27.9 48.3)"/>
<ellipse cx="26.6" cy="47.2" rx="2.1" ry="1.4" fill="#5a5a5a" opacity="0.7"/>
<ellipse cx="23.9" cy="48.8" rx="3.0" ry="1.8" fill="#5a5a5a" opacity="0.7"/>
<ellipse cx="22.9" cy="48.1" rx="2.1" ry="1.2" fill="#5a5a5a" opacity="0.7"/>
<ellipse cx="26.8" cy="46.6" rx="1.6" ry="1.5" fill="#5a5a5a" opacity="0.7"/>
<ellipse cx="26.9" cy="48.4" rx="1.8" ry="2.2" fill="#5a5a5a" opacity="0.7"/>
<ellipse cx="24.8" cy="48.1" rx="1.5" ry="1.5" fill="#9a9a9a" opacity="0.55"/>
<ellipse cx="24.7" cy="48.3" rx="1.7" ry="1.1" fill="#9a9a9a" opacity="0.55"/>
<ellipse cx="26.5" cy="45.7" rx="1.8" ry="1.1" fill="#9a9a9a" opacity="0.55"/>
<ellipse cx="27.6" cy="48.0" rx="2.0" ry="1.4" fill="#202020"/>
<circle cx="24.6" cy="47.8" r="1.1" fill="#2a2a2a"/>
<ellipse cx="42.8" cy="51.4" rx="6.9" ry="6.4" fill="#d0d0d0" transform="rotate(16 42.8 51.4)"/>
<circle cx="44.5" cy="49.0" r="1.8" fill="#a3a3a3" opacity="0.6"/>
<circle cx="43.0" cy="51.9" r="0.9" fill="#a3a3a3" opacity="0.6"/>
<circle cx="43.0" cy="50.8" r="1.1" fill="#a3a3a3" opacity="0.6"/>
<ellipse cx="42.8" cy="51.4" rx="2.8" ry="2.6" fill="#202020"/>
<ellipse cx="10.5" cy="60.7" rx="12.7" ry="9.5" fill="#6c6c6c" transform="rotate(20 10.5 60.7)"/>
<ellipse cx="10.5" cy="60.7" rx="11.6" ry="8.4" fill="#898989" transform="rotate(20 10.5 60.7)"/>
<ellipse cx="11.3" cy="63.0" rx="2.3" ry="1.8" fill="#6a6a6a" opacity="0.7"/>
<ellipse cx="16.4" cy="61.8" rx="2.2" ry="1.7" fill="#6a6a6a" opacity="0.7"/>
<ellipse cx="2.7" cy="60.1" rx="2.7" ry="2.0" fill="#6a6a6a" opacity="0.7"/>
<ellipse cx="9.7" cy="61.8" rx="2.0" ry="1.0" fill="#6a6a6a" opacity="0.7"/>
<ellipse cx="7.1" cy="57.7" rx="2.5" ry="2.0" fill="#6a6a6a" opacity="0.7"/>
<ellipse cx="9.7" cy="55.5" rx="1.4" ry="1.5" fill="#aaaaaa" opacity="0.55"/>
<ellipse cx="8.0" cy="58.4" rx="2.0" ry="1.3" fill="#aaaaaa" opacity="0.55"/>
<ellipse cx="6.8" cy="60.2" rx="2.0" ry="1.3" fill="#aaaaaa" opacity="0.55"/>
<ellipse cx="10.3" cy="58.3" rx="2.1" ry="1.5" fill="#303030"/>
<circle cx="8.2" cy="60.1" r="1.2" fill="#3a3a3a"/>
<ellipse cx="28" cy="57.5" rx="2.2" ry="2" fill="#202020"/>
<ellipse cx="30" cy="64" rx="1.6" ry="1.4" fill="#303030"/>
<ellipse cx="34" cy="64" rx="1.5" ry="1.2" fill="#303030"/>
<ellipse cx="26" cy="68" rx="1.6" ry="1.5" fill="#303030"/>
<ellipse cx="27" cy="62" rx="4.2" ry="4.2" fill="#cccccc" transform="rotate(-3 27 62)"/>
<circle cx="26.7" cy="62.5" r="1.6" fill="#9f9f9f" opacity="0.6"/>
<circle cx="25.1" cy="61.0" r="1.0" fill="#9f9f9f" opacity="0.6"/>
<circle cx="26.0" cy="63.0" r="1.6" fill="#9f9f9f" opacity="0.6"/>
<ellipse cx="72.5" cy="66.9" rx="9.5" ry="9.5" fill="#b0b0b0" transform="rotate(-4 72.5 66.9)"/>
<circle cx="73.3" cy="68.8" r="1.4" fill="#838383" opacity="0.6"/>
<circle cx="75.8" cy="66.2" r="1.6" fill="#838383" opacity="0.6"/>
<circle cx="73.6" cy="65.0" r="1.3" fill="#838383" opacity="0.6"/>
</g>
</g></g>
<clipPath id="ce6"><rect x="288.9" y="571.0" width="79.0" height="75.2"/></clipPath>
<g clip-path="url(#ce6)"><rect x="286.9" y="569.0" width="83.0" height="79.2" fill="#e3e3e3"/>
<g transform="translate(288.9,571.0)">
<ellipse cx="65.9" cy="54.4" rx="11.2" ry="7.1" fill="#f6f6f6" opacity="0.25" filter="url(#b3)"/>
<ellipse cx="57.8" cy="22.0" rx="10.1" ry="7.5" fill="#f6f6f6" opacity="0.25" filter="url(#b3)"/>
<ellipse cx="54.3" cy="48.6" rx="15.5" ry="9.5" fill="#f6f6f6" opacity="0.25" filter="url(#b3)"/>
<ellipse cx="38.2" cy="66.5" rx="9.1" ry="9.5" fill="#f6f6f6" opacity="0.25" filter="url(#b3)"/>
<ellipse cx="78.0" cy="25.0" rx="9.2" ry="6.7" fill="#f6f6f6" opacity="0.25" filter="url(#b3)"/>
<g filter="url(#cellf)">
<ellipse cx="19.2" cy="19.2" rx="8.0" ry="8.5" fill="#b8b8b8" transform="rotate(-24 19.2 19.2)"/>
<circle cx="19.0" cy="17.3" r="1.6" fill="#8b8b8b" opacity="0.6"/>
<circle cx="19.3" cy="19.1" r="1.1" fill="#8b8b8b" opacity="0.6"/>
<circle cx="19.1" cy="20.4" r="0.8" fill="#8b8b8b" opacity="0.6"/>
<ellipse cx="11.2" cy="16.1" rx="3.4" ry="3.4" fill="#222222"/>
<ellipse cx="36.6" cy="18" rx="8.0" ry="7.4" fill="#5c5c5c" transform="rotate(-8 36.6 18)"/>
<ellipse cx="36.6" cy="18" rx="6.9" ry="6.3" fill="#797979" transform="rotate(-8 36.6 18)"/>
<ellipse cx="33.2" cy="19.0" rx="3.0" ry="1.1" fill="#5a5a5a" opacity="0.7"/>
<ellipse cx="40.3" cy="21.8" rx="1.7" ry="1.6" fill="#5a5a5a" opacity="0.7"/>
<ellipse cx="34.8" cy="22.7" rx="2.9" ry="1.7" fill="#5a5a5a" opacity="0.7"/>
<ellipse cx="38.9" cy="19.4" rx="2.5" ry="1.7" fill="#5a5a5a" opacity="0.7"/>
<ellipse cx="36.1" cy="20.6" rx="1.3" ry="1.5" fill="#5a5a5a" opacity="0.7"/>
<ellipse cx="38.0" cy="15.4" rx="1.6" ry="1.0" fill="#9a9a9a" opacity="0.55"/>
<ellipse cx="35.8" cy="15.1" rx="1.5" ry="1.6" fill="#9a9a9a" opacity="0.55"/>
<ellipse cx="36.0" cy="19.7" rx="1.8" ry="1.5" fill="#9a9a9a" opacity="0.55"/>
<ellipse cx="37.4" cy="18.3" rx="2.4" ry="1.4" fill="#202020"/>
<circle cx="34.4" cy="17.0" r="1.0" fill="#2a2a2a"/>
<ellipse cx="64.4" cy="25.4" rx="10.1" ry="8.5" fill="#767676" transform="rotate(21 64.4 25.4)"/>
<ellipse cx="64.4" cy="25.4" rx="9.0" ry="7.4" fill="#939393" transform="rotate(21 64.4 25.4)"/>
<ellipse cx="60.5" cy="20.1" rx="1.9" ry="1.1" fill="#747474" opacity="0.7"/>
<ellipse cx="62.6" cy="27.8" rx="1.3" ry="1.1" fill="#747474" opacity="0.7"/>
<ellipse cx="70.2" cy="22.3" rx="1.4" ry="1.1" fill="#747474" opacity="0.7"/>
<ellipse cx="66.5" cy="25.2" rx="1.7" ry="1.3" fill="#747474" opacity="0.7"/>
<ellipse cx="64.7" cy="26.4" rx="2.0" ry="1.9" fill="#747474" opacity="0.7"/>
<ellipse cx="68.5" cy="27.0" rx="1.2" ry="1.6" fill="#b4b4b4" opacity="0.55"/>
<ellipse cx="69.7" cy="22.3" rx="1.6" ry="0.9" fill="#b4b4b4" opacity="0.55"/>
<ellipse cx="63.9" cy="23.4" rx="1.9" ry="1.1" fill="#b4b4b4" opacity="0.55"/>
<ellipse cx="65.1" cy="24.9" rx="2.3" ry="1.4" fill="#3a3a3a"/>
<circle cx="65.0" cy="24.5" r="0.8" fill="#444444"/>
<ellipse cx="77.4" cy="6.2" rx="2.5" ry="3.5" fill="#444444"/>
<ellipse cx="56.4" cy="68.2" rx="8.5" ry="6.4" fill="#cccccc" transform="rotate(2 56.4 68.2)"/>
<circle cx="55.9" cy="67.1" r="1.4" fill="#9f9f9f" opacity="0.6"/>
<circle cx="57.2" cy="69.9" r="1.0" fill="#9f9f9f" opacity="0.6"/>
<circle cx="56.6" cy="67.5" r="1.1" fill="#9f9f9f" opacity="0.6"/>
<ellipse cx="36.6" cy="71.9" rx="2.3" ry="1.6" fill="#999999" transform="rotate(-22 36.6 71.9)"/>
<circle cx="36.4" cy="72.4" r="1.0" fill="#6c6c6c" opacity="0.6"/>
<circle cx="37.4" cy="72.4" r="1.1" fill="#6c6c6c" opacity="0.6"/>
<circle cx="36.7" cy="72.2" r="1.6" fill="#6c6c6c" opacity="0.6"/>
<ellipse cx="3.1" cy="52" rx="4.2" ry="6.4" fill="#d4d4d4" transform="rotate(12 3.1 52)"/>
<circle cx="4.1" cy="50.9" r="1.1" fill="#a7a7a7" opacity="0.6"/>
<circle cx="3.0" cy="52.0" r="1.5" fill="#a7a7a7" opacity="0.6"/>
<circle cx="4.2" cy="49.3" r="1.6" fill="#a7a7a7" opacity="0.6"/>
<ellipse cx="25" cy="3" rx="7.4" ry="2.1" fill="#c8c8c8" transform="rotate(7 25 3)"/>
<circle cx="25.4" cy="2.7" r="1.4" fill="#9b9b9b" opacity="0.6"/>
<circle cx="27.0" cy="3.9" r="1.3" fill="#9b9b9b" opacity="0.6"/>
<circle cx="26.8" cy="4.0" r="1.4" fill="#9b9b9b" opacity="0.6"/>
</g>
<g filter="url(#debf)">
<ellipse cx="51" cy="9" rx="0.90" ry="0.85" transform="rotate(160 51 9)" fill="#454545"/>
<ellipse cx="53" cy="7" rx="1.29" ry="0.98" transform="rotate(71 53 7)" fill="#323232"/>
<ellipse cx="55" cy="11" rx="1.02" ry="0.75" transform="rotate(59 55 11)" fill="#313131"/>
<ellipse cx="58" cy="10" rx="0.99" ry="0.94" transform="rotate(147 58 10)" fill="#393939"/>
<ellipse cx="62" cy="8" rx="1.31" ry="1.22" transform="rotate(176 62 8)" fill="#464646"/>
<ellipse cx="66" cy="9" rx="1.24" ry="0.95" transform="rotate(94 66 9)" fill="#2f2f2f"/>
<ellipse cx="69" cy="7" rx="1.30" ry="0.96" transform="rotate(159 69 7)" fill="#2a2a2a"/>
<ellipse cx="72" cy="9" rx="1.11" ry="0.74" transform="rotate(144 72 9)" fill="#262626"/>
<ellipse cx="74" cy="12" rx="1.02" ry="0.98" transform="rotate(9 74 12)" fill="#3d3d3d"/>
<ellipse cx="76" cy="10" rx="1.30" ry="1.16" transform="rotate(119 76 10)" fill="#515151"/>
<ellipse cx="57" cy="14" rx="1.03" ry="0.72" transform="rotate(126 57 14)" fill="#343434"/>
<ellipse cx="52" cy="14" rx="0.86" ry="0.85" transform="rotate(61 52 14)" fill="#353535"/>
<ellipse cx="50" cy="18" rx="1.29" ry="1.19" transform="rotate(121 50 18)" fill="#3f3f3f"/>
<ellipse cx="54" cy="20" rx="1.26" ry="0.84" transform="rotate(26 54 20)" fill="#4c4c4c"/>
<ellipse cx="46.5" cy="22.5" rx="2.62" ry="2.31" transform="rotate(4 46.5 22.5)" fill="#2a2a2a"/>
<ellipse cx="50" cy="24.5" rx="2.23" ry="1.63" transform="rotate(80 50 24.5)" fill="#1b1b1b"/>
<ellipse cx="44.5" cy="26" rx="1.75" ry="1.21" transform="rotate(174 44.5 26)" fill="#1b1b1b"/>
<ellipse cx="52.5" cy="22" rx="1.75" ry="1.48" transform="rotate(73 52.5 22)" fill="#383838"/>
<ellipse cx="42" cy="29" rx="1.94" ry="1.28" transform="rotate(11 42 29)" fill="#333333"/>
<ellipse cx="37.5" cy="30" rx="1.75" ry="1.45" transform="rotate(67 37.5 30)" fill="#181818"/>
<ellipse cx="36.5" cy="34.5" rx="2.72" ry="2.71" transform="rotate(45 36.5 34.5)" fill="#525252"/>
<ellipse cx="40.5" cy="37.5" rx="2.04" ry="1.58" transform="rotate(84 40.5 37.5)" fill="#1e1e1e"/>
<ellipse cx="48.5" cy="31.5" rx="2.42" ry="2.35" transform="rotate(86 48.5 31.5)" fill="#404040"/>
<ellipse cx="49" cy="35.5" rx="1.55" ry="1.35" transform="rotate(111 49 35.5)" fill="#434343"/>
<ellipse cx="41" cy="33" rx="1.55" ry="1.05" transform="rotate(126 41 33)" fill="#303030"/>
<ellipse cx="34" cy="39" rx="1.46" ry="1.03" transform="rotate(175 34 39)" fill="#1d1d1d"/>
<ellipse cx="38.5" cy="32.5" rx="1.36" ry="1.33" transform="rotate(167 38.5 32.5)" fill="#2e2e2e"/>
<ellipse cx="48" cy="42" rx="1.84" ry="1.50" transform="rotate(101 48 42)" fill="#505050"/>
<ellipse cx="46" cy="44.5" rx="1.36" ry="1.07" transform="rotate(86 46 44.5)" fill="#2f2f2f"/>
<ellipse cx="50" cy="46" rx="1.55" ry="1.31" transform="rotate(58 50 46)" fill="#363636"/>
<ellipse cx="47" cy="50" rx="1.84" ry="1.50" transform="rotate(123 47 50)" fill="#3f3f3f"/>
<ellipse cx="51" cy="50" rx="1.75" ry="1.14" transform="rotate(156 51 50)" fill="#1e1e1e"/>
<ellipse cx="44.8" cy="54.5" rx="3.01" ry="2.57" transform="rotate(10 44.8 54.5)" fill="#535353"/>
<ellipse cx="52.5" cy="56.5" rx="2.23" ry="1.99" transform="rotate(151 52.5 56.5)" fill="#252525"/>
<ellipse cx="55.8" cy="57.8" rx="1.84" ry="1.77" transform="rotate(73 55.8 57.8)" fill="#232323"/>
<ellipse cx="61.3" cy="57" rx="2.13" ry="1.74" transform="rotate(162 61.3 57)" fill="#212121"/>
<ellipse cx="52" cy="62.5" rx="2.62" ry="1.76" transform="rotate(82 52 62.5)" fill="#3e3e3e"/>
<ellipse cx="46" cy="63" rx="1.46" ry="1.41" transform="rotate(73 46 63)" fill="#1b1b1b"/>
<ellipse cx="21" cy="42" rx="1.36" ry="0.92" transform="rotate(161 21 42)" fill="#242424"/>
<ellipse cx="23" cy="44" rx="0.97" ry="0.78" transform="rotate(178 23 44)" fill="#343434"/>
<ellipse cx="20" cy="40" rx="0.87" ry="0.63" transform="rotate(28 20 40)" fill="#444444"/>
<ellipse cx="42" cy="41" rx="0.97" ry="0.76" transform="rotate(141 42 41)" fill="#434343"/>
<ellipse cx="30" cy="41" rx="0.87" ry="0.81" transform="rotate(129 30 41)" fill="#232323"/>
<ellipse cx="57" cy="18" rx="1.16" ry="1.12" transform="rotate(77 57 18)" fill="#585858"/>
<ellipse cx="60" cy="16" rx="1.16" ry="0.87" transform="rotate(169 60 16)" fill="#292929"/>
<ellipse cx="63" cy="19" rx="1.16" ry="1.02" transform="rotate(2 63 19)" fill="#585858"/>
<circle cx="84.3" cy="15.5" r="0.6" fill="#777" opacity="0.7"/>
<circle cx="47.4" cy="6.3" r="0.4" fill="#777" opacity="0.7"/>
<circle cx="18.1" cy="28.5" r="0.4" fill="#777" opacity="0.7"/>
<circle cx="42.8" cy="12.0" r="0.6" fill="#777" opacity="0.7"/>
<circle cx="43.9" cy="20.2" r="0.5" fill="#777" opacity="0.7"/>
<circle cx="61.8" cy="14.2" r="0.3" fill="#777" opacity="0.7"/>
<circle cx="52.1" cy="21.7" r="0.7" fill="#777" opacity="0.7"/>
<circle cx="69.7" cy="20.8" r="0.6" fill="#777" opacity="0.7"/>
<circle cx="25.8" cy="45.7" r="0.5" fill="#777" opacity="0.7"/>
<circle cx="65.9" cy="5.7" r="0.3" fill="#777" opacity="0.7"/>
<circle cx="66.4" cy="6.7" r="0.5" fill="#777" opacity="0.7"/>
<circle cx="68.1" cy="8.0" r="0.5" fill="#777" opacity="0.7"/>
<circle cx="62.6" cy="17.1" r="0.5" fill="#777" opacity="0.7"/>
<circle cx="37.8" cy="31.0" r="0.6" fill="#777" opacity="0.7"/>
<circle cx="27.8" cy="17.1" r="0.6" fill="#777" opacity="0.7"/>
<circle cx="41.3" cy="38.4" r="0.3" fill="#777" opacity="0.7"/>
<circle cx="78.2" cy="5.0" r="0.3" fill="#777" opacity="0.7"/>
<circle cx="30.6" cy="16.9" r="0.5" fill="#777" opacity="0.7"/>
<circle cx="65.9" cy="42.0" r="0.5" fill="#777" opacity="0.7"/>
<circle cx="42.0" cy="10.9" r="0.5" fill="#777" opacity="0.7"/>
<circle cx="48.5" cy="20.3" r="0.3" fill="#777" opacity="0.7"/>
<circle cx="52.6" cy="-1.1" r="0.7" fill="#777" opacity="0.7"/>
<circle cx="67.7" cy="19.7" r="0.3" fill="#777" opacity="0.7"/>
<circle cx="48.1" cy="2.2" r="0.6" fill="#777" opacity="0.7"/>
<circle cx="28.4" cy="40.9" r="0.3" fill="#777" opacity="0.7"/>
<circle cx="23.0" cy="25.3" r="0.5" fill="#777" opacity="0.7"/>
<circle cx="56.3" cy="-7.1" r="0.6" fill="#777" opacity="0.7"/>
<circle cx="43.9" cy="45.8" r="0.3" fill="#777" opacity="0.7"/>
<circle cx="47.6" cy="29.3" r="0.5" fill="#777" opacity="0.7"/>
<circle cx="66.7" cy="24.4" r="0.6" fill="#777" opacity="0.7"/>
<circle cx="39.1" cy="13.1" r="0.7" fill="#777" opacity="0.7"/>
<circle cx="72.1" cy="-17.8" r="0.3" fill="#777" opacity="0.7"/>
<circle cx="18.9" cy="24.1" r="0.4" fill="#777" opacity="0.7"/>
<circle cx="50.6" cy="24.7" r="0.6" fill="#777" opacity="0.7"/>
<circle cx="61.1" cy="1.0" r="0.6" fill="#777" opacity="0.7"/>
<circle cx="25.2" cy="29.3" r="0.6" fill="#777" opacity="0.7"/>
<circle cx="50.5" cy="31.3" r="0.6" fill="#777" opacity="0.7"/>
<circle cx="36.6" cy="26.2" r="0.4" fill="#777" opacity="0.7"/>
<circle cx="56.3" cy="18.3" r="0.6" fill="#777" opacity="0.7"/>
<circle cx="49.6" cy="25.9" r="0.6" fill="#777" opacity="0.7"/>
<circle cx="48.2" cy="22.6" r="0.4" fill="#777" opacity="0.7"/>
<circle cx="41.9" cy="32.2" r="0.6" fill="#777" opacity="0.7"/>
<circle cx="46.6" cy="19.3" r="0.4" fill="#777" opacity="0.7"/>
<circle cx="46.2" cy="27.4" r="0.7" fill="#777" opacity="0.7"/>
<circle cx="44.2" cy="-7.6" r="0.7" fill="#777" opacity="0.7"/>
<circle cx="42.5" cy="33.3" r="0.5" fill="#777" opacity="0.7"/>
<circle cx="61.8" cy="29.6" r="0.6" fill="#777" opacity="0.7"/>
<circle cx="65.3" cy="13.0" r="0.6" fill="#777" opacity="0.7"/>
<circle cx="21.5" cy="33.1" r="0.3" fill="#777" opacity="0.7"/>
<circle cx="75.6" cy="18.6" r="0.4" fill="#777" opacity="0.7"/>
<circle cx="48.1" cy="18.8" r="0.6" fill="#777" opacity="0.7"/>
<circle cx="51.1" cy="12.1" r="0.7" fill="#777" opacity="0.7"/>
<circle cx="42.7" cy="22.7" r="0.3" fill="#777" opacity="0.7"/>
<circle cx="58.2" cy="14.2" r="0.6" fill="#777" opacity="0.7"/>
<circle cx="40.7" cy="21.7" r="0.5" fill="#777" opacity="0.7"/>
<circle cx="39.0" cy="10.4" r="0.4" fill="#777" opacity="0.7"/>
<circle cx="55.8" cy="25.7" r="0.3" fill="#777" opacity="0.7"/>
<circle cx="59.3" cy="12.9" r="0.4" fill="#777" opacity="0.7"/>
<circle cx="39.7" cy="8.0" r="0.4" fill="#777" opacity="0.7"/>
<circle cx="32.3" cy="21.6" r="0.6" fill="#777" opacity="0.7"/>
<circle cx="64.9" cy="21.0" r="0.4" fill="#777" opacity="0.7"/>
<circle cx="31.6" cy="23.3" r="0.6" fill="#777" opacity="0.7"/>
<circle cx="17.0" cy="34.9" r="0.7" fill="#777" opacity="0.7"/>
<circle cx="51.9" cy="14.4" r="0.4" fill="#777" opacity="0.7"/>
<circle cx="59.7" cy="21.4" r="0.4" fill="#777" opacity="0.7"/>
<circle cx="28.7" cy="34.2" r="0.6" fill="#777" opacity="0.7"/>
<circle cx="39.9" cy="10.9" r="0.6" fill="#777" opacity="0.7"/>
<circle cx="63.5" cy="21.3" r="0.4" fill="#777" opacity="0.7"/>
<circle cx="66.6" cy="3.9" r="0.7" fill="#777" opacity="0.7"/>
<circle cx="24.9" cy="35.8" r="0.6" fill="#777" opacity="0.7"/>
</g>
<path d="M15.5 38.7L32.8 31.8M28.6 36.8L32.8 31.8L26.3 31.1" fill="none" stroke="#111" stroke-width="1.1" stroke-linecap="round" stroke-linejoin="round"/>
<path d="M79.9 69.4L62.6 58.9M69.1 59.3L62.6 58.9L65.9 64.5" fill="none" stroke="#111" stroke-width="1.1" stroke-linecap="round" stroke-linejoin="round"/>
</g></g>
<clipPath id="ce7"><rect x="370.3" y="571.0" width="78.6" height="75.2"/></clipPath>
<g clip-path="url(#ce7)"><rect x="368.3" y="569.0" width="82.6" height="79.2" fill="#f0f0f0"/>
<g transform="translate(370.3,571.0)">
<ellipse cx="29.9" cy="73.8" rx="9.2" ry="7.9" fill="#f6f6f6" opacity="0.55" filter="url(#b3)"/>
<ellipse cx="31.2" cy="19.1" rx="14.0" ry="8.3" fill="#f6f6f6" opacity="0.55" filter="url(#b3)"/>
<ellipse cx="2.2" cy="45.2" rx="14.8" ry="7.7" fill="#f6f6f6" opacity="0.55" filter="url(#b3)"/>
<ellipse cx="26.1" cy="33.2" rx="9.6" ry="9.7" fill="#f6f6f6" opacity="0.55" filter="url(#b3)"/>
<ellipse cx="31.1" cy="1.8" rx="10.9" ry="8.2" fill="#f6f6f6" opacity="0.55" filter="url(#b3)"/>
<g filter="url(#cellf)">
<ellipse cx="9.5" cy="10.5" rx="10.1" ry="8.5" fill="#353535" transform="rotate(-19 9.5 10.5)"/>
<ellipse cx="9.5" cy="10.5" rx="9.0" ry="7.4" fill="#525252" transform="rotate(-19 9.5 10.5)"/>
<ellipse cx="12.5" cy="5.4" rx="2.2" ry="1.7" fill="#333333" opacity="0.7"/>
<ellipse cx="8.5" cy="8.6" rx="2.1" ry="1.5" fill="#333333" opacity="0.7"/>
<ellipse cx="9.5" cy="4.8" rx="1.4" ry="1.7" fill="#333333" opacity="0.7"/>
<ellipse cx="11.5" cy="6.5" rx="1.6" ry="2.2" fill="#333333" opacity="0.7"/>
<ellipse cx="5.7" cy="13.5" rx="1.9" ry="2.1" fill="#333333" opacity="0.7"/>
<ellipse cx="8.8" cy="8.5" rx="1.5" ry="1.6" fill="#737373" opacity="0.55"/>
<ellipse cx="16.5" cy="10.5" rx="2.0" ry="1.3" fill="#737373" opacity="0.55"/>
<ellipse cx="5.4" cy="8.7" rx="1.7" ry="1.3" fill="#737373" opacity="0.55"/>
<ellipse cx="9.8" cy="12.0" rx="2.1" ry="1.5" fill="#000000"/>
<circle cx="9.3" cy="13.3" r="0.7" fill="#030303"/>
<ellipse cx="51.7" cy="3.7" rx="10.1" ry="5.3" fill="#464646" transform="rotate(21 51.7 3.7)"/>
<ellipse cx="51.7" cy="3.7" rx="9.0" ry="4.2" fill="#636363" transform="rotate(21 51.7 3.7)"/>
<ellipse cx="51.2" cy="3.2" rx="2.9" ry="1.4" fill="#444444" opacity="0.7"/>
<ellipse cx="54.7" cy="5.4" rx="1.8" ry="1.9" fill="#444444" opacity="0.7"/>
<ellipse cx="56.0" cy="2.2" rx="2.2" ry="1.1" fill="#444444" opacity="0.7"/>
<ellipse cx="50.3" cy="3.5" rx="2.5" ry="2.0" fill="#444444" opacity="0.7"/>
<ellipse cx="51.4" cy="5.6" rx="1.3" ry="1.9" fill="#444444" opacity="0.7"/>
<ellipse cx="47.7" cy="6.1" rx="1.0" ry="1.6" fill="#848484" opacity="0.55"/>
<ellipse cx="53.9" cy="4.8" rx="1.6" ry="0.9" fill="#848484" opacity="0.55"/>
<ellipse cx="56.0" cy="5.2" rx="1.4" ry="1.3" fill="#848484" opacity="0.55"/>
<ellipse cx="51.5" cy="2.3" rx="2.4" ry="1.7" fill="#0a0a0a"/>
<ellipse cx="59.7" cy="15.5" rx="11.7" ry="6.9" fill="#464646" transform="rotate(-24 59.7 15.5)"/>
<ellipse cx="59.7" cy="15.5" rx="10.6" ry="5.8" fill="#636363" transform="rotate(-24 59.7 15.5)"/>
<ellipse cx="59.4" cy="14.8" rx="2.8" ry="1.1" fill="#444444" opacity="0.7"/>
<ellipse cx="53.2" cy="17.2" rx="1.5" ry="1.4" fill="#444444" opacity="0.7"/>
<ellipse cx="56.1" cy="16.7" rx="3.0" ry="1.9" fill="#444444" opacity="0.7"/>
<ellipse cx="62.4" cy="19.8" rx="2.4" ry="1.8" fill="#444444" opacity="0.7"/>
<ellipse cx="59.7" cy="13.9" rx="1.7" ry="1.8" fill="#444444" opacity="0.7"/>
<ellipse cx="61.3" cy="13.5" rx="1.2" ry="1.8" fill="#848484" opacity="0.55"/>
<ellipse cx="62.2" cy="16.3" rx="1.2" ry="0.8" fill="#848484" opacity="0.55"/>
<ellipse cx="65.5" cy="16.7" rx="1.4" ry="0.9" fill="#848484" opacity="0.55"/>
<ellipse cx="60.3" cy="15.5" rx="1.8" ry="1.3" fill="#0a0a0a"/>
<circle cx="61.7" cy="15.2" r="1.1" fill="#141414"/>
<ellipse cx="30" cy="19.8" rx="12.7" ry="10.6" fill="#797979" transform="rotate(-4 30 19.8)"/>
<ellipse cx="30" cy="19.8" rx="11.6" ry="9.5" fill="#969696" transform="rotate(-4 30 19.8)"/>
<ellipse cx="30.3" cy="26.0" rx="1.5" ry="2.0" fill="#777777" opacity="0.7"/>
<ellipse cx="32.6" cy="24.2" rx="1.6" ry="1.2" fill="#777777" opacity="0.7"/>
<ellipse cx="35.2" cy="16.1" rx="2.1" ry="1.6" fill="#777777" opacity="0.7"/>
<ellipse cx="29.6" cy="18.0" rx="1.9" ry="1.6" fill="#777777" opacity="0.7"/>
<ellipse cx="32.1" cy="20.2" rx="1.3" ry="1.4" fill="#777777" opacity="0.7"/>
<ellipse cx="37.6" cy="18.4" rx="1.6" ry="0.9" fill="#b7b7b7" opacity="0.55"/>
<ellipse cx="36.4" cy="18.5" rx="1.4" ry="1.3" fill="#b7b7b7" opacity="0.55"/>
<ellipse cx="30.2" cy="23.0" rx="1.1" ry="1.4" fill="#b7b7b7" opacity="0.55"/>
<ellipse cx="28.1" cy="22.3" rx="1.6" ry="1.6" fill="#3d3d3d"/>
<ellipse cx="44.9" cy="33.5" rx="14.3" ry="9.0" fill="#505050" transform="rotate(17 44.9 33.5)"/>
<ellipse cx="44.9" cy="33.5" rx="13.2" ry="7.9" fill="#6d6d6d" transform="rotate(17 44.9 33.5)"/>
<ellipse cx="51.1" cy="31.4" rx="2.7" ry="1.8" fill="#4e4e4e" opacity="0.7"/>
<ellipse cx="35.2" cy="32.2" rx="2.5" ry="1.6" fill="#4e4e4e" opacity="0.7"/>
<ellipse cx="40.0" cy="30.8" rx="2.2" ry="1.6" fill="#4e4e4e" opacity="0.7"/>
<ellipse cx="43.8" cy="29.4" rx="1.8" ry="1.2" fill="#4e4e4e" opacity="0.7"/>
<ellipse cx="46.7" cy="37.6" rx="2.3" ry="1.0" fill="#4e4e4e" opacity="0.7"/>
<ellipse cx="49.0" cy="37.3" rx="1.1" ry="1.5" fill="#8e8e8e" opacity="0.55"/>
<ellipse cx="52.1" cy="30.5" rx="1.9" ry="1.4" fill="#8e8e8e" opacity="0.55"/>
<ellipse cx="46.9" cy="38.6" rx="1.3" ry="1.7" fill="#8e8e8e" opacity="0.55"/>
<ellipse cx="47.4" cy="33.1" rx="2.1" ry="1.2" fill="#141414"/>
<circle cx="45.0" cy="30.5" r="0.8" fill="#1e1e1e"/>
<ellipse cx="75.7" cy="38.4" rx="4.2" ry="6.9" fill="#353535" transform="rotate(13 75.7 38.4)"/>
<ellipse cx="75.7" cy="38.4" rx="3.1" ry="5.8" fill="#525252" transform="rotate(13 75.7 38.4)"/>
<ellipse cx="33.1" cy="50.2" rx="12.7" ry="10.6" fill="#404040" transform="rotate(1 33.1 50.2)"/>
<ellipse cx="33.1" cy="50.2" rx="11.6" ry="9.5" fill="#5d5d5d" transform="rotate(1 33.1 50.2)"/>
<ellipse cx="42.4" cy="50.7" rx="2.7" ry="1.0" fill="#3e3e3e" opacity="0.7"/>
<ellipse cx="31.6" cy="47.9" rx="2.4" ry="1.5" fill="#3e3e3e" opacity="0.7"/>
<ellipse cx="37.8" cy="47.4" rx="2.7" ry="1.6" fill="#3e3e3e" opacity="0.7"/>
<ellipse cx="36.5" cy="51.3" rx="1.4" ry="2.1" fill="#3e3e3e" opacity="0.7"/>
<ellipse cx="34.3" cy="56.8" rx="1.9" ry="1.8" fill="#3e3e3e" opacity="0.7"/>
<ellipse cx="36.3" cy="50.7" rx="1.1" ry="1.5" fill="#7e7e7e" opacity="0.55"/>
<ellipse cx="30.1" cy="51.5" rx="1.4" ry="1.5" fill="#7e7e7e" opacity="0.55"/>
<ellipse cx="27.0" cy="48.1" rx="1.8" ry="0.9" fill="#7e7e7e" opacity="0.55"/>
<ellipse cx="33.2" cy="50.2" rx="2.5" ry="1.4" fill="#040404"/>
<circle cx="36.4" cy="51.2" r="1.0" fill="#0e0e0e"/>
<ellipse cx="58.5" cy="50.8" rx="12.2" ry="9.5" fill="#464646" transform="rotate(-16 58.5 50.8)"/>
<ellipse cx="58.5" cy="50.8" rx="11.1" ry="8.4" fill="#636363" transform="rotate(-16 58.5 50.8)"/>
<ellipse cx="64.3" cy="54.4" rx="1.6" ry="1.1" fill="#444444" opacity="0.7"/>
<ellipse cx="55.3" cy="53.4" rx="2.3" ry="1.6" fill="#444444" opacity="0.7"/>
<ellipse cx="55.6" cy="50.2" rx="1.7" ry="2.1" fill="#444444" opacity="0.7"/>
<ellipse cx="56.2" cy="45.4" rx="2.7" ry="1.3" fill="#444444" opacity="0.7"/>
<ellipse cx="59.1" cy="51.7" rx="1.6" ry="1.1" fill="#444444" opacity="0.7"/>
<ellipse cx="65.4" cy="48.3" rx="1.4" ry="1.5" fill="#848484" opacity="0.55"/>
<ellipse cx="63.3" cy="46.5" rx="1.1" ry="0.9" fill="#848484" opacity="0.55"/>
<ellipse cx="54.9" cy="50.7" rx="2.2" ry="0.9" fill="#848484" opacity="0.55"/>
<ellipse cx="60.4" cy="49.9" rx="1.9" ry="1.1" fill="#0a0a0a"/>
<ellipse cx="10.2" cy="58.2" rx="13.8" ry="13.8" fill="#606060" transform="rotate(-5 10.2 58.2)"/>
<ellipse cx="10.2" cy="58.2" rx="12.7" ry="12.7" fill="#7d7d7d" transform="rotate(-5 10.2 58.2)"/>
<ellipse cx="8.2" cy="55.8" rx="2.5" ry="1.3" fill="#5e5e5e" opacity="0.7"/>
<ellipse cx="9.1" cy="56.8" rx="2.6" ry="1.7" fill="#5e5e5e" opacity="0.7"/>
<ellipse cx="7.3" cy="59.2" rx="1.4" ry="2.0" fill="#5e5e5e" opacity="0.7"/>
<ellipse cx="12.5" cy="58.3" rx="2.4" ry="1.5" fill="#5e5e5e" opacity="0.7"/>
<ellipse cx="7.8" cy="64.2" rx="1.9" ry="1.9" fill="#5e5e5e" opacity="0.7"/>
<ellipse cx="12.8" cy="56.1" rx="1.7" ry="1.2" fill="#9e9e9e" opacity="0.55"/>
<ellipse cx="1.4" cy="58.1" rx="1.9" ry="1.1" fill="#9e9e9e" opacity="0.55"/>
<ellipse cx="7.7" cy="60.5" rx="1.6" ry="1.4" fill="#9e9e9e" opacity="0.55"/>
<ellipse cx="9.4" cy="57.2" rx="1.9" ry="1.5" fill="#242424"/>
<circle cx="7.3" cy="56.8" r="1.1" fill="#2e2e2e"/>
<ellipse cx="51.7" cy="66.9" rx="11.1" ry="8.5" fill="#606060" transform="rotate(9 51.7 66.9)"/>
<ellipse cx="51.7" cy="66.9" rx="10.0" ry="7.4" fill="#7d7d7d" transform="rotate(9 51.7 66.9)"/>
<ellipse cx="50.8" cy="72.9" rx="1.4" ry="1.2" fill="#5e5e5e" opacity="0.7"/>
<ellipse cx="46.7" cy="69.5" rx="2.1" ry="2.1" fill="#5e5e5e" opacity="0.7"/>
<ellipse cx="45.9" cy="64.2" rx="2.7" ry="2.1" fill="#5e5e5e" opacity="0.7"/>
<ellipse cx="48.7" cy="72.1" rx="2.8" ry="1.0" fill="#5e5e5e" opacity="0.7"/>
<ellipse cx="55.5" cy="64.9" rx="2.2" ry="1.4" fill="#5e5e5e" opacity="0.7"/>
<ellipse cx="48.8" cy="67.6" rx="1.5" ry="1.0" fill="#9e9e9e" opacity="0.55"/>
<ellipse cx="54.0" cy="62.1" rx="1.2" ry="1.5" fill="#9e9e9e" opacity="0.55"/>
<ellipse cx="52.7" cy="65.1" rx="1.8" ry="0.9" fill="#9e9e9e" opacity="0.55"/>
<ellipse cx="52.0" cy="66.7" rx="1.9" ry="1.4" fill="#242424"/>
<circle cx="49.6" cy="66.8" r="0.8" fill="#2e2e2e"/>
<ellipse cx="73.4" cy="65.7" rx="5.3" ry="8.5" fill="#999999" transform="rotate(2 73.4 65.7)"/>
<circle cx="76.0" cy="65.9" r="1.2" fill="#6c6c6c" opacity="0.6"/>
<circle cx="75.1" cy="64.5" r="1.3" fill="#6c6c6c" opacity="0.6"/>
<circle cx="71.6" cy="66.9" r="1.2" fill="#6c6c6c" opacity="0.6"/>
<ellipse cx="20" cy="36.6" rx="1.6" ry="1.6" fill="#bbbbbb" transform="rotate(18 20 36.6)"/>
<circle cx="20.0" cy="36.6" r="1.5" fill="#8e8e8e" opacity="0.6"/>
<circle cx="20.1" cy="36.7" r="0.8" fill="#8e8e8e" opacity="0.6"/>
<circle cx="20.0" cy="36.6" r="1.1" fill="#8e8e8e" opacity="0.6"/>
</g>
</g></g>
<clipPath id="ce8"><rect x="452.2" y="571.0" width="79.0" height="75.2"/></clipPath>
<g clip-path="url(#ce8)"><rect x="450.2" y="569.0" width="83.0" height="79.2" fill="#f0f0f0"/>
<g transform="translate(452.2,571.0)">
<ellipse cx="24.7" cy="48.5" rx="13.0" ry="6.2" fill="#f6f6f6" opacity="0.55" filter="url(#b3)"/>
<ellipse cx="73.4" cy="21.0" rx="12.2" ry="9.8" fill="#f6f6f6" opacity="0.55" filter="url(#b3)"/>
<ellipse cx="39.0" cy="20.4" rx="11.4" ry="9.3" fill="#f6f6f6" opacity="0.55" filter="url(#b3)"/>
<ellipse cx="55.5" cy="34.0" rx="13.4" ry="6.1" fill="#f6f6f6" opacity="0.55" filter="url(#b3)"/>
<ellipse cx="69.5" cy="65.8" rx="12.1" ry="7.1" fill="#f6f6f6" opacity="0.55" filter="url(#b3)"/>
<g filter="url(#cellf)">
<ellipse cx="61" cy="53.3" rx="14.3" ry="11.1" fill="#d0d0d0" transform="rotate(12 61 53.3)"/>
<circle cx="67.0" cy="49.9" r="0.9" fill="#a3a3a3" opacity="0.6"/>
<circle cx="57.8" cy="51.6" r="1.6" fill="#a3a3a3" opacity="0.6"/>
<circle cx="60.8" cy="51.1" r="0.9" fill="#a3a3a3" opacity="0.6"/>
<ellipse cx="34.3" cy="5.6" rx="11.7" ry="7.4" fill="#636363" transform="rotate(14 34.3 5.6)"/>
<ellipse cx="34.3" cy="5.6" rx="10.6" ry="6.3" fill="#808080" transform="rotate(14 34.3 5.6)"/>
<ellipse cx="33.3" cy="9.7" rx="1.6" ry="1.1" fill="#616161" opacity="0.7"/>
<ellipse cx="27.0" cy="3.8" rx="1.8" ry="1.1" fill="#616161" opacity="0.7"/>
<ellipse cx="27.6" cy="3.5" rx="2.1" ry="1.1" fill="#616161" opacity="0.7"/>
<ellipse cx="32.2" cy="5.8" rx="2.3" ry="1.1" fill="#616161" opacity="0.7"/>
<ellipse cx="36.1" cy="8.3" rx="2.2" ry="2.1" fill="#616161" opacity="0.7"/>
<ellipse cx="32.1" cy="4.6" rx="2.1" ry="0.9" fill="#a1a1a1" opacity="0.55"/>
<ellipse cx="37.5" cy="1.4" rx="1.4" ry="1.1" fill="#a1a1a1" opacity="0.55"/>
<ellipse cx="30.6" cy="2.8" rx="2.0" ry="1.3" fill="#a1a1a1" opacity="0.55"/>
<ellipse cx="35.8" cy="5.0" rx="1.6" ry="1.5" fill="#272727"/>
<ellipse cx="62.8" cy="1.9" rx="10.6" ry="3.2" fill="#303030" transform="rotate(-6 62.8 1.9)"/>
<ellipse cx="62.8" cy="1.9" rx="9.5" ry="2.1" fill="#4d4d4d" transform="rotate(-6 62.8 1.9)"/>
<ellipse cx="7.7" cy="24.2" rx="9.5" ry="13.2" fill="#747474" transform="rotate(8 7.7 24.2)"/>
<ellipse cx="7.7" cy="24.2" rx="8.4" ry="12.1" fill="#919191" transform="rotate(8 7.7 24.2)"/>
<ellipse cx="5.3" cy="21.4" rx="1.8" ry="1.3" fill="#727272" opacity="0.7"/>
<ellipse cx="14.6" cy="22.8" rx="1.8" ry="1.2" fill="#727272" opacity="0.7"/>
<ellipse cx="3.2" cy="16.5" rx="2.4" ry="2.0" fill="#727272" opacity="0.7"/>
<ellipse cx="0.9" cy="22.3" rx="1.6" ry="1.7" fill="#727272" opacity="0.7"/>
<ellipse cx="8.6" cy="28.4" rx="2.1" ry="1.3" fill="#727272" opacity="0.7"/>
<ellipse cx="8.0" cy="20.1" rx="2.2" ry="0.8" fill="#b2b2b2" opacity="0.55"/>
<ellipse cx="7.4" cy="15.4" rx="1.0" ry="1.1" fill="#b2b2b2" opacity="0.55"/>
<ellipse cx="5.4" cy="26.2" rx="1.4" ry="1.8" fill="#b2b2b2" opacity="0.55"/>
<ellipse cx="6.7" cy="23.6" rx="1.8" ry="1.1" fill="#383838"/>
<ellipse cx="23.8" cy="29.1" rx="8.0" ry="9.0" fill="#5c5c5c" transform="rotate(6 23.8 29.1)"/>
<ellipse cx="23.8" cy="29.1" rx="6.9" ry="7.9" fill="#797979" transform="rotate(6 23.8 29.1)"/>
<ellipse cx="23.0" cy="27.9" rx="2.6" ry="1.1" fill="#5a5a5a" opacity="0.7"/>
<ellipse cx="22.0" cy="28.9" rx="2.9" ry="1.3" fill="#5a5a5a" opacity="0.7"/>
<ellipse cx="25.5" cy="31.1" rx="1.5" ry="1.9" fill="#5a5a5a" opacity="0.7"/>
<ellipse cx="21.8" cy="33.5" rx="2.5" ry="1.4" fill="#5a5a5a" opacity="0.7"/>
<ellipse cx="21.4" cy="28.3" rx="2.0" ry="1.2" fill="#5a5a5a" opacity="0.7"/>
<ellipse cx="25.0" cy="25.3" rx="1.6" ry="1.4" fill="#9a9a9a" opacity="0.55"/>
<ellipse cx="25.0" cy="27.1" rx="2.1" ry="1.1" fill="#9a9a9a" opacity="0.55"/>
<ellipse cx="20.2" cy="26.3" rx="1.9" ry="1.1" fill="#9a9a9a" opacity="0.55"/>
<ellipse cx="22.3" cy="28.5" rx="2.3" ry="1.5" fill="#202020"/>
<ellipse cx="41.1" cy="28.5" rx="10.1" ry="8.5" fill="#b5b5b5" transform="rotate(-1 41.1 28.5)"/>
<circle cx="38.9" cy="29.3" r="1.5" fill="#888888" opacity="0.6"/>
<circle cx="40.6" cy="27.0" r="0.9" fill="#888888" opacity="0.6"/>
<circle cx="42.6" cy="27.8" r="0.9" fill="#888888" opacity="0.6"/>
<ellipse cx="41.1" cy="24.8" rx="3" ry="2.6" fill="#181818"/>
<ellipse cx="47" cy="30" rx="1.3" ry="1.1" fill="#202020"/>
<ellipse cx="50" cy="31" rx="1.0" ry="1.0" fill="#202020"/>
<ellipse cx="36" cy="31" rx="1.2" ry="1.0" fill="#303030"/>
<ellipse cx="39" cy="35" rx="1.0" ry="1.0" fill="#303030"/>
<ellipse cx="44" cy="35" rx="1.2" ry="1.0" fill="#303030"/>
<ellipse cx="35" cy="24" rx="1.6" ry="1.6" fill="#505050"/>
<ellipse cx="63.4" cy="35.9" rx="13.2" ry="9.0" fill="#717171" transform="rotate(-4 63.4 35.9)"/>
<ellipse cx="63.4" cy="35.9" rx="12.1" ry="7.9" fill="#8e8e8e" transform="rotate(-4 63.4 35.9)"/>
<ellipse cx="70.7" cy="38.4" rx="1.3" ry="2.0" fill="#6f6f6f" opacity="0.7"/>
<ellipse cx="65.5" cy="35.9" rx="1.5" ry="2.2" fill="#6f6f6f" opacity="0.7"/>
<ellipse cx="62.4" cy="42.4" rx="2.8" ry="2.0" fill="#6f6f6f" opacity="0.7"/>
<ellipse cx="64.0" cy="41.7" rx="2.5" ry="1.9" fill="#6f6f6f" opacity="0.7"/>
<ellipse cx="64.3" cy="34.0" rx="2.2" ry="1.3" fill="#6f6f6f" opacity="0.7"/>
<ellipse cx="64.4" cy="30.3" rx="1.6" ry="1.3" fill="#afafaf" opacity="0.55"/>
<ellipse cx="61.6" cy="40.8" rx="1.7" ry="1.1" fill="#afafaf" opacity="0.55"/>
<ellipse cx="57.3" cy="36.2" rx="1.1" ry="1.2" fill="#afafaf" opacity="0.55"/>
<ellipse cx="64.6" cy="34.8" rx="1.7" ry="1.1" fill="#353535"/>
<circle cx="62.2" cy="34.4" r="1.0" fill="#3f3f3f"/>
<ellipse cx="13.9" cy="45.8" rx="12.2" ry="8.5" fill="#a0a0a0" transform="rotate(-19 13.9 45.8)"/>
<circle cx="9.8" cy="43.2" r="1.3" fill="#737373" opacity="0.6"/>
<circle cx="16.8" cy="47.1" r="1.6" fill="#737373" opacity="0.6"/>
<circle cx="10.2" cy="46.4" r="1.2" fill="#737373" opacity="0.6"/>
<ellipse cx="61" cy="53.3" rx="10.6" ry="5.8" fill="#3c3c3c" transform="rotate(-8 61 53.3)"/>
<ellipse cx="61" cy="53.3" rx="9.5" ry="4.7" fill="#595959" transform="rotate(-8 61 53.3)"/>
<ellipse cx="59.1" cy="53.8" rx="1.5" ry="1.7" fill="#3a3a3a" opacity="0.7"/>
<ellipse cx="66.8" cy="55.2" rx="1.6" ry="1.2" fill="#3a3a3a" opacity="0.7"/>
<ellipse cx="55.9" cy="52.3" rx="2.8" ry="1.7" fill="#3a3a3a" opacity="0.7"/>
<ellipse cx="62.9" cy="50.2" rx="2.8" ry="1.8" fill="#3a3a3a" opacity="0.7"/>
<ellipse cx="59.8" cy="53.2" rx="2.0" ry="1.3" fill="#3a3a3a" opacity="0.7"/>
<ellipse cx="55.9" cy="54.3" rx="1.7" ry="1.7" fill="#7a7a7a" opacity="0.55"/>
<ellipse cx="62.3" cy="57.1" rx="1.4" ry="0.9" fill="#7a7a7a" opacity="0.55"/>
<ellipse cx="66.4" cy="52.0" rx="2.2" ry="1.3" fill="#7a7a7a" opacity="0.55"/>
<ellipse cx="61.9" cy="52.9" rx="2.0" ry="1.6" fill="#000000"/>
<ellipse cx="43.6" cy="69.4" rx="11.1" ry="5.8" fill="#414141" transform="rotate(-4 43.6 69.4)"/>
<ellipse cx="43.6" cy="69.4" rx="10.0" ry="4.7" fill="#5e5e5e" transform="rotate(-4 43.6 69.4)"/>
<ellipse cx="45.9" cy="70.4" rx="1.6" ry="2.1" fill="#3f3f3f" opacity="0.7"/>
<ellipse cx="45.6" cy="66.8" rx="2.1" ry="1.8" fill="#3f3f3f" opacity="0.7"/>
<ellipse cx="38.3" cy="71.8" rx="2.1" ry="1.2" fill="#3f3f3f" opacity="0.7"/>
<ellipse cx="41.4" cy="68.8" rx="2.2" ry="1.7" fill="#3f3f3f" opacity="0.7"/>
<ellipse cx="40.5" cy="73.0" rx="1.7" ry="1.9" fill="#3f3f3f" opacity="0.7"/>
<ellipse cx="48.1" cy="69.4" rx="1.7" ry="0.8" fill="#7f7f7f" opacity="0.55"/>
<ellipse cx="46.7" cy="72.4" rx="1.1" ry="1.6" fill="#7f7f7f" opacity="0.55"/>
<ellipse cx="41.7" cy="68.8" rx="1.7" ry="1.6" fill="#7f7f7f" opacity="0.55"/>
<ellipse cx="44.0" cy="69.6" rx="1.9" ry="1.2" fill="#050505"/>
<circle cx="41.0" cy="71.2" r="1.0" fill="#0f0f0f"/>
</g>
</g></g>
</svg>
</body></html>
